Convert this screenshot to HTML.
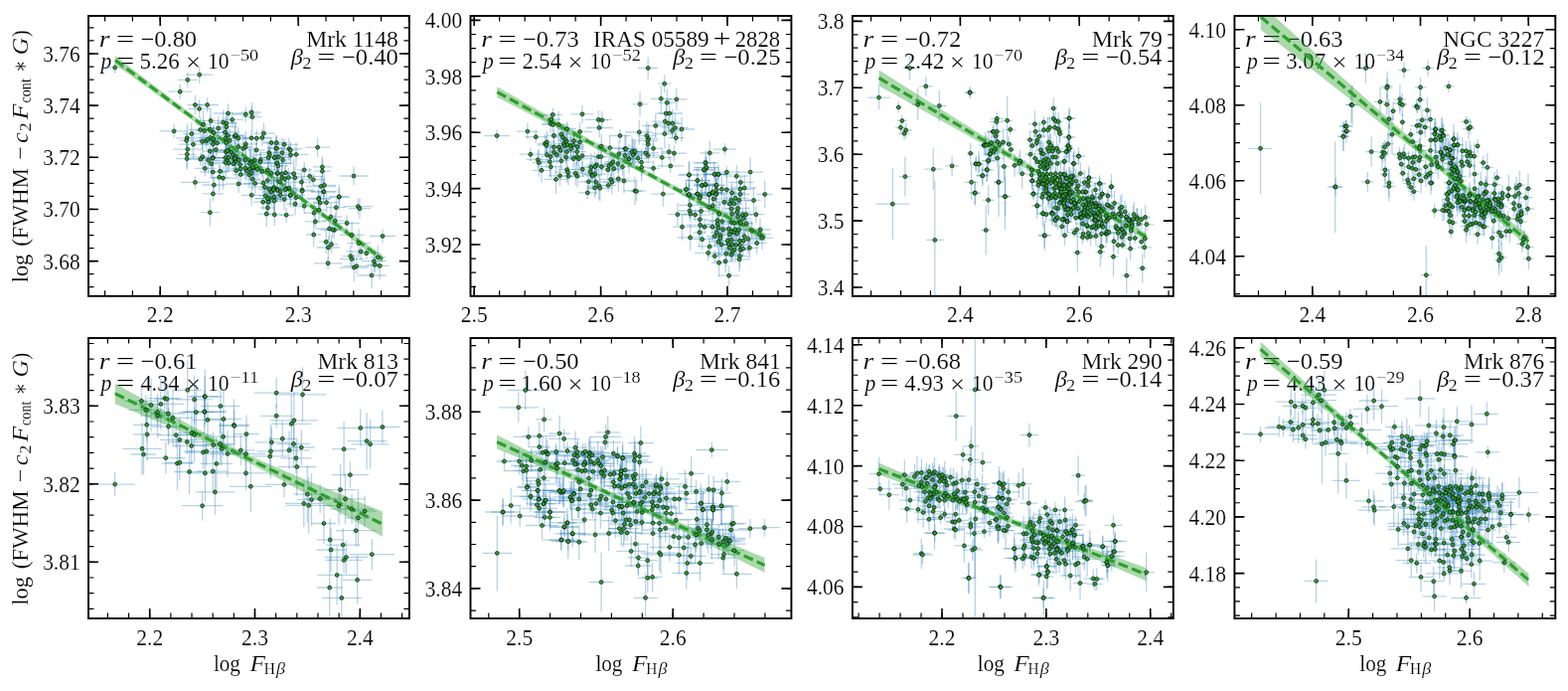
<!DOCTYPE html>
<html><head><meta charset="utf-8"><style>
html,body{margin:0;padding:0;background:#fff;width:1578px;height:695px;overflow:hidden}
svg{display:block}
svg{font-family:"Liberation Serif", "DejaVu Serif", serif;font-size:23px}
text{fill:#000;stroke:#fff;stroke-width:0.15px}
</style></head><body>
<svg width="1578" height="695" viewBox="0 0 1578 695">
<rect width="1578" height="695" fill="#fff"/>
<g><text x="161.2" y="323.7" text-anchor="middle" textLength="26.8" lengthAdjust="spacingAndGlyphs">2.2</text>
<text x="300.2" y="323.7" text-anchor="middle" textLength="26.8" lengthAdjust="spacingAndGlyphs">2.3</text>
<text x="80.6" y="61.9" text-anchor="end" textLength="37.4" lengthAdjust="spacingAndGlyphs">3.76</text>
<text x="80.6" y="114.05" text-anchor="end" textLength="37.4" lengthAdjust="spacingAndGlyphs">3.74</text>
<text x="80.6" y="166.2" text-anchor="end" textLength="37.4" lengthAdjust="spacingAndGlyphs">3.72</text>
<text x="80.6" y="218.35" text-anchor="end" textLength="37.4" lengthAdjust="spacingAndGlyphs">3.70</text>
<text x="80.6" y="270.5" text-anchor="end" textLength="37.4" lengthAdjust="spacingAndGlyphs">3.68</text>
<text x="99.68" y="46.9" font-size="23.5" font-style="italic" textLength="10.74" lengthAdjust="spacingAndGlyphs">r</text>
<text x="116.85" y="46.9" font-size="23.5" textLength="18.66" lengthAdjust="spacingAndGlyphs">=</text>
<text x="141.48" y="46.9" font-size="23.5" textLength="56.65" lengthAdjust="spacingAndGlyphs">−0.80</text>
<text x="101.56" y="69" font-size="23.5" font-style="italic" textLength="10.79" lengthAdjust="spacingAndGlyphs">p</text>
<text x="116.85" y="69" font-size="23.5" textLength="18.66" lengthAdjust="spacingAndGlyphs">=</text>
<text x="140.56" y="69" font-size="23.5" textLength="40.22" lengthAdjust="spacingAndGlyphs">5.26</text>
<text x="187.1" y="71.4" font-size="26" textLength="14.97" lengthAdjust="spacingAndGlyphs">×</text>
<text x="209.01" y="69" font-size="23.5" textLength="21.51" lengthAdjust="spacingAndGlyphs">10</text>
<text x="231.7" y="60.6" font-size="16.5" textLength="28.4" lengthAdjust="spacingAndGlyphs">−50</text>
<text x="308.23" y="46.9" font-size="23.5" textLength="92.66" lengthAdjust="spacingAndGlyphs">Mrk 1148</text>
<text x="292.89" y="65.4" font-size="23.5" font-style="italic" textLength="12.14" lengthAdjust="spacingAndGlyphs">β</text>
<text x="304.19" y="68.8" font-size="16.5" textLength="9.23" lengthAdjust="spacingAndGlyphs">2</text>
<text x="319.38" y="65.4" font-size="23.5" textLength="18.3" lengthAdjust="spacingAndGlyphs">=</text>
<text x="343.97" y="65.4" font-size="23.5" textLength="56.96" lengthAdjust="spacingAndGlyphs">−0.40</text>
<text x="477.2" y="323.7" text-anchor="middle" textLength="26.8" lengthAdjust="spacingAndGlyphs">2.5</text>
<text x="604.6" y="323.7" text-anchor="middle" textLength="26.8" lengthAdjust="spacingAndGlyphs">2.6</text>
<text x="732" y="323.7" text-anchor="middle" textLength="26.8" lengthAdjust="spacingAndGlyphs">2.7</text>
<text x="465.1" y="28.3" text-anchor="end" textLength="37.4" lengthAdjust="spacingAndGlyphs">4.00</text>
<text x="465.1" y="84.7" text-anchor="end" textLength="37.4" lengthAdjust="spacingAndGlyphs">3.98</text>
<text x="465.1" y="141.1" text-anchor="end" textLength="37.4" lengthAdjust="spacingAndGlyphs">3.96</text>
<text x="465.1" y="197.5" text-anchor="end" textLength="37.4" lengthAdjust="spacingAndGlyphs">3.94</text>
<text x="465.1" y="253.9" text-anchor="end" textLength="37.4" lengthAdjust="spacingAndGlyphs">3.92</text>
<text x="484.18" y="46.9" font-size="23.5" font-style="italic" textLength="10.74" lengthAdjust="spacingAndGlyphs">r</text>
<text x="501.35" y="46.9" font-size="23.5" textLength="18.66" lengthAdjust="spacingAndGlyphs">=</text>
<text x="525.98" y="46.9" font-size="23.5" textLength="56.68" lengthAdjust="spacingAndGlyphs">−0.73</text>
<text x="486.06" y="69" font-size="23.5" font-style="italic" textLength="10.79" lengthAdjust="spacingAndGlyphs">p</text>
<text x="501.35" y="69" font-size="23.5" textLength="18.66" lengthAdjust="spacingAndGlyphs">=</text>
<text x="525.41" y="69" font-size="23.5" textLength="39.55" lengthAdjust="spacingAndGlyphs">2.54</text>
<text x="571.6" y="71.4" font-size="26" textLength="14.97" lengthAdjust="spacingAndGlyphs">×</text>
<text x="593.51" y="69" font-size="23.5" textLength="21.51" lengthAdjust="spacingAndGlyphs">10</text>
<text x="616.19" y="60.6" font-size="16.5" textLength="28.73" lengthAdjust="spacingAndGlyphs">−52</text>
<text x="597.06" y="46.9" font-size="23.5" textLength="116.59" lengthAdjust="spacingAndGlyphs">IRAS 05589</text>
<text x="717.41" y="47.3" font-size="25.5" textLength="18.06" lengthAdjust="spacingAndGlyphs">+</text>
<text x="739.81" y="46.9" font-size="23.5" textLength="45.26" lengthAdjust="spacingAndGlyphs">2828</text>
<text x="677.39" y="65.4" font-size="23.5" font-style="italic" textLength="12.14" lengthAdjust="spacingAndGlyphs">β</text>
<text x="688.69" y="68.8" font-size="16.5" textLength="9.23" lengthAdjust="spacingAndGlyphs">2</text>
<text x="703.88" y="65.4" font-size="23.5" textLength="18.3" lengthAdjust="spacingAndGlyphs">=</text>
<text x="728.47" y="65.4" font-size="23.5" textLength="56.99" lengthAdjust="spacingAndGlyphs">−0.25</text>
<text x="966.4" y="323.7" text-anchor="middle" textLength="26.8" lengthAdjust="spacingAndGlyphs">2.4</text>
<text x="1086.2" y="323.7" text-anchor="middle" textLength="26.8" lengthAdjust="spacingAndGlyphs">2.6</text>
<text x="849.5" y="29.3" text-anchor="end" textLength="26.8" lengthAdjust="spacingAndGlyphs">3.8</text>
<text x="849.5" y="96.2" text-anchor="end" textLength="26.8" lengthAdjust="spacingAndGlyphs">3.7</text>
<text x="849.5" y="163.1" text-anchor="end" textLength="26.8" lengthAdjust="spacingAndGlyphs">3.6</text>
<text x="849.5" y="230" text-anchor="end" textLength="26.8" lengthAdjust="spacingAndGlyphs">3.5</text>
<text x="849.5" y="296.9" text-anchor="end" textLength="26.8" lengthAdjust="spacingAndGlyphs">3.4</text>
<text x="868.58" y="46.9" font-size="23.5" font-style="italic" textLength="10.74" lengthAdjust="spacingAndGlyphs">r</text>
<text x="885.75" y="46.9" font-size="23.5" textLength="18.66" lengthAdjust="spacingAndGlyphs">=</text>
<text x="910.37" y="46.9" font-size="23.5" textLength="57.09" lengthAdjust="spacingAndGlyphs">−0.72</text>
<text x="870.46" y="69" font-size="23.5" font-style="italic" textLength="10.79" lengthAdjust="spacingAndGlyphs">p</text>
<text x="885.75" y="69" font-size="23.5" textLength="18.66" lengthAdjust="spacingAndGlyphs">=</text>
<text x="909.78" y="69" font-size="23.5" textLength="40.49" lengthAdjust="spacingAndGlyphs">2.42</text>
<text x="956" y="71.4" font-size="26" textLength="14.97" lengthAdjust="spacingAndGlyphs">×</text>
<text x="977.91" y="69" font-size="23.5" textLength="21.51" lengthAdjust="spacingAndGlyphs">10</text>
<text x="1000.6" y="60.6" font-size="16.5" textLength="28.4" lengthAdjust="spacingAndGlyphs">−70</text>
<text x="1098.81" y="46.9" font-size="23.5" textLength="71.07" lengthAdjust="spacingAndGlyphs">Mrk 79</text>
<text x="1061.79" y="65.4" font-size="23.5" font-style="italic" textLength="12.14" lengthAdjust="spacingAndGlyphs">β</text>
<text x="1073.09" y="68.8" font-size="16.5" textLength="9.23" lengthAdjust="spacingAndGlyphs">2</text>
<text x="1088.28" y="65.4" font-size="23.5" textLength="18.3" lengthAdjust="spacingAndGlyphs">=</text>
<text x="1112.89" y="65.4" font-size="23.5" textLength="56.39" lengthAdjust="spacingAndGlyphs">−0.54</text>
<text x="1320.8" y="323.7" text-anchor="middle" textLength="26.8" lengthAdjust="spacingAndGlyphs">2.4</text>
<text x="1429.5" y="323.7" text-anchor="middle" textLength="26.8" lengthAdjust="spacingAndGlyphs">2.6</text>
<text x="1538.2" y="323.7" text-anchor="middle" textLength="26.8" lengthAdjust="spacingAndGlyphs">2.8</text>
<text x="1234" y="37.6" text-anchor="end" textLength="37.4" lengthAdjust="spacingAndGlyphs">4.10</text>
<text x="1234" y="113.6" text-anchor="end" textLength="37.4" lengthAdjust="spacingAndGlyphs">4.08</text>
<text x="1234" y="189.6" text-anchor="end" textLength="37.4" lengthAdjust="spacingAndGlyphs">4.06</text>
<text x="1234" y="265.6" text-anchor="end" textLength="37.4" lengthAdjust="spacingAndGlyphs">4.04</text>
<text x="1253.08" y="46.9" font-size="23.5" font-style="italic" textLength="10.74" lengthAdjust="spacingAndGlyphs">r</text>
<text x="1270.25" y="46.9" font-size="23.5" textLength="18.66" lengthAdjust="spacingAndGlyphs">=</text>
<text x="1294.88" y="46.9" font-size="23.5" textLength="56.68" lengthAdjust="spacingAndGlyphs">−0.63</text>
<text x="1254.96" y="69" font-size="23.5" font-style="italic" textLength="10.79" lengthAdjust="spacingAndGlyphs">p</text>
<text x="1270.25" y="69" font-size="23.5" textLength="18.66" lengthAdjust="spacingAndGlyphs">=</text>
<text x="1294.21" y="69" font-size="23.5" textLength="39.95" lengthAdjust="spacingAndGlyphs">3.07</text>
<text x="1340.5" y="71.4" font-size="26" textLength="14.97" lengthAdjust="spacingAndGlyphs">×</text>
<text x="1362.41" y="69" font-size="23.5" textLength="21.51" lengthAdjust="spacingAndGlyphs">10</text>
<text x="1385.11" y="60.6" font-size="16.5" textLength="27.97" lengthAdjust="spacingAndGlyphs">−34</text>
<text x="1452.23" y="46.9" font-size="23.5" textLength="101.85" lengthAdjust="spacingAndGlyphs">NGC 3227</text>
<text x="1446.29" y="65.4" font-size="23.5" font-style="italic" textLength="12.14" lengthAdjust="spacingAndGlyphs">β</text>
<text x="1457.59" y="68.8" font-size="16.5" textLength="9.23" lengthAdjust="spacingAndGlyphs">2</text>
<text x="1472.78" y="65.4" font-size="23.5" textLength="18.3" lengthAdjust="spacingAndGlyphs">=</text>
<text x="1497.36" y="65.4" font-size="23.5" textLength="57.4" lengthAdjust="spacingAndGlyphs">−0.12</text>
<text x="150.7" y="648.7" text-anchor="middle" textLength="26.8" lengthAdjust="spacingAndGlyphs">2.2</text>
<text x="256.5" y="648.7" text-anchor="middle" textLength="26.8" lengthAdjust="spacingAndGlyphs">2.3</text>
<text x="362.3" y="648.7" text-anchor="middle" textLength="26.8" lengthAdjust="spacingAndGlyphs">2.4</text>
<text x="80.6" y="416.2" text-anchor="end" textLength="37.4" lengthAdjust="spacingAndGlyphs">3.83</text>
<text x="80.6" y="494.7" text-anchor="end" textLength="37.4" lengthAdjust="spacingAndGlyphs">3.82</text>
<text x="80.6" y="573.2" text-anchor="end" textLength="37.4" lengthAdjust="spacingAndGlyphs">3.81</text>
<text x="99.68" y="370.9" font-size="23.5" font-style="italic" textLength="10.74" lengthAdjust="spacingAndGlyphs">r</text>
<text x="116.85" y="370.9" font-size="23.5" textLength="18.66" lengthAdjust="spacingAndGlyphs">=</text>
<text x="141.47" y="370.9" font-size="23.5" textLength="57.22" lengthAdjust="spacingAndGlyphs">−0.61</text>
<text x="101.56" y="393" font-size="23.5" font-style="italic" textLength="10.79" lengthAdjust="spacingAndGlyphs">p</text>
<text x="116.85" y="393" font-size="23.5" textLength="18.66" lengthAdjust="spacingAndGlyphs">=</text>
<text x="141.46" y="393" font-size="23.5" textLength="38.98" lengthAdjust="spacingAndGlyphs">4.34</text>
<text x="187.1" y="395.4" font-size="26" textLength="14.97" lengthAdjust="spacingAndGlyphs">×</text>
<text x="209.01" y="393" font-size="23.5" textLength="21.51" lengthAdjust="spacingAndGlyphs">10</text>
<text x="231.68" y="384.6" font-size="16.5" textLength="28.82" lengthAdjust="spacingAndGlyphs">−11</text>
<text x="319.52" y="370.9" font-size="23.5" textLength="81.39" lengthAdjust="spacingAndGlyphs">Mrk 813</text>
<text x="292.89" y="389.4" font-size="23.5" font-style="italic" textLength="12.14" lengthAdjust="spacingAndGlyphs">β</text>
<text x="304.19" y="392.8" font-size="16.5" textLength="9.23" lengthAdjust="spacingAndGlyphs">2</text>
<text x="319.38" y="389.4" font-size="23.5" textLength="18.3" lengthAdjust="spacingAndGlyphs">=</text>
<text x="343.98" y="389.4" font-size="23.5" textLength="56.73" lengthAdjust="spacingAndGlyphs">−0.07</text>
<text x="214.95" y="674.8" textLength="27" lengthAdjust="spacingAndGlyphs">log</text>
<text x="251.45" y="674.8" font-style="italic" textLength="15.5" lengthAdjust="spacingAndGlyphs">F</text>
<text x="265.65" y="678" font-size="16.5" textLength="11.1" lengthAdjust="spacingAndGlyphs">H</text>
<text x="277.95" y="678" font-size="16.5" font-style="italic" textLength="9" lengthAdjust="spacingAndGlyphs">β</text>
<text x="522.7" y="648.7" text-anchor="middle" textLength="26.8" lengthAdjust="spacingAndGlyphs">2.5</text>
<text x="677.2" y="648.7" text-anchor="middle" textLength="26.8" lengthAdjust="spacingAndGlyphs">2.6</text>
<text x="465.1" y="422.2" text-anchor="end" textLength="37.4" lengthAdjust="spacingAndGlyphs">3.88</text>
<text x="465.1" y="511" text-anchor="end" textLength="37.4" lengthAdjust="spacingAndGlyphs">3.86</text>
<text x="465.1" y="599.8" text-anchor="end" textLength="37.4" lengthAdjust="spacingAndGlyphs">3.84</text>
<text x="484.18" y="370.9" font-size="23.5" font-style="italic" textLength="10.74" lengthAdjust="spacingAndGlyphs">r</text>
<text x="501.35" y="370.9" font-size="23.5" textLength="18.66" lengthAdjust="spacingAndGlyphs">=</text>
<text x="525.98" y="370.9" font-size="23.5" textLength="56.65" lengthAdjust="spacingAndGlyphs">−0.50</text>
<text x="486.06" y="393" font-size="23.5" font-style="italic" textLength="10.79" lengthAdjust="spacingAndGlyphs">p</text>
<text x="501.35" y="393" font-size="23.5" textLength="18.66" lengthAdjust="spacingAndGlyphs">=</text>
<text x="524.33" y="393" font-size="23.5" textLength="41.16" lengthAdjust="spacingAndGlyphs">1.60</text>
<text x="571.6" y="395.4" font-size="26" textLength="14.97" lengthAdjust="spacingAndGlyphs">×</text>
<text x="593.51" y="393" font-size="23.5" textLength="21.51" lengthAdjust="spacingAndGlyphs">10</text>
<text x="616.2" y="384.6" font-size="16.5" textLength="28.4" lengthAdjust="spacingAndGlyphs">−18</text>
<text x="704.02" y="370.9" font-size="23.5" textLength="81.9" lengthAdjust="spacingAndGlyphs">Mrk 841</text>
<text x="677.39" y="389.4" font-size="23.5" font-style="italic" textLength="12.14" lengthAdjust="spacingAndGlyphs">β</text>
<text x="688.69" y="392.8" font-size="16.5" textLength="9.23" lengthAdjust="spacingAndGlyphs">2</text>
<text x="703.88" y="389.4" font-size="23.5" textLength="18.3" lengthAdjust="spacingAndGlyphs">=</text>
<text x="728.48" y="389.4" font-size="23.5" textLength="56.75" lengthAdjust="spacingAndGlyphs">−0.16</text>
<text x="599.45" y="674.8" textLength="27" lengthAdjust="spacingAndGlyphs">log</text>
<text x="635.95" y="674.8" font-style="italic" textLength="15.5" lengthAdjust="spacingAndGlyphs">F</text>
<text x="650.15" y="678" font-size="16.5" textLength="11.1" lengthAdjust="spacingAndGlyphs">H</text>
<text x="662.45" y="678" font-size="16.5" font-style="italic" textLength="9" lengthAdjust="spacingAndGlyphs">β</text>
<text x="948" y="648.7" text-anchor="middle" textLength="26.8" lengthAdjust="spacingAndGlyphs">2.2</text>
<text x="1052.85" y="648.7" text-anchor="middle" textLength="26.8" lengthAdjust="spacingAndGlyphs">2.3</text>
<text x="1157.7" y="648.7" text-anchor="middle" textLength="26.8" lengthAdjust="spacingAndGlyphs">2.4</text>
<text x="849.5" y="354.7" text-anchor="end" textLength="37.4" lengthAdjust="spacingAndGlyphs">4.14</text>
<text x="849.5" y="415.6" text-anchor="end" textLength="37.4" lengthAdjust="spacingAndGlyphs">4.12</text>
<text x="849.5" y="476.5" text-anchor="end" textLength="37.4" lengthAdjust="spacingAndGlyphs">4.10</text>
<text x="849.5" y="537.4" text-anchor="end" textLength="37.4" lengthAdjust="spacingAndGlyphs">4.08</text>
<text x="849.5" y="598.3" text-anchor="end" textLength="37.4" lengthAdjust="spacingAndGlyphs">4.06</text>
<text x="868.58" y="370.9" font-size="23.5" font-style="italic" textLength="10.74" lengthAdjust="spacingAndGlyphs">r</text>
<text x="885.75" y="370.9" font-size="23.5" textLength="18.66" lengthAdjust="spacingAndGlyphs">=</text>
<text x="910.38" y="370.9" font-size="23.5" textLength="56.65" lengthAdjust="spacingAndGlyphs">−0.68</text>
<text x="870.46" y="393" font-size="23.5" font-style="italic" textLength="10.79" lengthAdjust="spacingAndGlyphs">p</text>
<text x="885.75" y="393" font-size="23.5" textLength="18.66" lengthAdjust="spacingAndGlyphs">=</text>
<text x="910.36" y="393" font-size="23.5" textLength="39.52" lengthAdjust="spacingAndGlyphs">4.93</text>
<text x="956" y="395.4" font-size="26" textLength="14.97" lengthAdjust="spacingAndGlyphs">×</text>
<text x="977.91" y="393" font-size="23.5" textLength="21.51" lengthAdjust="spacingAndGlyphs">10</text>
<text x="1000.6" y="384.6" font-size="16.5" textLength="28.41" lengthAdjust="spacingAndGlyphs">−35</text>
<text x="1088.42" y="370.9" font-size="23.5" textLength="81.37" lengthAdjust="spacingAndGlyphs">Mrk 290</text>
<text x="1061.79" y="389.4" font-size="23.5" font-style="italic" textLength="12.14" lengthAdjust="spacingAndGlyphs">β</text>
<text x="1073.09" y="392.8" font-size="16.5" textLength="9.23" lengthAdjust="spacingAndGlyphs">2</text>
<text x="1088.28" y="389.4" font-size="23.5" textLength="18.3" lengthAdjust="spacingAndGlyphs">=</text>
<text x="1112.89" y="389.4" font-size="23.5" textLength="56.39" lengthAdjust="spacingAndGlyphs">−0.14</text>
<text x="983.85" y="674.8" textLength="27" lengthAdjust="spacingAndGlyphs">log</text>
<text x="1020.35" y="674.8" font-style="italic" textLength="15.5" lengthAdjust="spacingAndGlyphs">F</text>
<text x="1034.55" y="678" font-size="16.5" textLength="11.1" lengthAdjust="spacingAndGlyphs">H</text>
<text x="1046.85" y="678" font-size="16.5" font-style="italic" textLength="9" lengthAdjust="spacingAndGlyphs">β</text>
<text x="1357.2" y="648.7" text-anchor="middle" textLength="26.8" lengthAdjust="spacingAndGlyphs">2.5</text>
<text x="1479.1" y="648.7" text-anchor="middle" textLength="26.8" lengthAdjust="spacingAndGlyphs">2.6</text>
<text x="1234" y="357.7" text-anchor="end" textLength="37.4" lengthAdjust="spacingAndGlyphs">4.26</text>
<text x="1234" y="414.4" text-anchor="end" textLength="37.4" lengthAdjust="spacingAndGlyphs">4.24</text>
<text x="1234" y="471.1" text-anchor="end" textLength="37.4" lengthAdjust="spacingAndGlyphs">4.22</text>
<text x="1234" y="527.8" text-anchor="end" textLength="37.4" lengthAdjust="spacingAndGlyphs">4.20</text>
<text x="1234" y="584.5" text-anchor="end" textLength="37.4" lengthAdjust="spacingAndGlyphs">4.18</text>
<text x="1253.08" y="370.9" font-size="23.5" font-style="italic" textLength="10.74" lengthAdjust="spacingAndGlyphs">r</text>
<text x="1270.25" y="370.9" font-size="23.5" textLength="18.66" lengthAdjust="spacingAndGlyphs">=</text>
<text x="1294.88" y="370.9" font-size="23.5" textLength="56.73" lengthAdjust="spacingAndGlyphs">−0.59</text>
<text x="1254.96" y="393" font-size="23.5" font-style="italic" textLength="10.79" lengthAdjust="spacingAndGlyphs">p</text>
<text x="1270.25" y="393" font-size="23.5" textLength="18.66" lengthAdjust="spacingAndGlyphs">=</text>
<text x="1294.86" y="393" font-size="23.5" textLength="39.52" lengthAdjust="spacingAndGlyphs">4.43</text>
<text x="1340.5" y="395.4" font-size="26" textLength="14.97" lengthAdjust="spacingAndGlyphs">×</text>
<text x="1362.41" y="393" font-size="23.5" textLength="21.51" lengthAdjust="spacingAndGlyphs">10</text>
<text x="1385.09" y="384.6" font-size="16.5" textLength="28.45" lengthAdjust="spacingAndGlyphs">−29</text>
<text x="1472.93" y="370.9" font-size="23.5" textLength="81.17" lengthAdjust="spacingAndGlyphs">Mrk 876</text>
<text x="1446.29" y="389.4" font-size="23.5" font-style="italic" textLength="12.14" lengthAdjust="spacingAndGlyphs">β</text>
<text x="1457.59" y="392.8" font-size="16.5" textLength="9.23" lengthAdjust="spacingAndGlyphs">2</text>
<text x="1472.78" y="389.4" font-size="23.5" textLength="18.3" lengthAdjust="spacingAndGlyphs">=</text>
<text x="1497.38" y="389.4" font-size="23.5" textLength="56.73" lengthAdjust="spacingAndGlyphs">−0.37</text>
<text x="1368.35" y="674.8" textLength="27" lengthAdjust="spacingAndGlyphs">log</text>
<text x="1404.85" y="674.8" font-style="italic" textLength="15.5" lengthAdjust="spacingAndGlyphs">F</text>
<text x="1419.05" y="678" font-size="16.5" textLength="11.1" lengthAdjust="spacingAndGlyphs">H</text>
<text x="1431.35" y="678" font-size="16.5" font-style="italic" textLength="9" lengthAdjust="spacingAndGlyphs">β</text>
<g transform="translate(27.6 283.8) rotate(-90)"><text x="-0.45" y="0" textLength="28.47" lengthAdjust="spacingAndGlyphs">log</text><text x="36.07" y="0" textLength="7.78" lengthAdjust="spacingAndGlyphs">(</text><text x="43.34" y="0" textLength="71.43" lengthAdjust="spacingAndGlyphs">FWHM</text><text x="123.01" y="0" textLength="13.45" lengthAdjust="spacingAndGlyphs">−</text><text x="140.17" y="0" font-style="italic" textLength="10.48" lengthAdjust="spacingAndGlyphs">c</text><text x="151.62" y="3.4" font-size="16.5" textLength="8.86" lengthAdjust="spacingAndGlyphs">2</text><text x="163.64" y="0" font-style="italic" textLength="15.85" lengthAdjust="spacingAndGlyphs">F</text><text x="180.26" y="3.4" font-size="16.5" textLength="24.42" lengthAdjust="spacingAndGlyphs">cont</text><text x="210.75" y="0" textLength="12.5" lengthAdjust="spacingAndGlyphs" font-family="DejaVu Serif">∗</text><text x="228.67" y="0" font-style="italic" textLength="17.45" lengthAdjust="spacingAndGlyphs">G</text><text x="246.52" y="0" textLength="7" lengthAdjust="spacingAndGlyphs">)</text></g>
<g transform="translate(27.6 608.2) rotate(-90)"><text x="-0.45" y="0" textLength="28.47" lengthAdjust="spacingAndGlyphs">log</text><text x="36.07" y="0" textLength="7.78" lengthAdjust="spacingAndGlyphs">(</text><text x="43.34" y="0" textLength="71.43" lengthAdjust="spacingAndGlyphs">FWHM</text><text x="123.01" y="0" textLength="13.45" lengthAdjust="spacingAndGlyphs">−</text><text x="140.17" y="0" font-style="italic" textLength="10.48" lengthAdjust="spacingAndGlyphs">c</text><text x="151.62" y="3.4" font-size="16.5" textLength="8.86" lengthAdjust="spacingAndGlyphs">2</text><text x="163.64" y="0" font-style="italic" textLength="15.85" lengthAdjust="spacingAndGlyphs">F</text><text x="180.26" y="3.4" font-size="16.5" textLength="24.42" lengthAdjust="spacingAndGlyphs">cont</text><text x="210.75" y="0" textLength="12.5" lengthAdjust="spacingAndGlyphs" font-family="DejaVu Serif">∗</text><text x="228.67" y="0" font-style="italic" textLength="17.45" lengthAdjust="spacingAndGlyphs">G</text><text x="246.52" y="0" textLength="7" lengthAdjust="spacingAndGlyphs">)</text></g></g>
<clipPath id="c0"><rect x="89" y="16" width="322.9" height="281.8"/></clipPath>
<g clip-path="url(#c0)">
<g stroke="#1f77b4" stroke-opacity="0.32" stroke-width="1.3" fill="none"><path d="M105.37 67.9h20.67M115.7 61.81v12.18"/><path d="M187.1 75.1h27.2M200.7 66.41v17.38"/><path d="M178.85 80.4h19.89M188.8 72.66v15.49"/><path d="M169.67 92.2h23.06M181.2 84.74v14.91"/><path d="M188.41 105.5h15.99M196.4 95.6v19.79"/><path d="M197.1 105.5h22.99M208.6 97.93v15.14"/><path d="M189.17 109.4h22.85M200.6 100.21v18.39"/><path d="M160.44 131.9h29.33M175.1 125.08v13.64"/><path d="M214.77 114h29.66M229.6 104.29v19.42"/><path d="M222.67 120.4h22.06M233.7 113.07v14.67"/><path d="M234.55 115.1h25.5M247.3 107.39v15.42"/><path d="M243.37 113h19.46M253.1 106.79v12.42"/><path d="M244.08 117.6h19.43M253.8 102.89v29.41"/><path d="M197.27 121.4h29.66M212.1 108.7v25.4"/><path d="M197.57 125h14.06M204.6 110.54v28.92"/><path d="M210.73 123.3h27.93M224.7 110.36v25.88"/><path d="M219.17 124h16.86M227.6 117.1v13.79"/><path d="M217.58 127.6h20.63M227.9 113.63v27.94"/><path d="M190.08 130.5h23.25M201.7 117.87v25.26"/><path d="M196.94 131.5h17.72M205.8 120.79v21.42"/><path d="M198.72 130.2h25.35M211.4 116.78v26.85"/><path d="M201.64 133.4h26.91M215.1 125.31v16.18"/><path d="M212.51 133h27.97M226.5 125.05v15.89"/><path d="M215.68 136.3h26.83M229.1 125.3v21.99"/><path d="M184.31 134.5h16.97M192.8 123.2v22.59"/><path d="M177.15 138.8h22.29M188.3 124.17v29.26"/><path d="M180.27 141.3h14.66M187.6 133.82v14.95"/><path d="M179.63 145.2h29.73M194.5 131.71v26.98"/><path d="M195.5 142.4h16.4M203.7 134.34v16.12"/><path d="M196.19 141.7h22.63M207.5 134.29v14.83"/><path d="M199.31 140.3h19.18M208.9 133.86v12.89"/><path d="M199.11 138.4h25.39M211.8 131.69v13.41"/><path d="M199.74 141.3h29.91M214.7 127.01v28.57"/><path d="M201.09 144.9h26.62M214.4 131.95v25.9"/><path d="M208.66 143.7h19.88M218.6 131.59v24.22"/><path d="M213.81 139.1h26.18M226.9 128.77v20.65"/><path d="M223.71 141.3h14.98M231.2 129.67v23.27"/><path d="M217.99 143.5h19.21M227.6 132.01v22.98"/><path d="M225.93 137h20.73M236.3 122.43v29.15"/><path d="M228.69 136h17.23M237.3 123.08v25.84"/><path d="M227.31 139.1h25.18M239.9 128.09v22.02"/><path d="M245.46 138.8h15.28M253.1 131.32v14.97"/><path d="M243.56 139.1h29.48M258.3 131.02v16.15"/><path d="M255.39 138.4h16.62M263.7 129.81v17.19"/><path d="M254.2 134.1h22.59M265.5 123.42v21.35"/><path d="M265.97 143.5h14.05M273 137.47v12.06"/><path d="M267.33 143.5h21.94M278.3 135.84v15.33"/><path d="M235.44 144.9h23.72M247.3 131.71v26.37"/><path d="M239.23 147.8h15.53M247 137.25v21.09"/><path d="M234.35 149.5h20.5M244.6 136.39v26.23"/><path d="M174.16 150.2h29.28M188.8 140.45v19.5"/><path d="M179.35 155.3h17.89M188.3 141.39v27.81"/><path d="M204.18 152.1h14.44M211.4 143.13v17.95"/><path d="M207.14 150.6h20.32M217.3 143v15.2"/><path d="M214.86 152.8h24.88M227.3 142.14v21.33"/><path d="M221.11 150.9h17.98M230.1 141.18v19.44"/><path d="M220.16 153.2h25.07M232.7 144.28v17.85"/><path d="M226.96 155.7h15.08M234.5 145.56v20.29"/><path d="M249.54 150.9h17.12M258.1 139.31v23.18"/><path d="M262.18 153.5h17.23M270.8 146.28v14.43"/><path d="M257.35 155.7h28.3M271.5 146.73v17.95"/><path d="M268.66 149.2h18.68M278 138.36v21.69"/><path d="M191.35 157.8h25.09M203.9 145.76v24.08"/><path d="M201.01 158.6h26.77M214.4 150.26v16.68"/><path d="M216.48 158.6h20.83M226.9 149.32v18.55"/><path d="M176.97 159.6h22.27M188.1 148.43v22.33"/><path d="M189.67 160.1h24.07M201.7 153.49v13.22"/><path d="M199.63 161.2h19.94M209.6 148.82v24.75"/><path d="M205.22 164.7h14.57M212.5 151.98v25.43"/><path d="M201.71 159.1h24.97M214.2 149.48v19.23"/><path d="M195.71 169.4h21.19M206.3 161.02v16.76"/><path d="M201.3 173h25.8M214.2 162.68v20.65"/><path d="M212.48 172.3h18.24M221.6 166.04v12.53"/><path d="M210.94 178.3h19.52M220.7 164.01v28.58"/><path d="M212.09 179.2h24.82M224.5 167.57v23.26"/><path d="M181.93 183.4h28.94M196.4 177.12v12.55"/><path d="M203.58 186h23.64M215.4 178.31v15.38"/><path d="M204.22 194.9h20.35M214.4 187.26v15.27"/><path d="M201.61 213.7h19.59M211.4 199.59v28.22"/><path d="M215.5 161.5h25.61M228.3 147.88v27.23"/><path d="M222.6 164.1h15.21M230.2 155.39v17.42"/><path d="M224.03 162.2h26.55M237.3 155.84v12.73"/><path d="M231.78 160.8h17.04M240.3 154.06v13.47"/><path d="M228.06 165.5h27.08M241.6 157.41v16.18"/><path d="M231.61 169.7h20.79M242 163.58v12.25"/><path d="M234.39 175.5h15.82M242.3 164.87v21.25"/><path d="M226.77 185h26.66M240.1 175.93v18.14"/><path d="M237.35 160.8h19.11M246.9 154.43v12.73"/><path d="M240.4 171.9h15.59M248.2 164.56v14.67"/><path d="M242.75 169.9h17.3M251.4 158.77v22.26"/><path d="M245.13 169h19.74M255 154.2v29.6"/><path d="M241.63 175.9h18.55M250.9 162.19v27.41"/><path d="M246.47 180.2h15.47M254.2 169.45v21.5"/><path d="M245.3 184.5h22.79M256.7 172.58v23.83"/><path d="M242.92 196.3h20.56M253.2 185.58v21.43"/><path d="M248.98 160.8h26.44M262.2 153.44v14.73"/><path d="M250.65 163h22.51M261.9 151.71v22.59"/><path d="M256.15 170.9h26.51M269.4 163.43v14.95"/><path d="M253.28 172.3h20.63M263.6 166.08v12.44"/><path d="M257.1 181.4h24.6M269.4 167.59v27.62"/><path d="M255.17 184.1h19.66M265 170.75v26.69"/><path d="M254.24 188.1h24.53M266.5 181.95v12.31"/><path d="M260.04 190.3h21.52M270.8 183.89v12.82"/><path d="M263.49 193.2h19.01M273 179.99v26.41"/><path d="M267.8 188.8h16.01M275.8 177.71v22.18"/><path d="M259.75 196.8h14.91M267.2 189.81v13.98"/><path d="M256.88 199.6h29.23M271.5 192.73v13.74"/><path d="M267.41 198.2h16.79M275.8 183.74v28.92"/><path d="M255.23 203.2h18.94M264.7 195.25v15.9"/><path d="M262.33 203.2h15.54M270.1 192.71v20.99"/><path d="M261.93 209h14.94M269.4 201.02v15.96"/><path d="M259.42 215.2h17.55M268.2 202.49v25.41"/><path d="M268 215.9h16.59M276.3 204.61v22.59"/><path d="M261.17 158.6h17.87M270.1 143.66v29.89"/><path d="M261.37 158.6h29.85M276.3 144.29v28.63"/><path d="M264.9 174.5h28.4M279.1 163.52v21.97"/><path d="M264.25 164.4h28.89M278.7 152.64v23.52"/><path d="M270.42 190.3h16.55M278.7 177.71v25.18"/><path d="M272.31 145.3h27.59M286.1 139.17v12.26"/><path d="M269.64 149.2h17.12M278.2 136.14v26.12"/><path d="M277.66 149.6h26.29M290.8 138.55v22.09"/><path d="M284.32 151.1h15.96M292.3 142.71v16.77"/><path d="M275.01 153.5h17.77M283.9 138.67v29.65"/><path d="M283.8 155.8h17.61M292.6 146.47v18.66"/><path d="M285.49 155.4h25.02M298 143.43v23.94"/><path d="M264.9 158.3h23M276.4 146.44v23.71"/><path d="M266.58 157.8h27.84M280.5 143.57v28.45"/><path d="M276.73 160.9h15.74M284.6 154.63v12.54"/><path d="M264.69 164h28.62M279 149.81v28.38"/><path d="M270.06 166.9h19.89M280 157.3v19.19"/><path d="M307.12 148.2h24.96M319.6 138.41v19.59"/><path d="M298.31 170.9h15.78M306.2 162.66v16.49"/><path d="M314.97 167.9h18.86M324.4 156.8v22.19"/><path d="M316.03 172.2h16.74M324.4 159.64v25.12"/><path d="M341.24 177h29.52M356 167.54v18.93"/><path d="M267.74 174.1h23.13M279.3 162.37v23.45"/><path d="M270.22 174.8h26.77M283.6 163.14v23.32"/><path d="M276.37 173.7h22.26M287.5 161.22v24.97"/><path d="M288.41 174.8h14.38M295.6 160.34v28.92"/><path d="M269.71 178.7h28.38M283.9 166.46v24.49"/><path d="M277.89 179.9h17.23M286.5 168.27v23.26"/><path d="M283.18 178.4h14.45M290.4 168.82v19.16"/><path d="M288.18 178.8h17.45M296.9 167.75v22.1"/><path d="M272.5 182.7h18.01M281.5 175.87v13.66"/><path d="M298.35 177.3h26.7M311.7 169.04v16.52"/><path d="M303.82 180.6h22.96M315.3 174.45v12.3"/><path d="M291.99 183.2h23.02M303.5 170.1v26.21"/><path d="M262.42 188.5h26.56M275.7 179.54v17.91"/><path d="M271.27 191.4h16.05M279.3 179.91v22.97"/><path d="M272.75 192.8h18.9M282.2 184.23v17.14"/><path d="M282.12 189.2h17.36M290.8 179.66v19.08"/><path d="M275.54 189.9h24.92M288 180.29v19.23"/><path d="M291.93 191.1h24.34M304.1 178.55v25.1"/><path d="M312.12 192.8h26.97M325.6 181.66v22.27"/><path d="M308.28 187.5h29.85M323.2 176.98v21.04"/><path d="M315.1 186.3h22.59M326.4 174.38v23.85"/><path d="M277.53 196.4h29.54M292.3 184.08v24.64"/><path d="M267.87 196.4h28.67M282.2 188.97v14.86"/><path d="M330.82 198.1h20.75M341.2 185.77v24.66"/><path d="M307.94 199.3h25.72M320.8 185.83v26.94"/><path d="M278.07 190.7h18.26M287.2 181.87v17.66"/><path d="M281.9 196.5h20.6M292.2 186.97v19.06"/><path d="M290.26 198.6h15.48M298 189.09v19.02"/><path d="M292.06 192.2h24.28M304.2 179.54v25.31"/><path d="M288.16 205.1h17.68M297 193.51v23.17"/><path d="M293.19 207.3h26.02M306.2 199.9v14.8"/><path d="M281.09 216.3h14.23M288.2 208.86v14.88"/><path d="M313.37 192.9h24.86M325.8 178.68v28.44"/><path d="M331.2 197.9h20.2M341.3 189.09v17.62"/><path d="M308.68 200.4h24.04M320.7 191.55v17.69"/><path d="M314.89 204h14.63M322.2 195.79v16.42"/><path d="M316.8 203.7h23.61M328.6 193.58v20.24"/><path d="M328.52 208.7h19.55M338.3 199.17v19.06"/><path d="M312.9 211.2h16.19M321 198.29v25.81"/><path d="M306.01 214.2h19.98M316 201.99v24.42"/><path d="M321.46 218.1h23.08M333 204v28.2"/><path d="M323.93 221.9h26.74M337.3 214.71v14.38"/><path d="M306.79 222.8h21.22M317.4 216.7v12.2"/><path d="M336.06 224.5h26.08M349.1 216.42v16.15"/><path d="M345.49 207.6h29.63M360.3 199.57v16.06"/><path d="M350.93 209.7h22.13M362 199.28v20.85"/><path d="M317.88 230h27.24M331.5 218.64v22.71"/><path d="M322.45 231.4h28.1M336.5 222.52v17.75"/><path d="M326.92 231h15.56M334.7 223.33v15.34"/><path d="M308.33 236h14.74M315.7 223.63v24.73"/><path d="M341.61 236.3h24.98M354.1 223.51v25.58"/><path d="M371.75 237.5h26.49M385 230.37v14.25"/><path d="M320.69 243.2h15.03M328.2 231.27v23.86"/><path d="M326.49 245.8h14.02M333.5 236.77v18.07"/><path d="M318.7 249h23.4M330.4 237.13v23.74"/><path d="M349.08 244.7h23.85M361 230.16v29.09"/><path d="M348.4 252.9h29.59M363.2 244.11v17.59"/><path d="M359.28 254.7h19.04M368.8 248.51v12.39"/><path d="M344.73 257.6h15.94M352.7 247.66v19.89"/><path d="M341.97 260.5h24.27M354.1 252.38v16.24"/><path d="M372.5 258.8h15.59M380.3 246.64v24.33"/><path d="M364.02 262.7h24.76M376.4 252.2v21.01"/><path d="M369.27 266.3h16.26M377.4 258.53v15.54"/><path d="M373.06 267.4h18.29M382.2 253.72v27.35"/><path d="M315.69 264.8h28.82M330.1 258.38v12.85"/><path d="M341.81 269.1h28.99M356.3 254.89v28.43"/><path d="M345.46 267.7h26.69M358.8 259.6v16.2"/><path d="M359.26 277h29.47M374 263.72v26.56"/><path d="M236.79 168.93h20.05M246.81 157.72v22.43"/><path d="M273.7 200.34h24.76M286.09 189.69v21.3"/><path d="M223.58 159.02h25.96M236.56 146.35v25.35"/><path d="M265.34 190.62h19.67M275.18 176.23v28.8"/><path d="M226.33 164.68h17.13M234.89 155.7v17.97"/><path d="M242.18 174.11h21.56M252.96 163.14v21.94"/><path d="M230.14 156.95h14.39M237.34 149.63v14.64"/><path d="M242.15 168.17h24.94M254.62 157.17v22"/><path d="M210.65 128.94h18.09M219.69 116.62v24.65"/><path d="M218.6 151.64h20.42M228.81 143.82v15.64"/><path d="M256.99 199.58h24.25M269.11 192.05v15.06"/><path d="M240 162.9h24.6M252.3 151.62v22.56"/><path d="M241.52 161h29.28M256.16 148.53v24.94"/><path d="M226.47 159.95h18.13M235.53 152.75v14.38"/><path d="M201.82 139.51h25.87M214.75 127.78v23.47"/><path d="M216.65 158.37h26.86M230.08 146.33v24.08"/><path d="M226.55 147.55h26.65M239.88 136.25v22.6"/><path d="M228.34 171.67h18.96M237.82 163.04v17.25"/><path d="M261.05 174.09h23.82M272.96 164.03v20.12"/><path d="M225.66 159.18h21.59M236.46 147.89v22.58"/><path d="M211.9 163.51h29.99M226.89 149.29v28.43"/><path d="M262.69 202.1h26.71M276.04 188.79v26.62"/><path d="M244.85 162.85h16.11M252.91 151.08v23.55"/><path d="M244.18 164.58h14.23M251.29 150.06v29.05"/><path d="M245.46 170.29h27.26M259.09 161.6v17.37"/></g>
<path d="M116 56.2 L122.72 61.36 L129.45 66.51 L136.18 71.66 L142.9 76.81 L149.62 81.95 L156.35 87.09 L163.07 92.22 L169.8 97.35 L176.53 102.48 L183.25 107.6 L189.97 112.71 L196.7 117.81 L203.43 122.91 L210.15 127.99 L216.88 133.07 L223.6 138.13 L230.32 143.18 L237.05 148.22 L243.78 153.24 L250.5 158.25 L257.23 163.25 L263.95 168.24 L270.68 173.22 L277.4 178.19 L284.12 183.16 L290.85 188.12 L297.57 193.07 L304.3 198.01 L311.02 202.95 L317.75 207.89 L324.48 212.82 L331.2 217.74 L337.93 222.66 L344.65 227.57 L351.38 232.49 L358.1 237.4 L364.82 242.3 L371.55 247.2 L378.27 252.1 L385 257 L385 264.2 L378.27 259.09 L371.55 253.99 L364.82 248.88 L358.1 243.78 L351.38 238.69 L344.65 233.6 L337.93 228.51 L331.2 223.42 L324.48 218.34 L317.75 213.26 L311.02 208.19 L304.3 203.13 L297.57 198.07 L290.85 193.01 L284.12 187.97 L277.4 182.93 L270.68 177.9 L263.95 172.87 L257.23 167.86 L250.5 162.85 L243.78 157.85 L237.05 152.87 L230.32 147.9 L223.6 142.95 L216.88 138.01 L210.15 133.08 L203.43 128.16 L196.7 123.25 L189.97 118.35 L183.25 113.45 L176.53 108.57 L169.8 103.69 L163.07 98.81 L156.35 93.94 L149.62 89.08 L142.9 84.21 L136.18 79.36 L129.45 74.5 L122.72 69.65 L116 64.8 Z" fill="#2ca02c" fill-opacity="0.4" stroke="none"/>
<path d="M116 60.5L385 260.6" stroke="#2ca02c" stroke-width="3.2" stroke-dasharray="10 4.4" fill="none"/>
<g fill="#2ca02c" stroke="#000" stroke-width="0.6"><circle cx="115.7" cy="67.9" r="1.95"/><circle cx="200.7" cy="75.1" r="1.95"/><circle cx="188.8" cy="80.4" r="1.95"/><circle cx="181.2" cy="92.2" r="1.95"/><circle cx="196.4" cy="105.5" r="1.95"/><circle cx="208.6" cy="105.5" r="1.95"/><circle cx="200.6" cy="109.4" r="1.95"/><circle cx="175.1" cy="131.9" r="1.95"/><circle cx="229.6" cy="114" r="1.95"/><circle cx="233.7" cy="120.4" r="1.95"/><circle cx="247.3" cy="115.1" r="1.95"/><circle cx="253.1" cy="113" r="1.95"/><circle cx="253.8" cy="117.6" r="1.95"/><circle cx="212.1" cy="121.4" r="1.95"/><circle cx="204.6" cy="125" r="1.95"/><circle cx="224.7" cy="123.3" r="1.95"/><circle cx="227.6" cy="124" r="1.95"/><circle cx="227.9" cy="127.6" r="1.95"/><circle cx="201.7" cy="130.5" r="1.95"/><circle cx="205.8" cy="131.5" r="1.95"/><circle cx="211.4" cy="130.2" r="1.95"/><circle cx="215.1" cy="133.4" r="1.95"/><circle cx="226.5" cy="133" r="1.95"/><circle cx="229.1" cy="136.3" r="1.95"/><circle cx="192.8" cy="134.5" r="1.95"/><circle cx="188.3" cy="138.8" r="1.95"/><circle cx="187.6" cy="141.3" r="1.95"/><circle cx="194.5" cy="145.2" r="1.95"/><circle cx="203.7" cy="142.4" r="1.95"/><circle cx="207.5" cy="141.7" r="1.95"/><circle cx="208.9" cy="140.3" r="1.95"/><circle cx="211.8" cy="138.4" r="1.95"/><circle cx="214.7" cy="141.3" r="1.95"/><circle cx="214.4" cy="144.9" r="1.95"/><circle cx="218.6" cy="143.7" r="1.95"/><circle cx="226.9" cy="139.1" r="1.95"/><circle cx="231.2" cy="141.3" r="1.95"/><circle cx="227.6" cy="143.5" r="1.95"/><circle cx="236.3" cy="137" r="1.95"/><circle cx="237.3" cy="136" r="1.95"/><circle cx="239.9" cy="139.1" r="1.95"/><circle cx="253.1" cy="138.8" r="1.95"/><circle cx="258.3" cy="139.1" r="1.95"/><circle cx="263.7" cy="138.4" r="1.95"/><circle cx="265.5" cy="134.1" r="1.95"/><circle cx="273" cy="143.5" r="1.95"/><circle cx="278.3" cy="143.5" r="1.95"/><circle cx="247.3" cy="144.9" r="1.95"/><circle cx="247" cy="147.8" r="1.95"/><circle cx="244.6" cy="149.5" r="1.95"/><circle cx="188.8" cy="150.2" r="1.95"/><circle cx="188.3" cy="155.3" r="1.95"/><circle cx="211.4" cy="152.1" r="1.95"/><circle cx="217.3" cy="150.6" r="1.95"/><circle cx="227.3" cy="152.8" r="1.95"/><circle cx="230.1" cy="150.9" r="1.95"/><circle cx="232.7" cy="153.2" r="1.95"/><circle cx="234.5" cy="155.7" r="1.95"/><circle cx="258.1" cy="150.9" r="1.95"/><circle cx="270.8" cy="153.5" r="1.95"/><circle cx="271.5" cy="155.7" r="1.95"/><circle cx="278" cy="149.2" r="1.95"/><circle cx="203.9" cy="157.8" r="1.95"/><circle cx="214.4" cy="158.6" r="1.95"/><circle cx="226.9" cy="158.6" r="1.95"/><circle cx="188.1" cy="159.6" r="1.95"/><circle cx="201.7" cy="160.1" r="1.95"/><circle cx="209.6" cy="161.2" r="1.95"/><circle cx="212.5" cy="164.7" r="1.95"/><circle cx="214.2" cy="159.1" r="1.95"/><circle cx="206.3" cy="169.4" r="1.95"/><circle cx="214.2" cy="173" r="1.95"/><circle cx="221.6" cy="172.3" r="1.95"/><circle cx="220.7" cy="178.3" r="1.95"/><circle cx="224.5" cy="179.2" r="1.95"/><circle cx="196.4" cy="183.4" r="1.95"/><circle cx="215.4" cy="186" r="1.95"/><circle cx="214.4" cy="194.9" r="1.95"/><circle cx="211.4" cy="213.7" r="1.95"/><circle cx="228.3" cy="161.5" r="1.95"/><circle cx="230.2" cy="164.1" r="1.95"/><circle cx="237.3" cy="162.2" r="1.95"/><circle cx="240.3" cy="160.8" r="1.95"/><circle cx="241.6" cy="165.5" r="1.95"/><circle cx="242" cy="169.7" r="1.95"/><circle cx="242.3" cy="175.5" r="1.95"/><circle cx="240.1" cy="185" r="1.95"/><circle cx="246.9" cy="160.8" r="1.95"/><circle cx="248.2" cy="171.9" r="1.95"/><circle cx="251.4" cy="169.9" r="1.95"/><circle cx="255" cy="169" r="1.95"/><circle cx="250.9" cy="175.9" r="1.95"/><circle cx="254.2" cy="180.2" r="1.95"/><circle cx="256.7" cy="184.5" r="1.95"/><circle cx="253.2" cy="196.3" r="1.95"/><circle cx="262.2" cy="160.8" r="1.95"/><circle cx="261.9" cy="163" r="1.95"/><circle cx="269.4" cy="170.9" r="1.95"/><circle cx="263.6" cy="172.3" r="1.95"/><circle cx="269.4" cy="181.4" r="1.95"/><circle cx="265" cy="184.1" r="1.95"/><circle cx="266.5" cy="188.1" r="1.95"/><circle cx="270.8" cy="190.3" r="1.95"/><circle cx="273" cy="193.2" r="1.95"/><circle cx="275.8" cy="188.8" r="1.95"/><circle cx="267.2" cy="196.8" r="1.95"/><circle cx="271.5" cy="199.6" r="1.95"/><circle cx="275.8" cy="198.2" r="1.95"/><circle cx="264.7" cy="203.2" r="1.95"/><circle cx="270.1" cy="203.2" r="1.95"/><circle cx="269.4" cy="209" r="1.95"/><circle cx="268.2" cy="215.2" r="1.95"/><circle cx="276.3" cy="215.9" r="1.95"/><circle cx="270.1" cy="158.6" r="1.95"/><circle cx="276.3" cy="158.6" r="1.95"/><circle cx="279.1" cy="174.5" r="1.95"/><circle cx="278.7" cy="164.4" r="1.95"/><circle cx="278.7" cy="190.3" r="1.95"/><circle cx="286.1" cy="145.3" r="1.95"/><circle cx="278.2" cy="149.2" r="1.95"/><circle cx="290.8" cy="149.6" r="1.95"/><circle cx="292.3" cy="151.1" r="1.95"/><circle cx="283.9" cy="153.5" r="1.95"/><circle cx="292.6" cy="155.8" r="1.95"/><circle cx="298" cy="155.4" r="1.95"/><circle cx="276.4" cy="158.3" r="1.95"/><circle cx="280.5" cy="157.8" r="1.95"/><circle cx="284.6" cy="160.9" r="1.95"/><circle cx="279" cy="164" r="1.95"/><circle cx="280" cy="166.9" r="1.95"/><circle cx="319.6" cy="148.2" r="1.95"/><circle cx="306.2" cy="170.9" r="1.95"/><circle cx="324.4" cy="167.9" r="1.95"/><circle cx="324.4" cy="172.2" r="1.95"/><circle cx="356" cy="177" r="1.95"/><circle cx="279.3" cy="174.1" r="1.95"/><circle cx="283.6" cy="174.8" r="1.95"/><circle cx="287.5" cy="173.7" r="1.95"/><circle cx="295.6" cy="174.8" r="1.95"/><circle cx="283.9" cy="178.7" r="1.95"/><circle cx="286.5" cy="179.9" r="1.95"/><circle cx="290.4" cy="178.4" r="1.95"/><circle cx="296.9" cy="178.8" r="1.95"/><circle cx="281.5" cy="182.7" r="1.95"/><circle cx="311.7" cy="177.3" r="1.95"/><circle cx="315.3" cy="180.6" r="1.95"/><circle cx="303.5" cy="183.2" r="1.95"/><circle cx="275.7" cy="188.5" r="1.95"/><circle cx="279.3" cy="191.4" r="1.95"/><circle cx="282.2" cy="192.8" r="1.95"/><circle cx="290.8" cy="189.2" r="1.95"/><circle cx="288" cy="189.9" r="1.95"/><circle cx="304.1" cy="191.1" r="1.95"/><circle cx="325.6" cy="192.8" r="1.95"/><circle cx="323.2" cy="187.5" r="1.95"/><circle cx="326.4" cy="186.3" r="1.95"/><circle cx="292.3" cy="196.4" r="1.95"/><circle cx="282.2" cy="196.4" r="1.95"/><circle cx="341.2" cy="198.1" r="1.95"/><circle cx="320.8" cy="199.3" r="1.95"/><circle cx="287.2" cy="190.7" r="1.95"/><circle cx="292.2" cy="196.5" r="1.95"/><circle cx="298" cy="198.6" r="1.95"/><circle cx="304.2" cy="192.2" r="1.95"/><circle cx="297" cy="205.1" r="1.95"/><circle cx="306.2" cy="207.3" r="1.95"/><circle cx="288.2" cy="216.3" r="1.95"/><circle cx="325.8" cy="192.9" r="1.95"/><circle cx="341.3" cy="197.9" r="1.95"/><circle cx="320.7" cy="200.4" r="1.95"/><circle cx="322.2" cy="204" r="1.95"/><circle cx="328.6" cy="203.7" r="1.95"/><circle cx="338.3" cy="208.7" r="1.95"/><circle cx="321" cy="211.2" r="1.95"/><circle cx="316" cy="214.2" r="1.95"/><circle cx="333" cy="218.1" r="1.95"/><circle cx="337.3" cy="221.9" r="1.95"/><circle cx="317.4" cy="222.8" r="1.95"/><circle cx="349.1" cy="224.5" r="1.95"/><circle cx="360.3" cy="207.6" r="1.95"/><circle cx="362" cy="209.7" r="1.95"/><circle cx="331.5" cy="230" r="1.95"/><circle cx="336.5" cy="231.4" r="1.95"/><circle cx="334.7" cy="231" r="1.95"/><circle cx="315.7" cy="236" r="1.95"/><circle cx="354.1" cy="236.3" r="1.95"/><circle cx="385" cy="237.5" r="1.95"/><circle cx="328.2" cy="243.2" r="1.95"/><circle cx="333.5" cy="245.8" r="1.95"/><circle cx="330.4" cy="249" r="1.95"/><circle cx="361" cy="244.7" r="1.95"/><circle cx="363.2" cy="252.9" r="1.95"/><circle cx="368.8" cy="254.7" r="1.95"/><circle cx="352.7" cy="257.6" r="1.95"/><circle cx="354.1" cy="260.5" r="1.95"/><circle cx="380.3" cy="258.8" r="1.95"/><circle cx="376.4" cy="262.7" r="1.95"/><circle cx="377.4" cy="266.3" r="1.95"/><circle cx="382.2" cy="267.4" r="1.95"/><circle cx="330.1" cy="264.8" r="1.95"/><circle cx="356.3" cy="269.1" r="1.95"/><circle cx="358.8" cy="267.7" r="1.95"/><circle cx="374" cy="277" r="1.95"/><circle cx="246.81" cy="168.93" r="1.95"/><circle cx="286.09" cy="200.34" r="1.95"/><circle cx="236.56" cy="159.02" r="1.95"/><circle cx="275.18" cy="190.62" r="1.95"/><circle cx="234.89" cy="164.68" r="1.95"/><circle cx="252.96" cy="174.11" r="1.95"/><circle cx="237.34" cy="156.95" r="1.95"/><circle cx="254.62" cy="168.17" r="1.95"/><circle cx="219.69" cy="128.94" r="1.95"/><circle cx="228.81" cy="151.64" r="1.95"/><circle cx="269.11" cy="199.58" r="1.95"/><circle cx="252.3" cy="162.9" r="1.95"/><circle cx="256.16" cy="161" r="1.95"/><circle cx="235.53" cy="159.95" r="1.95"/><circle cx="214.75" cy="139.51" r="1.95"/><circle cx="230.08" cy="158.37" r="1.95"/><circle cx="239.88" cy="147.55" r="1.95"/><circle cx="237.82" cy="171.67" r="1.95"/><circle cx="272.96" cy="174.09" r="1.95"/><circle cx="236.46" cy="159.18" r="1.95"/><circle cx="226.89" cy="163.51" r="1.95"/><circle cx="276.04" cy="202.1" r="1.95"/><circle cx="252.91" cy="162.85" r="1.95"/><circle cx="251.29" cy="164.58" r="1.95"/><circle cx="259.09" cy="170.29" r="1.95"/></g>
</g>
<clipPath id="c1"><rect x="473.5" y="16" width="322.9" height="281.8"/></clipPath>
<g clip-path="url(#c1)">
<g stroke="#1f77b4" stroke-opacity="0.32" stroke-width="1.3" fill="none"><path d="M487.37 136.5h25.46M500.1 130.38v12.23"/><path d="M520.03 132.1h21.73M530.9 124.08v16.05"/><path d="M528.21 137.7h22.17M539.3 131.47v12.45"/><path d="M522.72 155.2h22.36M533.9 148.3v13.8"/><path d="M546.85 115.4h19.1M556.4 108.77v13.26"/><path d="M545.73 120h18.14M554.8 112.6v14.81"/><path d="M545.38 124.4h17.25M554 114.17v20.45"/><path d="M545.13 125.4h22.55M556.4 113.7v23.41"/><path d="M551.91 125.4h20.38M562.1 111.73v27.35"/><path d="M561.21 129.5h18.57M570.5 122.2v14.59"/><path d="M574.52 114.8h22.96M586 105.59v18.43"/><path d="M588.82 120.4h26.96M602.3 110.89v19.02"/><path d="M599.69 120.8h12.22M605.8 111.71v18.19"/><path d="M589.42 128.5h27.35M603.1 118.2v20.6"/><path d="M571.02 132.5h25.17M583.6 123.19v18.62"/><path d="M613.03 136.5h21.73M623.9 129.82v13.37"/><path d="M549.78 136.5h15.24M557.4 129.56v13.87"/><path d="M555.68 134.9h18.44M564.9 125.99v17.82"/><path d="M556.04 138.1h20.92M566.5 126.26v23.68"/><path d="M560.98 140.5h15.84M568.9 132.09v16.83"/><path d="M563.9 142.5h12.39M570.1 135.41v14.19"/><path d="M558.45 144.6h18.1M567.5 130.51v28.19"/><path d="M540.89 144.6h15.01M548.4 134.93v19.34"/><path d="M544.3 142.9h12.21M550.4 131.6v22.6"/><path d="M540.63 146.2h18.73M550 137.22v17.96"/><path d="M548.28 148h18.24M557.4 139.55v16.91"/><path d="M553.24 148h18.53M562.5 140.34v15.33"/><path d="M552.4 151.2h23.4M564.1 136.8v28.8"/><path d="M554.85 146.6h26.51M568.1 137.3v18.6"/><path d="M565.01 145.6h12.19M571.1 132.68v25.84"/><path d="M564.51 146.6h19.38M574.2 135.69v21.81"/><path d="M565.75 145.6h22.49M577 132.3v26.61"/><path d="M567.46 141.5h20.29M577.6 131.59v19.82"/><path d="M573.95 147.6h14.1M581 141.22v12.75"/><path d="M576.28 143h14.65M583.6 135.61v14.78"/><path d="M561.07 149.6h27.05M574.6 138.5v22.2"/><path d="M564.28 152.6h12.44M570.5 143.74v17.73"/><path d="M571.3 152.6h18.59M580.6 139.09v27.02"/><path d="M548.09 153h18.61M557.4 142.08v21.84"/><path d="M552.39 155.6h16.22M560.5 146.69v17.82"/><path d="M543.76 155.6h13.28M550.4 142.55v26.09"/><path d="M544.09 157.6h19.82M554 145.02v25.17"/><path d="M558.92 158.2h21.15M569.5 151.4v13.6"/><path d="M569.05 159.7h16.3M577.2 150.82v17.76"/><path d="M568.33 157.6h24.53M580.6 148.48v18.24"/><path d="M568.87 159.7h27.45M582.6 146.53v26.34"/><path d="M574.47 156.6h23.05M586 145.82v21.57"/><path d="M529.76 160.7h23.08M541.3 151.65v18.1"/><path d="M535.48 163.7h13.64M542.3 149.98v27.45"/><path d="M543.72 162.7h19.35M553.4 148.08v29.25"/><path d="M542.54 167.7h23.71M554.4 156.53v22.34"/><path d="M535.58 171.3h18.83M545 159.12v24.35"/><path d="M556.96 161.7h15.88M564.9 152.52v18.36"/><path d="M561.94 170.7h17.11M570.5 157.33v26.73"/><path d="M557.9 173.1h27.2M571.5 166.23v13.75"/><path d="M565.9 177.2h12.39M572.1 168.03v18.35"/><path d="M552.04 176.8h22.92M563.5 166.86v19.88"/><path d="M547.42 180.4h24.16M559.5 165.69v29.43"/><path d="M567.87 174.4h22.66M579.2 162.41v23.99"/><path d="M573.85 177.2h14.29M581 165.93v22.53"/><path d="M575.18 170.3h22.04M586.2 162.54v15.51"/><path d="M598.99 147h12.41M605.2 134.9v24.21"/><path d="M599.85 148.6h27.89M613.8 136.78v23.64"/><path d="M594.69 157.6h15.21M602.3 143.77v27.67"/><path d="M596.26 157.6h17.08M604.8 148.53v18.14"/><path d="M610.39 154.6h25.02M622.9 141.45v26.29"/><path d="M615.45 149.6h26.9M628.9 135.64v27.93"/><path d="M622.88 156.6h12.04M628.9 148.54v16.12"/><path d="M622.24 159.7h21.33M632.9 151.61v16.17"/><path d="M623.79 152.6h25.62M636.6 139.97v25.25"/><path d="M625.95 154.6h24.1M638 140.1v28.99"/><path d="M583.04 168.3h23.32M594.7 153.63v29.34"/><path d="M590.57 165.7h19.46M600.3 158.48v14.45"/><path d="M588.57 167.7h20.27M598.7 153.16v29.08"/><path d="M594.49 167.7h21.83M605.4 158.8v17.8"/><path d="M606.01 166.7h13.58M612.8 159.49v14.41"/><path d="M608.22 164.7h13.96M615.2 152.3v24.79"/><path d="M608.17 162.7h17.25M616.8 152.79v19.82"/><path d="M608.1 164.7h27.61M621.9 155.71v17.98"/><path d="M615.27 167.7h22.46M626.5 158.56v18.28"/><path d="M585.02 172.7h18.17M594.1 162.86v19.68"/><path d="M586.14 175.8h19.11M595.7 168.75v14.1"/><path d="M587.57 175.2h22.27M598.7 164.19v22.01"/><path d="M589.41 176.8h13.79M596.3 162.03v29.54"/><path d="M597.9 170.7h27.79M611.8 162.23v16.95"/><path d="M609.07 169.7h17.45M617.8 156.67v26.05"/><path d="M582.25 182.8h20.1M592.3 171.7v22.2"/><path d="M587.58 183.2h24.23M599.7 170.44v25.53"/><path d="M590.58 188.9h16.25M598.7 178.52v20.77"/><path d="M590.22 186.8h24.97M602.7 172.85v27.89"/><path d="M590.87 189.3h25.86M603.8 176.1v26.39"/><path d="M603.53 180.4h22.53M614.8 174.17v12.47"/><path d="M606.87 183.2h17.85M615.8 170.82v24.76"/><path d="M604.26 186.4h15.89M612.2 179.83v13.13"/><path d="M611.55 179.8h21.5M622.3 166.88v25.83"/><path d="M613.93 182h27.94M627.9 169.45v25.11"/><path d="M581.71 193.9h19.18M591.3 187.61v12.58"/><path d="M627.56 191.9h22.88M639 177.87v28.06"/><path d="M642.06 68.5h20.29M652.2 57.44v22.13"/><path d="M661.96 84.2h13.48M668.7 75.31v17.77"/><path d="M654.56 99.3h21.47M665.3 86.07v26.45"/><path d="M662.7 103.3h17.19M671.3 89.81v26.97"/><path d="M670.09 99.9h21.41M680.8 88.91v21.99"/><path d="M636.49 104.8h15.22M644.1 92.54v24.51"/><path d="M663.2 114h14.19M670.3 104.22v19.57"/><path d="M660.71 114h26.18M673.8 100.19v27.62"/><path d="M655.74 122.1h27.11M669.3 114.36v15.49"/><path d="M659.46 124.1h26.47M672.7 113.88v20.44"/><path d="M669.48 124.1h14.63M676.8 110.03v28.13"/><path d="M665.8 128.5h27.2M679.4 113.74v29.52"/><path d="M667.53 131.6h17.74M676.4 123.58v16.05"/><path d="M646.4 126.5h26.79M659.8 114.08v24.83"/><path d="M672.6 130h26.81M686 117.44v25.13"/><path d="M629.42 133h27.75M643.3 120.43v25.14"/><path d="M656.34 134.6h25.12M668.9 120.29v28.61"/><path d="M641.36 136.6h18.88M650.8 122.32v28.56"/><path d="M643.29 139.6h18.62M652.6 124.95v29.3"/><path d="M641.46 141.7h20.67M651.8 129.93v23.54"/><path d="M646.12 145.1h12.16M652.2 136.05v18.11"/><path d="M672.2 138.6h16.4M680.4 132.49v12.22"/><path d="M649.1 149.3h17.01M657.6 140.99v16.63"/><path d="M666.43 152.7h13.74M673.3 144.4v16.6"/><path d="M665.52 154.2h25.77M678.4 146.26v15.88"/><path d="M624.4 152.7h23.2M636 137.77v29.85"/><path d="M633.03 152.3h12.15M639.1 139.9v24.8"/><path d="M630.02 155.8h14.15M637.1 148.14v15.33"/><path d="M621.54 149.7h16.93M630 135.44v28.52"/><path d="M636.79 153.8h26.02M649.8 146.97v13.65"/><path d="M639.88 156.4h24.64M652.2 149.64v13.52"/><path d="M624.13 159.8h17.74M633 144.8v30"/><path d="M629.06 159.2h26.07M642.1 152.21v13.98"/><path d="M655.76 158.4h21.07M666.3 148.61v19.57"/><path d="M634.1 163.2h22.8M645.5 149.47v27.46"/><path d="M635.24 168.3h20.92M645.7 153.91v28.78"/><path d="M661.63 166.9h26.34M674.8 159.43v14.94"/><path d="M651.14 169.3h12.91M657.6 161.52v15.56"/><path d="M704.24 153.8h20.13M714.3 141.55v24.51"/><path d="M697.37 163.8h25.67M710.2 151.22v25.16"/><path d="M699.77 168.9h22.47M711 157.49v22.82"/><path d="M697.37 170.9h22.47M708.6 161.3v19.2"/><path d="M682.2 175.9h22.6M693.5 162.37v27.05"/><path d="M689.15 181.6h25.7M702 169.13v24.93"/><path d="M708.3 175.5h22.81M719.7 168.85v13.3"/><path d="M714.48 175.5h17.25M723.1 165.4v20.2"/><path d="M698.14 186.6h16.91M706.6 178.82v15.57"/><path d="M701.2 186h17.99M710.2 172.5v27"/><path d="M712.56 186.6h16.28M720.7 172.18v28.84"/><path d="M634.45 192.5h12.1M640.5 182.7v19.6"/><path d="M655.53 195.1h23.54M667.3 182.31v25.59"/><path d="M684.4 190.6h12.19M690.5 183.56v14.07"/><path d="M686.93 196.1h13.13M693.5 185.01v22.17"/><path d="M694.84 195.1h13.52M701.6 185.53v19.13"/><path d="M696.74 197.1h16.52M705 190.18v13.84"/><path d="M704.7 196.1h18M713.7 186.18v19.84"/><path d="M706.07 193.5h21.25M716.7 184.39v18.21"/><path d="M714.15 194.7h13.1M720.7 185.74v17.92"/><path d="M717.85 150.1h23.11M729.4 144.07v12.06"/><path d="M699.73 163.7h20.35M709.9 157.52v12.35"/><path d="M697.89 168.4h25.83M710.8 160.63v15.54"/><path d="M698.13 170.8h20.54M708.4 163.98v13.64"/><path d="M683.12 175.9h20.76M693.5 162.76v26.27"/><path d="M705.58 175.3h26.63M718.9 162.19v26.21"/><path d="M709.85 175.3h26.3M723 169.23v12.14"/><path d="M718.95 173.1h24.89M731.4 166.66v12.88"/><path d="M742.14 173.1h25.93M755.1 158.13v29.93"/><path d="M729.56 177.2h23.48M741.3 165.74v22.91"/><path d="M690.03 181.5h23.73M701.9 174.72v13.56"/><path d="M732.49 183.4h25.81M745.4 176.61v13.57"/><path d="M698.29 186.5h15.82M706.2 178.07v16.86"/><path d="M698.4 185.2h23M709.9 175.66v19.08"/><path d="M712.01 186.2h18.17M721.1 175.68v21.04"/><path d="M737.17 189h24.05M749.2 175.44v27.12"/><path d="M732.24 190.3h25.52M745 181.75v17.1"/><path d="M684.28 190.3h12.84M690.7 183.45v13.7"/><path d="M719.48 190.3h13.84M726.4 177.59v25.42"/><path d="M724.73 190.8h13.35M731.4 177.99v25.62"/><path d="M715.09 190.8h12.03M721.1 178.62v24.36"/><path d="M685.52 195.5h15.96M693.5 183.7v23.61"/><path d="M690.02 195.1h24.16M702.1 183.21v23.78"/><path d="M697.71 199.3h13.18M704.3 193.11v12.37"/><path d="M704.54 195.5h18.12M713.6 181.34v28.33"/><path d="M707.68 193.6h19.43M717.4 185.23v16.73"/><path d="M710.93 195.5h19.53M720.7 182.12v26.77"/><path d="M710.64 200.2h15.31M718.3 193.09v14.22"/><path d="M723.25 194h26.7M736.6 184.18v19.63"/><path d="M735.45 195.5h19.1M745 186.7v17.6"/><path d="M761.74 195.5h15.91M769.7 181.74v27.52"/><path d="M727.78 199.3h24.84M740.2 191.01v16.57"/><path d="M732.1 201.5h23.6M743.9 187.23v28.54"/><path d="M726.76 201.5h18.68M736.1 186.67v29.66"/><path d="M732.17 204.9h13.45M738.9 191.36v27.08"/><path d="M721.39 205.2h25.61M734.2 196.93v16.54"/><path d="M720.79 203.4h16.43M729 194.95v16.9"/><path d="M751.41 201.5h14.19M758.5 188.2v26.6"/><path d="M682.81 206.4h23.17M694.4 193.31v26.18"/><path d="M682.86 212h22.27M694 203.65v16.71"/><path d="M688.3 215.1h13.39M695 206.77v16.65"/><path d="M687.29 216.1h24.61M699.6 209.92v12.35"/><path d="M703.33 208.6h20.54M713.6 199.71v17.79"/><path d="M709.09 206.7h16.62M717.4 197.69v18.03"/><path d="M694.87 212.3h21.47M705.6 204.78v15.04"/><path d="M728.83 210.1h14.54M736.1 196.45v27.29"/><path d="M730.56 209.5h24.07M742.6 200.26v18.48"/><path d="M728.61 215.1h15.98M736.6 203.84v22.52"/><path d="M728.24 213.3h26.92M741.7 200.21v26.19"/><path d="M672.36 215.7h19.09M681.9 203.99v23.42"/><path d="M715.03 215.1h17.75M723.9 202.72v24.77"/><path d="M737.16 216.1h20.29M747.3 209.86v12.49"/><path d="M739.31 215.7h22.78M750.7 201.86v27.69"/><path d="M732.72 217.9h19.76M742.6 210.46v14.88"/><path d="M739.77 219.8h16.85M748.2 212.07v15.46"/><path d="M731.78 222.6h25.44M744.5 209.98v25.24"/><path d="M752.52 215.7h16.76M760.9 206.98v17.45"/><path d="M697.29 220.7h14.02M704.3 210.74v19.92"/><path d="M690.89 226.4h27.62M704.7 213.59v25.62"/><path d="M695.52 228.2h26.97M709 221.53v13.34"/><path d="M703.6 228.2h26.81M717 213.98v28.43"/><path d="M709.61 221.7h24.97M722.1 214.55v14.31"/><path d="M713.75 222.6h25.9M726.7 207.8v29.61"/><path d="M710.18 225.4h23.85M722.1 214.77v21.26"/><path d="M714.26 229.2h17.49M723 215.29v27.81"/><path d="M725.31 223.6h21.58M736.1 214.69v17.81"/><path d="M732.24 224.5h13.32M738.9 218.34v12.31"/><path d="M733.78 224.5h23.23M745.4 215.84v17.32"/><path d="M743.94 225h14.12M751 216.24v17.53"/><path d="M676.8 228.2h19.39M686.5 214.58v27.25"/><path d="M717.91 231h19.59M727.7 223.84v14.32"/><path d="M720.67 230.1h25.26M733.3 218.03v24.14"/><path d="M729.43 230.7h20.74M739.8 216.61v28.17"/><path d="M734.36 231h18.48M743.6 221.52v18.97"/><path d="M729.66 232.9h12.88M736.1 220.64v24.52"/><path d="M727.93 233.8h21.95M738.9 219.27v29.05"/><path d="M728.14 235.7h12.13M734.2 225.98v19.43"/><path d="M732.2 234.8h19M741.7 225.06v19.48"/><path d="M714.75 233.8h12.69M721.1 220.47v26.66"/><path d="M718.56 236.6h12.69M724.9 224.84v23.52"/><path d="M710.8 237.6h17M719.3 227.78v19.64"/><path d="M712.2 239.4h25.41M724.9 231.56v15.68"/><path d="M746.51 232h20.18M756.6 223.6v16.8"/><path d="M754.12 231h21.76M765 220.1v21.8"/><path d="M753.16 235.7h22.68M764.5 228.84v13.72"/><path d="M755.84 239.4h22.12M766.9 227.44v23.92"/><path d="M697.36 233.8h13.08M703.9 219.08v29.45"/><path d="M681.79 238.9h25.61M694.6 225.76v26.28"/><path d="M694.41 240.7h24.58M706.7 230.2v21"/><path d="M735.88 237.6h26.65M749.2 230.2v14.79"/><path d="M740.95 240.4h23.9M752.9 225.61v29.58"/><path d="M738 242.2h13M744.5 230.36v23.68"/><path d="M734.41 242.2h27.57M748.2 234.92v14.55"/><path d="M712.53 243.2h20.95M723 229.12v28.16"/><path d="M718.29 246h16.22M726.4 238.11v15.78"/><path d="M720.56 242.2h23.48M732.3 229.05v26.3"/><path d="M722.57 241.3h27.07M736.1 229.43v23.75"/><path d="M726.87 245.6h12.86M733.3 232.21v26.78"/><path d="M728.71 246h16.58M737 234.93v22.14"/><path d="M728.93 246.4h23.53M740.7 231.6v29.61"/><path d="M734.09 246.4h20.82M744.5 239.1v14.61"/><path d="M751.61 244.5h20.19M761.7 233.51v21.99"/><path d="M702.18 247.9h24.03M714.2 240.18v15.44"/><path d="M723.79 249.3h20.83M734.2 242.85v12.89"/><path d="M725.02 251.2h27.76M738.9 245v12.41"/><path d="M726.67 253.5h20.66M737 245.93v15.14"/><path d="M737.2 251.2h16.4M745.4 241.58v19.24"/><path d="M739.68 250.1h16.05M747.7 241.75v16.7"/><path d="M745.93 249.3h16.94M754.4 238.81v20.99"/><path d="M699.05 254.4h27.3M712.7 246.52v15.77"/><path d="M711.92 257.6h14.76M719.3 251.21v12.77"/><path d="M717.47 255.3h26.65M730.8 242.25v26.09"/><path d="M723.46 256.3h25.29M736.1 248.95v14.69"/><path d="M734.97 257.6h19.06M744.5 245.56v24.09"/><path d="M733.85 260.9h20.5M744.1 248.31v25.18"/><path d="M716.05 264.3h15.11M723.6 250.18v28.25"/><path d="M719.36 262.8h21.47M730.1 251.29v23.01"/><path d="M722.91 277.2h21.38M733.6 267.21v19.97"/></g>
<path d="M500.3 87.3 L507.05 91.14 L513.79 94.97 L520.53 98.8 L527.28 102.63 L534.02 106.45 L540.77 110.27 L547.51 114.09 L554.26 117.9 L561 121.71 L567.75 125.52 L574.5 129.31 L581.24 133.1 L587.99 136.89 L594.73 140.66 L601.48 144.42 L608.22 148.18 L614.97 151.92 L621.71 155.65 L628.46 159.36 L635.2 163.06 L641.95 166.74 L648.69 170.41 L655.44 174.06 L662.18 177.7 L668.92 181.33 L675.67 184.95 L682.41 188.56 L689.16 192.16 L695.9 195.75 L702.65 199.33 L709.39 202.9 L716.14 206.47 L722.88 210.03 L729.63 213.58 L736.38 217.13 L743.12 220.67 L749.87 224.21 L756.61 227.74 L763.36 231.27 L770.1 234.8 L770.1 242.8 L763.36 239.02 L756.61 235.24 L749.87 231.46 L743.12 227.69 L736.38 223.92 L729.63 220.16 L722.88 216.4 L716.14 212.65 L709.39 208.91 L702.65 205.17 L695.9 201.44 L689.16 197.72 L682.41 194.01 L675.67 190.31 L668.92 186.62 L662.18 182.94 L655.44 179.27 L648.69 175.61 L641.95 171.97 L635.2 168.34 L628.46 164.73 L621.71 161.13 L614.97 157.55 L608.22 153.98 L601.48 150.43 L594.73 146.88 L587.99 143.34 L581.24 139.82 L574.5 136.3 L567.75 132.78 L561 129.28 L554.26 125.78 L547.51 122.28 L540.77 118.79 L534.02 115.3 L527.28 111.81 L520.53 108.33 L513.79 104.85 L507.05 101.37 L500.3 97.9 Z" fill="#2ca02c" fill-opacity="0.4" stroke="none"/>
<path d="M500.3 92.6L770.1 238.8" stroke="#2ca02c" stroke-width="3.2" stroke-dasharray="10 4.4" fill="none"/>
<g fill="#2ca02c" stroke="#000" stroke-width="0.6"><circle cx="500.1" cy="136.5" r="1.95"/><circle cx="530.9" cy="132.1" r="1.95"/><circle cx="539.3" cy="137.7" r="1.95"/><circle cx="533.9" cy="155.2" r="1.95"/><circle cx="556.4" cy="115.4" r="1.95"/><circle cx="554.8" cy="120" r="1.95"/><circle cx="554" cy="124.4" r="1.95"/><circle cx="556.4" cy="125.4" r="1.95"/><circle cx="562.1" cy="125.4" r="1.95"/><circle cx="570.5" cy="129.5" r="1.95"/><circle cx="586" cy="114.8" r="1.95"/><circle cx="602.3" cy="120.4" r="1.95"/><circle cx="605.8" cy="120.8" r="1.95"/><circle cx="603.1" cy="128.5" r="1.95"/><circle cx="583.6" cy="132.5" r="1.95"/><circle cx="623.9" cy="136.5" r="1.95"/><circle cx="557.4" cy="136.5" r="1.95"/><circle cx="564.9" cy="134.9" r="1.95"/><circle cx="566.5" cy="138.1" r="1.95"/><circle cx="568.9" cy="140.5" r="1.95"/><circle cx="570.1" cy="142.5" r="1.95"/><circle cx="567.5" cy="144.6" r="1.95"/><circle cx="548.4" cy="144.6" r="1.95"/><circle cx="550.4" cy="142.9" r="1.95"/><circle cx="550" cy="146.2" r="1.95"/><circle cx="557.4" cy="148" r="1.95"/><circle cx="562.5" cy="148" r="1.95"/><circle cx="564.1" cy="151.2" r="1.95"/><circle cx="568.1" cy="146.6" r="1.95"/><circle cx="571.1" cy="145.6" r="1.95"/><circle cx="574.2" cy="146.6" r="1.95"/><circle cx="577" cy="145.6" r="1.95"/><circle cx="577.6" cy="141.5" r="1.95"/><circle cx="581" cy="147.6" r="1.95"/><circle cx="583.6" cy="143" r="1.95"/><circle cx="574.6" cy="149.6" r="1.95"/><circle cx="570.5" cy="152.6" r="1.95"/><circle cx="580.6" cy="152.6" r="1.95"/><circle cx="557.4" cy="153" r="1.95"/><circle cx="560.5" cy="155.6" r="1.95"/><circle cx="550.4" cy="155.6" r="1.95"/><circle cx="554" cy="157.6" r="1.95"/><circle cx="569.5" cy="158.2" r="1.95"/><circle cx="577.2" cy="159.7" r="1.95"/><circle cx="580.6" cy="157.6" r="1.95"/><circle cx="582.6" cy="159.7" r="1.95"/><circle cx="586" cy="156.6" r="1.95"/><circle cx="541.3" cy="160.7" r="1.95"/><circle cx="542.3" cy="163.7" r="1.95"/><circle cx="553.4" cy="162.7" r="1.95"/><circle cx="554.4" cy="167.7" r="1.95"/><circle cx="545" cy="171.3" r="1.95"/><circle cx="564.9" cy="161.7" r="1.95"/><circle cx="570.5" cy="170.7" r="1.95"/><circle cx="571.5" cy="173.1" r="1.95"/><circle cx="572.1" cy="177.2" r="1.95"/><circle cx="563.5" cy="176.8" r="1.95"/><circle cx="559.5" cy="180.4" r="1.95"/><circle cx="579.2" cy="174.4" r="1.95"/><circle cx="581" cy="177.2" r="1.95"/><circle cx="586.2" cy="170.3" r="1.95"/><circle cx="605.2" cy="147" r="1.95"/><circle cx="613.8" cy="148.6" r="1.95"/><circle cx="602.3" cy="157.6" r="1.95"/><circle cx="604.8" cy="157.6" r="1.95"/><circle cx="622.9" cy="154.6" r="1.95"/><circle cx="628.9" cy="149.6" r="1.95"/><circle cx="628.9" cy="156.6" r="1.95"/><circle cx="632.9" cy="159.7" r="1.95"/><circle cx="636.6" cy="152.6" r="1.95"/><circle cx="638" cy="154.6" r="1.95"/><circle cx="594.7" cy="168.3" r="1.95"/><circle cx="600.3" cy="165.7" r="1.95"/><circle cx="598.7" cy="167.7" r="1.95"/><circle cx="605.4" cy="167.7" r="1.95"/><circle cx="612.8" cy="166.7" r="1.95"/><circle cx="615.2" cy="164.7" r="1.95"/><circle cx="616.8" cy="162.7" r="1.95"/><circle cx="621.9" cy="164.7" r="1.95"/><circle cx="626.5" cy="167.7" r="1.95"/><circle cx="594.1" cy="172.7" r="1.95"/><circle cx="595.7" cy="175.8" r="1.95"/><circle cx="598.7" cy="175.2" r="1.95"/><circle cx="596.3" cy="176.8" r="1.95"/><circle cx="611.8" cy="170.7" r="1.95"/><circle cx="617.8" cy="169.7" r="1.95"/><circle cx="592.3" cy="182.8" r="1.95"/><circle cx="599.7" cy="183.2" r="1.95"/><circle cx="598.7" cy="188.9" r="1.95"/><circle cx="602.7" cy="186.8" r="1.95"/><circle cx="603.8" cy="189.3" r="1.95"/><circle cx="614.8" cy="180.4" r="1.95"/><circle cx="615.8" cy="183.2" r="1.95"/><circle cx="612.2" cy="186.4" r="1.95"/><circle cx="622.3" cy="179.8" r="1.95"/><circle cx="627.9" cy="182" r="1.95"/><circle cx="591.3" cy="193.9" r="1.95"/><circle cx="639" cy="191.9" r="1.95"/><circle cx="652.2" cy="68.5" r="1.95"/><circle cx="668.7" cy="84.2" r="1.95"/><circle cx="665.3" cy="99.3" r="1.95"/><circle cx="671.3" cy="103.3" r="1.95"/><circle cx="680.8" cy="99.9" r="1.95"/><circle cx="644.1" cy="104.8" r="1.95"/><circle cx="670.3" cy="114" r="1.95"/><circle cx="673.8" cy="114" r="1.95"/><circle cx="669.3" cy="122.1" r="1.95"/><circle cx="672.7" cy="124.1" r="1.95"/><circle cx="676.8" cy="124.1" r="1.95"/><circle cx="679.4" cy="128.5" r="1.95"/><circle cx="676.4" cy="131.6" r="1.95"/><circle cx="659.8" cy="126.5" r="1.95"/><circle cx="686" cy="130" r="1.95"/><circle cx="643.3" cy="133" r="1.95"/><circle cx="668.9" cy="134.6" r="1.95"/><circle cx="650.8" cy="136.6" r="1.95"/><circle cx="652.6" cy="139.6" r="1.95"/><circle cx="651.8" cy="141.7" r="1.95"/><circle cx="652.2" cy="145.1" r="1.95"/><circle cx="680.4" cy="138.6" r="1.95"/><circle cx="657.6" cy="149.3" r="1.95"/><circle cx="673.3" cy="152.7" r="1.95"/><circle cx="678.4" cy="154.2" r="1.95"/><circle cx="636" cy="152.7" r="1.95"/><circle cx="639.1" cy="152.3" r="1.95"/><circle cx="637.1" cy="155.8" r="1.95"/><circle cx="630" cy="149.7" r="1.95"/><circle cx="649.8" cy="153.8" r="1.95"/><circle cx="652.2" cy="156.4" r="1.95"/><circle cx="633" cy="159.8" r="1.95"/><circle cx="642.1" cy="159.2" r="1.95"/><circle cx="666.3" cy="158.4" r="1.95"/><circle cx="645.5" cy="163.2" r="1.95"/><circle cx="645.7" cy="168.3" r="1.95"/><circle cx="674.8" cy="166.9" r="1.95"/><circle cx="657.6" cy="169.3" r="1.95"/><circle cx="714.3" cy="153.8" r="1.95"/><circle cx="710.2" cy="163.8" r="1.95"/><circle cx="711" cy="168.9" r="1.95"/><circle cx="708.6" cy="170.9" r="1.95"/><circle cx="693.5" cy="175.9" r="1.95"/><circle cx="702" cy="181.6" r="1.95"/><circle cx="719.7" cy="175.5" r="1.95"/><circle cx="723.1" cy="175.5" r="1.95"/><circle cx="706.6" cy="186.6" r="1.95"/><circle cx="710.2" cy="186" r="1.95"/><circle cx="720.7" cy="186.6" r="1.95"/><circle cx="640.5" cy="192.5" r="1.95"/><circle cx="667.3" cy="195.1" r="1.95"/><circle cx="690.5" cy="190.6" r="1.95"/><circle cx="693.5" cy="196.1" r="1.95"/><circle cx="701.6" cy="195.1" r="1.95"/><circle cx="705" cy="197.1" r="1.95"/><circle cx="713.7" cy="196.1" r="1.95"/><circle cx="716.7" cy="193.5" r="1.95"/><circle cx="720.7" cy="194.7" r="1.95"/><circle cx="729.4" cy="150.1" r="1.95"/><circle cx="709.9" cy="163.7" r="1.95"/><circle cx="710.8" cy="168.4" r="1.95"/><circle cx="708.4" cy="170.8" r="1.95"/><circle cx="693.5" cy="175.9" r="1.95"/><circle cx="718.9" cy="175.3" r="1.95"/><circle cx="723" cy="175.3" r="1.95"/><circle cx="731.4" cy="173.1" r="1.95"/><circle cx="755.1" cy="173.1" r="1.95"/><circle cx="741.3" cy="177.2" r="1.95"/><circle cx="701.9" cy="181.5" r="1.95"/><circle cx="745.4" cy="183.4" r="1.95"/><circle cx="706.2" cy="186.5" r="1.95"/><circle cx="709.9" cy="185.2" r="1.95"/><circle cx="721.1" cy="186.2" r="1.95"/><circle cx="749.2" cy="189" r="1.95"/><circle cx="745" cy="190.3" r="1.95"/><circle cx="690.7" cy="190.3" r="1.95"/><circle cx="726.4" cy="190.3" r="1.95"/><circle cx="731.4" cy="190.8" r="1.95"/><circle cx="721.1" cy="190.8" r="1.95"/><circle cx="693.5" cy="195.5" r="1.95"/><circle cx="702.1" cy="195.1" r="1.95"/><circle cx="704.3" cy="199.3" r="1.95"/><circle cx="713.6" cy="195.5" r="1.95"/><circle cx="717.4" cy="193.6" r="1.95"/><circle cx="720.7" cy="195.5" r="1.95"/><circle cx="718.3" cy="200.2" r="1.95"/><circle cx="736.6" cy="194" r="1.95"/><circle cx="745" cy="195.5" r="1.95"/><circle cx="769.7" cy="195.5" r="1.95"/><circle cx="740.2" cy="199.3" r="1.95"/><circle cx="743.9" cy="201.5" r="1.95"/><circle cx="736.1" cy="201.5" r="1.95"/><circle cx="738.9" cy="204.9" r="1.95"/><circle cx="734.2" cy="205.2" r="1.95"/><circle cx="729" cy="203.4" r="1.95"/><circle cx="758.5" cy="201.5" r="1.95"/><circle cx="694.4" cy="206.4" r="1.95"/><circle cx="694" cy="212" r="1.95"/><circle cx="695" cy="215.1" r="1.95"/><circle cx="699.6" cy="216.1" r="1.95"/><circle cx="713.6" cy="208.6" r="1.95"/><circle cx="717.4" cy="206.7" r="1.95"/><circle cx="705.6" cy="212.3" r="1.95"/><circle cx="736.1" cy="210.1" r="1.95"/><circle cx="742.6" cy="209.5" r="1.95"/><circle cx="736.6" cy="215.1" r="1.95"/><circle cx="741.7" cy="213.3" r="1.95"/><circle cx="681.9" cy="215.7" r="1.95"/><circle cx="723.9" cy="215.1" r="1.95"/><circle cx="747.3" cy="216.1" r="1.95"/><circle cx="750.7" cy="215.7" r="1.95"/><circle cx="742.6" cy="217.9" r="1.95"/><circle cx="748.2" cy="219.8" r="1.95"/><circle cx="744.5" cy="222.6" r="1.95"/><circle cx="760.9" cy="215.7" r="1.95"/><circle cx="704.3" cy="220.7" r="1.95"/><circle cx="704.7" cy="226.4" r="1.95"/><circle cx="709" cy="228.2" r="1.95"/><circle cx="717" cy="228.2" r="1.95"/><circle cx="722.1" cy="221.7" r="1.95"/><circle cx="726.7" cy="222.6" r="1.95"/><circle cx="722.1" cy="225.4" r="1.95"/><circle cx="723" cy="229.2" r="1.95"/><circle cx="736.1" cy="223.6" r="1.95"/><circle cx="738.9" cy="224.5" r="1.95"/><circle cx="745.4" cy="224.5" r="1.95"/><circle cx="751" cy="225" r="1.95"/><circle cx="686.5" cy="228.2" r="1.95"/><circle cx="727.7" cy="231" r="1.95"/><circle cx="733.3" cy="230.1" r="1.95"/><circle cx="739.8" cy="230.7" r="1.95"/><circle cx="743.6" cy="231" r="1.95"/><circle cx="736.1" cy="232.9" r="1.95"/><circle cx="738.9" cy="233.8" r="1.95"/><circle cx="734.2" cy="235.7" r="1.95"/><circle cx="741.7" cy="234.8" r="1.95"/><circle cx="721.1" cy="233.8" r="1.95"/><circle cx="724.9" cy="236.6" r="1.95"/><circle cx="719.3" cy="237.6" r="1.95"/><circle cx="724.9" cy="239.4" r="1.95"/><circle cx="756.6" cy="232" r="1.95"/><circle cx="765" cy="231" r="1.95"/><circle cx="764.5" cy="235.7" r="1.95"/><circle cx="766.9" cy="239.4" r="1.95"/><circle cx="703.9" cy="233.8" r="1.95"/><circle cx="694.6" cy="238.9" r="1.95"/><circle cx="706.7" cy="240.7" r="1.95"/><circle cx="749.2" cy="237.6" r="1.95"/><circle cx="752.9" cy="240.4" r="1.95"/><circle cx="744.5" cy="242.2" r="1.95"/><circle cx="748.2" cy="242.2" r="1.95"/><circle cx="723" cy="243.2" r="1.95"/><circle cx="726.4" cy="246" r="1.95"/><circle cx="732.3" cy="242.2" r="1.95"/><circle cx="736.1" cy="241.3" r="1.95"/><circle cx="733.3" cy="245.6" r="1.95"/><circle cx="737" cy="246" r="1.95"/><circle cx="740.7" cy="246.4" r="1.95"/><circle cx="744.5" cy="246.4" r="1.95"/><circle cx="761.7" cy="244.5" r="1.95"/><circle cx="714.2" cy="247.9" r="1.95"/><circle cx="734.2" cy="249.3" r="1.95"/><circle cx="738.9" cy="251.2" r="1.95"/><circle cx="737" cy="253.5" r="1.95"/><circle cx="745.4" cy="251.2" r="1.95"/><circle cx="747.7" cy="250.1" r="1.95"/><circle cx="754.4" cy="249.3" r="1.95"/><circle cx="712.7" cy="254.4" r="1.95"/><circle cx="719.3" cy="257.6" r="1.95"/><circle cx="730.8" cy="255.3" r="1.95"/><circle cx="736.1" cy="256.3" r="1.95"/><circle cx="744.5" cy="257.6" r="1.95"/><circle cx="744.1" cy="260.9" r="1.95"/><circle cx="723.6" cy="264.3" r="1.95"/><circle cx="730.1" cy="262.8" r="1.95"/><circle cx="733.6" cy="277.2" r="1.95"/></g>
</g>
<clipPath id="c2"><rect x="857.9" y="16" width="322.9" height="281.8"/></clipPath>
<g clip-path="url(#c2)">
<g stroke="#1f77b4" stroke-opacity="0.32" stroke-width="1.3" fill="none"><path d="M873.5 98.1h22M884.5 86.1v24"/><path d="M901.25 107.9h6.1M904.3 102.26v11.27"/><path d="M902.98 121.4h9.85M907.9 116.58v9.64"/><path d="M901.02 128.3h10.76M906.4 122.4v11.8"/><path d="M906.06 131h11.48M911.8 122.95v16.1"/><path d="M904.37 134.3h11.26M910 127.68v13.24"/><path d="M904.9 177.6h12M910.9 157.6v40"/><path d="M881.3 205.2h34M898.3 169.2v72"/><path d="M930.3 170.2h18M939.3 149.2v42"/><path d="M931.8 241.4h18M940.8 181.4v120"/><path d="M917.7 105h12M923.7 89v32"/><path d="M938.3 106.5h14M945.3 90.5v32"/><path d="M972.1 93h8M976.1 87v12"/><path d="M951.1 166.9h14M958.1 156.9v20"/><path d="M973.2 154.3h7M976.7 143.66v21.29"/><path d="M975.7 164.8h12.6M982 158.69v12.22"/><path d="M981.85 164.8h6.29M985 152.11v25.37"/><path d="M970.6 183.3h14M977.6 165.3v36"/><path d="M975.09 194.1h12.03M981.1 182.43v23.34"/><path d="M982.44 176.7h12.33M988.6 168.53v16.35"/><path d="M986.3 170.8h13.61M993.1 158.72v24.15"/><path d="M988.58 161.8h12.05M994.6 148.39v26.81"/><path d="M989.47 155.2h13.26M996.1 145.55v19.3"/><path d="M994.37 151.3h6.45M997.6 141.4v19.8"/><path d="M985.12 146.2h9.97M990.1 142.03v8.34"/><path d="M987.34 145.3h8.51M991.6 133.1v24.4"/><path d="M989.7 145.3h11M995.2 132v26.61"/><path d="M988.6 201.3h12M994.6 186.3v30"/><path d="M987.2 231.5h10M992.2 206.5v50"/><path d="M993.08 132.5h12.05M999.1 126.64v11.71"/><path d="M908.6 68.6h14M915.6 56.6v24"/><path d="M924.8 86.8h14M931.8 76.8v20"/><path d="M970.15 93.1h11.71M976 88.63v8.94"/><path d="M996.82 119.3h12.95M1003.3 112.36v13.89"/><path d="M996.02 122.4h13.77M1002.9 117.92v8.95"/><path d="M1008.7 121.3h10M1013.7 96.3v50"/><path d="M1010.73 130.3h11.94M1016.7 125.29v10.03"/><path d="M993.65 132.4h12.9M1000.1 120.23v24.35"/><path d="M998.25 132.4h10.1M1003.3 122.77v19.26"/><path d="M998.32 136.7h7.76M1002.2 129.06v15.29"/><path d="M987.21 146.2h7.19M990.8 138.27v15.87"/><path d="M989.15 146.2h7.1M992.7 135.86v20.68"/><path d="M992.73 143.5h9.94M997.7 135.95v15.11"/><path d="M999.31 142.5h8.77M1003.7 128.98v27.04"/><path d="M1002.81 143h13.58M1009.6 129.21v27.58"/><path d="M1001.65 145.7h8.9M1006.1 140.88v9.64"/><path d="M997.75 150.1h7.3M1001.4 137.5v25.21"/><path d="M995.9 152.5h8.81M1000.3 147.03v10.94"/><path d="M989.78 154.9h13.65M996.6 148.67v12.46"/><path d="M1010.06 145.1h10.48M1015.3 136.96v16.27"/><path d="M1013.95 150.4h7.1M1017.5 142.68v15.44"/><path d="M997.55 159.1h12.31M1003.7 149.67v18.86"/><path d="M988.27 161.5h12.86M994.7 157.34v8.32"/><path d="M978.97 164.7h6.86M982.4 156.38v16.64"/><path d="M979.53 165.2h11.14M985.1 157.09v16.23"/><path d="M989.3 170.7h8.21M993.4 158.56v24.29"/><path d="M982.59 176.7h12.82M989 166.21v20.98"/><path d="M1005.4 167.5h10M1010.4 152.5v30"/><path d="M1017.57 166.4h7.06M1021.1 154.99v22.82"/><path d="M1021.27 162h10.86M1026.7 150.65v22.7"/><path d="M1019.66 164.4h11.88M1025.6 154.77v19.27"/><path d="M1023.7 174.7h10M1028.7 159.7v30"/><path d="M999.8 183.4h10M1004.8 168.4v30"/><path d="M976.76 194.1h9.08M981.3 181.73v24.75"/><path d="M1006.6 197.6h10M1011.6 177.6v40"/><path d="M1034.7 124.8h13.4M1041.4 111.29v27.03"/><path d="M1046.19 122.9h8.43M1050.4 116.79v12.23"/><path d="M1056.43 109h7.54M1060.2 98.19v21.62"/><path d="M1053.34 119.3h13.71M1060.2 112.91v12.78"/><path d="M1057.5 121.6h9.59M1062.3 112.15v18.9"/><path d="M1060.43 122.4h9.33M1065.1 112.91v18.97"/><path d="M1071.52 119h8.97M1076 109.13v19.74"/><path d="M1049.49 128.3h13.82M1056.4 116.66v23.28"/><path d="M1054.65 128.3h13.7M1061.5 120.09v16.42"/><path d="M1061.1 129.6h7.2M1064.7 123.58v12.04"/><path d="M1062.27 131.9h7.85M1066.2 120.2v23.4"/><path d="M1062.81 134.6h7.79M1066.7 124.99v19.23"/><path d="M1043.69 130.8h13.42M1050.4 122.59v16.43"/><path d="M1050.45 130.8h7.9M1054.4 117.93v25.75"/><path d="M1035.28 132.4h13.83M1042.2 127.72v9.36"/><path d="M1039.81 137h12.58M1046.1 123.26v27.49"/><path d="M1032.41 140.6h8.37M1036.6 133.02v15.16"/><path d="M1040.03 141h7.53M1043.8 134.83v12.34"/><path d="M1037.22 143.8h12.16M1043.3 135.38v16.83"/><path d="M1034.66 146.6h8.47M1038.9 138.95v15.29"/><path d="M1069.07 137.9h13.26M1075.7 123.93v27.94"/><path d="M1051.32 143h8.56M1055.6 136.33v13.35"/><path d="M1053.42 146.2h8.15M1057.5 134.36v23.68"/><path d="M1047.76 149.3h13.27M1054.4 143.37v11.86"/><path d="M1056.48 149.3h6.84M1059.9 141.97v14.65"/><path d="M1057.18 149.3h12.64M1063.5 136.83v24.95"/><path d="M1048.8 152h13.6M1055.6 143.8v16.4"/><path d="M1055.93 152h6.35M1059.1 147.54v8.92"/><path d="M1059.17 152.5h12.45M1065.4 144.75v15.5"/><path d="M1071.22 146.6h7.36M1074.9 139.78v13.64"/><path d="M1072.8 149.3h6.8M1076.2 136.14v26.33"/><path d="M1068.68 152.5h9.44M1073.4 143.45v18.1"/><path d="M1043.4 150.9h7.6M1047.2 141.67v18.45"/><path d="M1044.39 154.1h8.03M1048.4 140.71v26.78"/><path d="M1043.44 154.9h12.92M1049.9 143.71v22.37"/><path d="M1031.74 155.2h10.51M1037 143.89v22.61"/><path d="M1038.36 159.3h6.68M1041.7 151.68v15.24"/><path d="M1053.08 158h13.05M1059.6 146.09v23.82"/><path d="M1058.04 158h8.53M1062.3 150.16v15.69"/><path d="M1040.54 162.8h7.11M1044.1 158.79v8.02"/><path d="M1040.4 163.6h13.6M1047.2 157.76v11.69"/><path d="M1044.2 161.2h12.41M1050.4 155.42v11.57"/><path d="M1047.98 159.6h9.64M1052.8 150.16v18.88"/><path d="M1051.46 161.2h7.48M1055.2 154.39v13.62"/><path d="M1047.64 164.4h7.11M1051.2 160.36v8.08"/><path d="M1049.13 165.9h8.95M1053.6 153.51v24.79"/><path d="M1053.62 164.4h7.76M1057.5 156.07v16.66"/><path d="M1059.63 164.4h9.15M1064.2 155.25v18.3"/><path d="M1067.14 162.5h7.71M1071 158.03v8.95"/><path d="M1042.88 167.5h8.64M1047.2 153.71v27.59"/><path d="M1045.08 169.1h10.64M1050.4 160.58v17.04"/><path d="M1048.62 169.9h8.36M1052.8 158.73v22.34"/><path d="M1050.81 168.3h7.19M1054.4 158.16v20.27"/><path d="M1033.2 171h10M1038.2 166.31v9.37"/><path d="M1033.2 175.8h10.01M1038.2 168.41v14.77"/><path d="M1035.86 181.8h6.08M1038.9 173.3v16.99"/><path d="M1041.08 172.3h7.63M1044.9 167.23v10.14"/><path d="M1040.75 175.4h11.49M1046.5 165.87v19.07"/><path d="M1045.04 175.4h9.13M1049.6 164.36v22.09"/><path d="M1047.09 175.4h13.01M1053.6 167.74v15.31"/><path d="M1052.39 175.1h10.21M1057.5 162.19v25.82"/><path d="M1058.23 174.7h8.13M1062.3 166.18v17.03"/><path d="M1065.25 175.4h9.89M1070.2 167.79v15.21"/><path d="M1041.26 179.4h10.48M1046.5 167.52v23.75"/><path d="M1042.31 183.4h12.97M1048.8 175.27v16.25"/><path d="M1040.77 183h8.27M1044.9 171.32v23.36"/><path d="M1048.59 181h11.63M1054.4 174.26v13.48"/><path d="M1054.33 179.4h9.55M1059.1 172.93v12.94"/><path d="M1057.21 178.6h10.19M1062.3 172.51v12.17"/><path d="M1062.92 178.6h6.57M1066.2 171.95v13.29"/><path d="M1070.05 179.4h6.7M1073.4 172.4v13.99"/><path d="M1072.99 178.6h8.63M1077.3 171.49v14.21"/><path d="M1038.18 186.5h13.44M1044.9 174.86v23.28"/><path d="M1045.55 184.9h8.09M1049.6 171.85v26.1"/><path d="M1048.67 183.4h9.86M1053.6 179.25v8.3"/><path d="M1052.62 184.1h9.76M1057.5 179.26v9.68"/><path d="M1058.2 183.4h8.2M1062.3 169.79v27.22"/><path d="M1061.07 185.7h10.25M1066.2 171.85v27.7"/><path d="M1065.43 184.9h9.54M1070.2 177.57v14.67"/><path d="M1070.98 185.7h7.84M1074.9 179.23v12.95"/><path d="M1072.01 184.9h12.17M1078.1 174.99v19.82"/><path d="M1046.36 189.7h12.89M1052.8 180.9v17.59"/><path d="M1054.22 189.4h12.96M1060.7 176.39v26.01"/><path d="M1062.9 189.7h6.59M1066.2 179.02v21.37"/><path d="M1067.7 189.7h6.6M1071 182.17v15.06"/><path d="M1071.39 188.9h7.02M1074.9 178.57v20.65"/><path d="M1036.6 194.7h6.99M1040.1 189.82v9.76"/><path d="M1043.66 195.2h11.89M1049.6 184.42v21.57"/><path d="M1048.02 194.4h12.77M1054.4 181.31v26.18"/><path d="M1055.65 194.4h11.7M1061.5 182.11v24.57"/><path d="M1062.85 194.4h8.31M1067 185.82v17.15"/><path d="M1067.42 195.2h10.36M1072.6 187.22v15.95"/><path d="M1071.65 193.6h9.7M1076.5 184.78v17.63"/><path d="M1043.73 198.4h10.14M1048.8 194.01v8.77"/><path d="M1052.31 198.9h7.19M1055.9 187.18v23.44"/><path d="M1055.84 198.9h12.92M1062.3 192.83v12.14"/><path d="M1065.15 198.4h6.9M1068.6 192.06v12.68"/><path d="M1068.38 198.9h13.03M1074.9 190.47v16.87"/><path d="M1078.48 157h13.83M1085.4 148.04v17.93"/><path d="M1077.04 164.5h6.93M1080.5 152.85v23.3"/><path d="M1083.82 174.5h6.96M1087.3 163.54v21.93"/><path d="M1088.82 178.8h13.97M1095.8 167.35v22.89"/><path d="M1100.24 184.5h12.51M1106.5 176.24v16.51"/><path d="M1115.15 187.9h6.5M1118.4 181.64v12.51"/><path d="M1102.86 195.2h12.87M1109.3 183.31v23.78"/><path d="M1109.7 196.9h10.59M1115 190.88v12.04"/><path d="M1116.69 204.3h9.82M1121.6 192.11v24.38"/><path d="M1123.96 209.7h6.87M1127.4 196.67v26.06"/><path d="M1128.79 212.9h6.63M1132.1 201.69v22.43"/><path d="M1138.13 215.6h6.15M1141.2 203.05v25.1"/><path d="M1140.14 218.6h8.52M1144.4 209.09v19.03"/><path d="M1145.52 220.7h6.35M1148.7 210.03v21.34"/><path d="M1147.01 225.6h13.98M1154 218.58v14.04"/><path d="M1132.75 225h12.7M1139.1 219.49v11.03"/><path d="M1142.95 225h6.29M1146.1 214.33v21.34"/><path d="M1124.32 230.5h8.17M1128.4 219.35v22.3"/><path d="M1125.84 238.4h6.52M1129.1 233.07v10.67"/><path d="M1132.74 239.9h8.53M1137 230.71v18.38"/><path d="M1138.34 239.5h7.92M1142.3 234.24v10.53"/><path d="M1145.25 243.1h6.89M1148.7 235.43v15.33"/><path d="M1149.05 239.9h6.5M1152.3 230.48v18.83"/><path d="M1122.08 246.5h6.23M1125.2 237.3v18.41"/><path d="M1125.23 246.5h8.54M1129.5 242.1v8.79"/><path d="M1132.6 250.1h10M1137.6 238.1v24"/><path d="M1117.91 242.7h6.18M1121 232.88v19.64"/><path d="M1103.6 248h10M1108.6 236v24"/><path d="M1102.3 253.3h10M1107.3 238.3v30"/><path d="M1115.5 258.2h10M1120.5 238.2v40"/><path d="M1079.3 254h10M1084.3 234v40"/><path d="M1128.8 277.2h10M1133.8 259.2v36"/><path d="M1144.7 269.8h10M1149.7 254.8v30"/><path d="M1045.1 236.9h12M1051.1 224.9v24"/><path d="M1037.95 207.1h11.69M1043.8 201.3v11.6"/><path d="M1044.32 214.6h10.57M1049.6 209.75v9.7"/><path d="M1053.94 213.9h9.73M1058.8 201.73v24.33"/><path d="M1059.64 219.3h7.51M1063.4 210.65v17.29"/><path d="M1055.29 221.4h13.22M1061.9 214.72v13.36"/><path d="M1064.37 220.3h12.26M1070.5 215.52v9.55"/><path d="M1070 222.9h8.19M1074.1 211.13v23.53"/><path d="M1077.23 231h12.94M1083.7 224.09v13.82"/><path d="M1084.76 238.4h9.29M1089.4 231.08v14.63"/><path d="M1086.33 235.2h7.54M1090.1 227.9v14.59"/><path d="M1091.14 237.8h12.71M1097.5 228.06v19.48"/><path d="M1096.53 237.4h12.75M1102.9 227.69v19.41"/><path d="M1107.39 235.2h11.42M1113.1 225.65v19.1"/><path d="M1000.1 183.1h10M1005.1 148.1v70"/><path d="M1005.4 197.7h12M1011.4 164.7v66"/><path d="M1034.85 182h7.7M1038.7 173.09v17.81"/><path d="M1035.52 195.3h8.76M1039.9 189.01v12.58"/><path d="M1039.54 206.7h8.53M1043.8 193.5v26.4"/><path d="M1042.75 214.8h13.7M1049.6 201.12v27.36"/><path d="M1053.42 214.5h10.36M1058.6 207.75v13.51"/><path d="M1044.3 236.9h14M1051.3 221.9v30"/><path d="M1057.54 221.3h8.92M1062 214.33v13.93"/><path d="M1057.35 218.7h13.7M1064.2 206.06v25.27"/><path d="M1064.35 220.7h12.3M1070.5 211.5v18.4"/><path d="M1069.26 223h9.88M1074.2 211.64v22.72"/><path d="M1069.04 209.7h13.12M1075.6 198.53v22.33"/><path d="M1057.71 209.7h13.58M1064.5 199.67v20.06"/><path d="M1069.84 119h12.71M1076.2 108.93v20.13"/><path d="M1070.6 138.2h10.4M1075.8 125.99v24.43"/><path d="M1070.21 146.8h9.57M1075 134.36v24.88"/><path d="M1072.17 149.2h8.06M1076.2 135.45v27.5"/><path d="M1066.97 152.6h11.85M1072.9 146.65v11.91"/><path d="M1065.46 162.3h11.47M1071.2 155.41v13.78"/><path d="M1082.21 157.3h6.78M1085.6 151.98v10.64"/><path d="M1076.07 164.5h9.47M1080.8 151.02v26.97"/><path d="M1091.95 178.9h7.9M1095.9 169.47v18.86"/><path d="M1090.44 182.8h9.52M1095.2 177.1v11.41"/><path d="M1100.92 185h11.56M1106.7 177.96v14.08"/><path d="M1115.32 187.8h6.36M1118.5 175.3v24.99"/><path d="M1103.15 195h12.1M1109.2 190.53v8.93"/><path d="M1066.59 175.6h9.62M1071.4 168.41v14.38"/><path d="M1067.27 179.2h11.25M1072.9 172.06v14.27"/><path d="M1072.8 178.5h11.59M1078.6 174.04v8.92"/><path d="M1073.17 177h13.26M1079.8 166.53v20.94"/><path d="M1078.11 182.1h9.19M1082.7 169.92v24.36"/><path d="M1072.64 182.8h11.92M1078.6 175.67v14.27"/><path d="M1066.61 198.64h9.4M1071.31 185.97v25.35"/><path d="M1060.82 203.28h12.75M1067.2 197.23v12.1"/><path d="M1051.72 195.18h8.28M1055.86 186.32v17.73"/><path d="M1049.25 178.6h6.99M1052.75 171.76v13.68"/><path d="M1072.31 178.69h6.81M1075.72 167.76v21.86"/><path d="M1069.31 185.63h13.69M1076.15 175.74v19.78"/><path d="M1045.6 181.28h10.67M1050.94 170.67v21.22"/><path d="M1063.67 189.3h8.6M1067.98 176.37v25.87"/><path d="M1056.53 178.51h10.5M1061.78 173.89v9.25"/><path d="M1056.38 188.57h12.77M1062.77 183.21v10.72"/><path d="M1047.17 186.6h11.57M1052.96 181.87v9.46"/><path d="M1062.91 190h10.55M1068.18 182.46v15.08"/><path d="M1063.91 193.07h8.12M1067.97 181.8v22.54"/><path d="M1055.99 184.37h12.68M1062.33 179.31v10.13"/><path d="M1047.6 185.05h6.24M1050.72 179.97v10.16"/><path d="M1061.27 175.04h12.31M1067.42 161.35v27.38"/><path d="M1065.27 186.22h11.26M1070.9 175.62v21.19"/><path d="M1051 198.97h13.28M1057.64 189.06v19.82"/><path d="M1060.52 181.5h12.76M1066.9 174.2v14.62"/><path d="M1047.16 191.72h10.89M1052.6 183.06v17.32"/><path d="M1071.37 181.02h10.2M1076.47 168.18v25.67"/><path d="M1044.39 185.04h13.84M1051.31 177.89v14.28"/><path d="M1063.84 204.1h11.51M1069.6 196.89v14.42"/><path d="M1068.41 179.55h9.62M1073.22 170.25v18.6"/><path d="M1072.39 190.62h6.83M1075.81 182.23v16.78"/><path d="M1063.88 227.83h9.5M1068.63 219.83v16"/><path d="M1103.79 198.5h6.64M1107.11 187.7v21.6"/><path d="M1112.54 219.06h8.22M1116.65 205.74v26.65"/><path d="M1105.11 227.14h7.58M1108.9 217.6v19.09"/><path d="M1058.98 208.9h6.58M1062.27 200.25v17.3"/><path d="M1084.22 216.36h12.76M1090.6 205.86v20.99"/><path d="M1073.27 215.59h9.58M1078.06 210.99v9.2"/><path d="M1088.36 214.02h6.79M1091.75 201.52v24.99"/><path d="M1099.1 206.74h6.14M1102.17 193.92v25.63"/><path d="M1097.4 222.19h12.79M1103.8 212.45v19.48"/><path d="M1059.66 204.33h13.35M1066.33 194.55v19.55"/><path d="M1096.08 214.37h10.16M1101.15 203.51v21.73"/><path d="M1104.73 210.1h11.03M1110.25 203.21v13.78"/><path d="M1092.81 199.15h13.92M1099.77 189.86v18.56"/><path d="M1090.56 234.47h9.61M1095.37 229.16v10.62"/><path d="M1110.46 220.87h7.34M1114.13 214.85v12.03"/><path d="M1074.95 234.06h12.5M1081.2 229.71v8.7"/><path d="M1090.82 202.46h9.5M1095.57 191.03v22.86"/><path d="M1080.34 218.53h13.45M1087.06 206.65v23.76"/><path d="M1108.7 206.8h13.68M1115.54 195.26v23.09"/><path d="M1093.51 204.96h11.64M1099.33 191.59v26.74"/><path d="M1072.93 193.31h7.4M1076.63 184.66v17.3"/><path d="M1066.99 195.55h10.15M1072.06 189.19v12.73"/><path d="M1109.81 222.57h6.95M1113.29 210.16v24.82"/><path d="M1056.29 215.32h6.24M1059.41 203.7v23.24"/><path d="M1089.41 193.21h6.29M1092.56 184.17v18.09"/><path d="M1078.73 205.03h6.71M1082.08 194.89v20.27"/><path d="M1048.9 215.69h7.87M1052.84 207.79v15.81"/><path d="M1089.41 206.05h7.2M1093.01 201.17v9.77"/><path d="M1115.26 208.76h6.95M1118.73 201.95v13.62"/><path d="M1090.63 208.56h6.49M1093.87 202.67v11.78"/><path d="M1095.15 207.11h11.98M1101.14 201.48v11.27"/><path d="M1080.31 193.26h11.11M1085.87 187.51v11.49"/><path d="M1078.25 207.7h8.59M1082.55 200.37v14.64"/><path d="M1100.72 214.7h9.16M1105.31 202.88v23.64"/><path d="M1107.25 234.87h13.24M1113.87 224.67v20.4"/><path d="M1106.89 217.32h12.23M1113 203.36v27.92"/><path d="M1071.01 203.21h13.62M1077.82 192.25v21.92"/><path d="M1073.76 203.5h11.74M1079.63 189.78v27.45"/><path d="M1072.84 202.49h10.06M1077.87 198.08v8.82"/><path d="M1108.66 206.03h11.02M1114.17 195.06v21.95"/><path d="M1101.24 207.13h10.58M1106.53 200.72v12.82"/><path d="M1071.59 195.7h10.5M1076.84 189.74v11.91"/><path d="M1087.97 215.19h9.36M1092.65 205.41v19.56"/><path d="M1069.86 215.89h9.07M1074.4 207.19v17.4"/><path d="M1090.22 227.51h7.73M1094.08 221.31v12.42"/><path d="M1066.62 207h10.12M1071.68 200.72v12.56"/><path d="M1073.14 193.75h7.7M1076.99 188.54v10.42"/><path d="M1103.1 212.28h10.49M1108.35 203.4v17.77"/><path d="M1078.35 204.43h7.21M1081.96 193.44v21.97"/><path d="M1086.25 183.67h9.98M1091.24 171.16v25.01"/><path d="M1045.75 185.14h7.34M1049.41 178.14v14"/><path d="M1097.61 204.38h10.51M1102.86 191.51v25.73"/><path d="M1091.2 217.16h6.14M1094.27 206.98v20.37"/><path d="M1102.16 217.07h10.04M1107.18 208.79v16.56"/><path d="M1059.25 196.61h13.09M1065.79 186.77v19.69"/><path d="M1054.9 196.74h9.55M1059.67 189.71v14.07"/><path d="M1067.38 201.48h7.88M1071.32 190.03v22.9"/><path d="M1083.98 213.1h11.58M1089.77 200.25v25.7"/><path d="M1137.31 220.49h6.38M1140.5 206.75v27.47"/><path d="M1125.29 217.08h6.06M1128.32 206.37v21.42"/><path d="M1090.23 238.64h8.2M1094.33 234.07v9.14"/><path d="M1074.1 193.37h10.26M1079.23 185.26v16.23"/><path d="M1110.8 232.7h6.07M1113.84 222.91v19.58"/><path d="M1100.05 227.29h10.66M1105.38 220.83v12.93"/><path d="M1093.19 205.93h12.93M1099.66 198v15.86"/><path d="M1089.86 199.56h8.56M1094.14 194.63v9.86"/><path d="M1087.46 208.73h9.75M1092.34 200.66v16.13"/><path d="M1082.84 218.11h9.9M1087.79 205.3v25.62"/><path d="M1097.88 207.37h10.76M1103.26 197.06v20.61"/><path d="M1095.75 197.72h6.51M1099 192.29v10.87"/><path d="M1096.88 207.56h10.55M1102.16 203.03v9.07"/><path d="M1082.97 202.58h6.34M1086.13 198.43v8.3"/><path d="M1083.57 225.15h12.02M1089.58 220.85v8.61"/><path d="M1075.84 204.3h10.86M1081.27 193.29v22.03"/><path d="M1096.46 222.59h12.95M1102.93 211.95v21.27"/><path d="M1094.08 228.89h8.91M1098.53 223.34v11.09"/><path d="M1069.71 210.04h11.26M1075.34 197.21v25.66"/><path d="M1067.04 236.78h8.94M1071.52 226.31v20.95"/><path d="M1072.13 211.36h11.5M1077.88 199.94v22.84"/><path d="M1093.12 215.63h8.78M1097.51 208.46v14.35"/><path d="M1051.14 199.69h8.41M1055.35 193.42v12.55"/><path d="M1075.6 209.06h9.29M1080.24 199.8v18.51"/><path d="M1102.99 235.09h11.07M1108.52 223.55v23.07"/><path d="M1078.8 209.82h11.94M1084.77 197.1v25.45"/><path d="M1116.42 214.96h7M1119.92 208.03v13.86"/><path d="M1090.74 209.52h8.26M1094.88 201.65v15.74"/><path d="M1093.21 211.5h8.19M1097.31 201.13v20.74"/><path d="M1102.2 221.14h11.89M1108.15 212.49v17.3"/><path d="M1092.81 205.58h11.71M1098.66 200.02v11.14"/><path d="M1080.17 189.71h6.5M1083.42 182.9v13.62"/><path d="M1065.87 220.81h6.55M1069.15 212.7v16.23"/><path d="M1095.05 216.92h13.64M1101.87 212.19v9.46"/><path d="M1074.64 200.54h11.47M1080.38 193.68v13.71"/><path d="M1058.77 198.19h7.3M1062.42 185.23v25.9"/><path d="M1097.06 221h7.79M1100.96 211.62v18.76"/><path d="M1079.43 219.07h6.48M1082.66 212.06v14.03"/><path d="M1097.16 217.84h11.27M1102.79 208.27v19.15"/><path d="M1085.25 211.48h12.07M1091.29 206.5v9.96"/><path d="M1088.98 200.87h12.98M1095.47 195.89v9.95"/><path d="M1084.24 213.62h13.5M1090.99 203.47v20.31"/><path d="M1080.75 214.87h13.13M1087.32 207.32v15.11"/><path d="M1098.29 227.84h8.91M1102.74 215.65v24.37"/><path d="M1109.41 233.55h13.11M1115.97 228.94v9.21"/><path d="M1086.5 192.92h12.06M1092.53 180.23v25.37"/><path d="M1066.14 202.78h10.7M1071.49 194.37v16.82"/><path d="M1097.57 229.49h10.21M1102.67 222.03v14.91"/><path d="M1097.43 190.93h10.07M1102.46 183.15v15.57"/><path d="M1066.07 197.08h8.41M1070.28 184.82v24.5"/><path d="M1084.22 192.91h10.76M1089.6 188.23v9.35"/><path d="M1079.55 186.72h11.35M1085.23 174.3v24.84"/><path d="M1094.64 227.44h11.74M1100.51 213.97v26.94"/><path d="M1098.22 221.59h7.91M1102.17 215.05v13.08"/><path d="M1083.43 199.56h13.39M1090.12 188.8v21.5"/><path d="M1088.8 186.91h12.89M1095.25 182.63v8.57"/><path d="M1065.46 207.5h11.79M1071.36 194.46v26.08"/><path d="M1087.16 226.63h13.2M1093.76 220.77v11.72"/><path d="M1105.41 224.96h7.4M1109.11 220.62v8.68"/><path d="M1067.21 211.01h11.16M1072.78 198.45v25.13"/><path d="M1081.49 218.99h13.23M1088.11 214.44v9.11"/><path d="M1083.77 205.99h12.07M1089.8 200.83v10.33"/><path d="M1098.9 210.22h13.45M1105.63 199.91v20.63"/><path d="M1094.39 207.47h11.37M1100.08 196.9v21.13"/><path d="M1069.72 210.58h10.29M1074.86 198.16v24.83"/><path d="M1118.78 229.81h9.99M1123.77 224.8v10.02"/><path d="M1074.3 177.6h7.72M1078.16 172.25v10.7"/><path d="M1090.15 218.27h10.1M1095.2 212.26v12.03"/><path d="M1120.85 214.51h12.97M1127.34 205.18v18.65"/><path d="M1065.99 204.53h9.25M1070.61 194.89v19.28"/><path d="M1105.09 228.3h10.48M1110.34 222.13v12.34"/><path d="M1125.34 235h13.2M1131.94 221.07v27.86"/><path d="M1129.26 218.9h8.63M1133.57 205.64v26.52"/><path d="M1119.41 234.51h11.78M1125.3 227.69v13.63"/><path d="M1132.25 227.16h13.94M1139.22 216.1v22.12"/><path d="M1115.25 217.84h13.14M1121.82 205.26v25.15"/><path d="M1135.26 231.92h6.07M1138.29 223.7v16.44"/><path d="M1128.3 218.04h10.5M1133.56 212.4v11.27"/><path d="M1126.58 233.2h8.04M1130.6 222.08v22.25"/><path d="M1130.49 221.02h12.7M1136.84 213.52v15.02"/><path d="M1139.14 220.64h10M1144.14 208.95v23.37"/><path d="M1129.67 222.16h13.19M1136.27 214.74v14.84"/><path d="M1144.8 248.78h13.94M1151.76 238.15v21.27"/><path d="M1126.99 227.06h12.25M1133.12 216.14v21.83"/><path d="M1147.05 218.46h11.02M1152.56 206.33v24.25"/><path d="M1117.57 227.77h10.94M1123.04 220.69v14.16"/><path d="M1124.15 208.28h9.58M1128.94 195.37v25.8"/><path d="M1132.47 221.01h6.54M1135.74 213.85v14.32"/><path d="M1122.06 215.3h7.3M1125.71 204.45v21.71"/><path d="M1121.37 230.05h6.9M1124.82 218.95v22.2"/><path d="M1122.69 230.64h13.16M1129.27 223.31v14.67"/></g>
<path d="M884.6 70.5 L891.34 74.75 L898.09 79.01 L904.83 83.26 L911.57 87.51 L918.31 91.76 L925.06 96.01 L931.8 100.26 L938.54 104.51 L945.28 108.75 L952.02 112.99 L958.77 117.23 L965.51 121.47 L972.25 125.7 L979 129.93 L985.74 134.15 L992.48 138.37 L999.22 142.59 L1005.97 146.8 L1012.71 151 L1019.45 155.19 L1026.19 159.37 L1032.93 163.54 L1039.68 167.69 L1046.42 171.83 L1053.16 175.95 L1059.9 180.04 L1066.65 184.12 L1073.39 188.17 L1080.13 192.19 L1086.88 196.19 L1093.62 200.16 L1100.36 204.1 L1107.1 208.02 L1113.85 211.92 L1120.59 215.8 L1127.33 219.67 L1134.07 223.52 L1140.82 227.35 L1147.56 231.18 L1154.3 235 L1154.3 242.6 L1147.56 238.4 L1140.82 234.21 L1134.07 230.02 L1127.33 225.85 L1120.59 221.7 L1113.85 217.56 L1107.1 213.44 L1100.36 209.34 L1093.62 205.26 L1086.88 201.21 L1080.13 197.19 L1073.39 193.19 L1066.65 189.22 L1059.9 185.28 L1053.16 181.35 L1046.42 177.45 L1039.68 173.57 L1032.93 169.7 L1026.19 165.85 L1019.45 162.01 L1012.71 158.18 L1005.97 154.36 L999.22 150.55 L992.48 146.75 L985.74 142.95 L979 139.15 L972.25 135.36 L965.51 131.57 L958.77 127.79 L952.02 124.01 L945.28 120.23 L938.54 116.45 L931.8 112.68 L925.06 108.91 L918.31 105.14 L911.57 101.37 L904.83 97.6 L898.09 93.83 L891.34 90.07 L884.6 86.3 Z" fill="#2ca02c" fill-opacity="0.4" stroke="none"/>
<path d="M884.6 78.4L1154.3 238.8" stroke="#2ca02c" stroke-width="3.2" stroke-dasharray="10 4.4" fill="none"/>
<g fill="#2ca02c" stroke="#000" stroke-width="0.6"><circle cx="884.5" cy="98.1" r="1.95"/><circle cx="904.3" cy="107.9" r="1.95"/><circle cx="907.9" cy="121.4" r="1.95"/><circle cx="906.4" cy="128.3" r="1.95"/><circle cx="911.8" cy="131" r="1.95"/><circle cx="910" cy="134.3" r="1.95"/><circle cx="910.9" cy="177.6" r="1.95"/><circle cx="898.3" cy="205.2" r="1.95"/><circle cx="939.3" cy="170.2" r="1.95"/><circle cx="940.8" cy="241.4" r="1.95"/><circle cx="923.7" cy="105" r="1.95"/><circle cx="945.3" cy="106.5" r="1.95"/><circle cx="976.1" cy="93" r="1.95"/><circle cx="958.1" cy="166.9" r="1.95"/><circle cx="976.7" cy="154.3" r="1.95"/><circle cx="982" cy="164.8" r="1.95"/><circle cx="985" cy="164.8" r="1.95"/><circle cx="977.6" cy="183.3" r="1.95"/><circle cx="981.1" cy="194.1" r="1.95"/><circle cx="988.6" cy="176.7" r="1.95"/><circle cx="993.1" cy="170.8" r="1.95"/><circle cx="994.6" cy="161.8" r="1.95"/><circle cx="996.1" cy="155.2" r="1.95"/><circle cx="997.6" cy="151.3" r="1.95"/><circle cx="990.1" cy="146.2" r="1.95"/><circle cx="991.6" cy="145.3" r="1.95"/><circle cx="995.2" cy="145.3" r="1.95"/><circle cx="994.6" cy="201.3" r="1.95"/><circle cx="992.2" cy="231.5" r="1.95"/><circle cx="999.1" cy="132.5" r="1.95"/><circle cx="915.6" cy="68.6" r="1.95"/><circle cx="931.8" cy="86.8" r="1.95"/><circle cx="976" cy="93.1" r="1.95"/><circle cx="1003.3" cy="119.3" r="1.95"/><circle cx="1002.9" cy="122.4" r="1.95"/><circle cx="1013.7" cy="121.3" r="1.95"/><circle cx="1016.7" cy="130.3" r="1.95"/><circle cx="1000.1" cy="132.4" r="1.95"/><circle cx="1003.3" cy="132.4" r="1.95"/><circle cx="1002.2" cy="136.7" r="1.95"/><circle cx="990.8" cy="146.2" r="1.95"/><circle cx="992.7" cy="146.2" r="1.95"/><circle cx="997.7" cy="143.5" r="1.95"/><circle cx="1003.7" cy="142.5" r="1.95"/><circle cx="1009.6" cy="143" r="1.95"/><circle cx="1006.1" cy="145.7" r="1.95"/><circle cx="1001.4" cy="150.1" r="1.95"/><circle cx="1000.3" cy="152.5" r="1.95"/><circle cx="996.6" cy="154.9" r="1.95"/><circle cx="1015.3" cy="145.1" r="1.95"/><circle cx="1017.5" cy="150.4" r="1.95"/><circle cx="1003.7" cy="159.1" r="1.95"/><circle cx="994.7" cy="161.5" r="1.95"/><circle cx="982.4" cy="164.7" r="1.95"/><circle cx="985.1" cy="165.2" r="1.95"/><circle cx="993.4" cy="170.7" r="1.95"/><circle cx="989" cy="176.7" r="1.95"/><circle cx="1010.4" cy="167.5" r="1.95"/><circle cx="1021.1" cy="166.4" r="1.95"/><circle cx="1026.7" cy="162" r="1.95"/><circle cx="1025.6" cy="164.4" r="1.95"/><circle cx="1028.7" cy="174.7" r="1.95"/><circle cx="1004.8" cy="183.4" r="1.95"/><circle cx="981.3" cy="194.1" r="1.95"/><circle cx="1011.6" cy="197.6" r="1.95"/><circle cx="1041.4" cy="124.8" r="1.95"/><circle cx="1050.4" cy="122.9" r="1.95"/><circle cx="1060.2" cy="109" r="1.95"/><circle cx="1060.2" cy="119.3" r="1.95"/><circle cx="1062.3" cy="121.6" r="1.95"/><circle cx="1065.1" cy="122.4" r="1.95"/><circle cx="1076" cy="119" r="1.95"/><circle cx="1056.4" cy="128.3" r="1.95"/><circle cx="1061.5" cy="128.3" r="1.95"/><circle cx="1064.7" cy="129.6" r="1.95"/><circle cx="1066.2" cy="131.9" r="1.95"/><circle cx="1066.7" cy="134.6" r="1.95"/><circle cx="1050.4" cy="130.8" r="1.95"/><circle cx="1054.4" cy="130.8" r="1.95"/><circle cx="1042.2" cy="132.4" r="1.95"/><circle cx="1046.1" cy="137" r="1.95"/><circle cx="1036.6" cy="140.6" r="1.95"/><circle cx="1043.8" cy="141" r="1.95"/><circle cx="1043.3" cy="143.8" r="1.95"/><circle cx="1038.9" cy="146.6" r="1.95"/><circle cx="1075.7" cy="137.9" r="1.95"/><circle cx="1055.6" cy="143" r="1.95"/><circle cx="1057.5" cy="146.2" r="1.95"/><circle cx="1054.4" cy="149.3" r="1.95"/><circle cx="1059.9" cy="149.3" r="1.95"/><circle cx="1063.5" cy="149.3" r="1.95"/><circle cx="1055.6" cy="152" r="1.95"/><circle cx="1059.1" cy="152" r="1.95"/><circle cx="1065.4" cy="152.5" r="1.95"/><circle cx="1074.9" cy="146.6" r="1.95"/><circle cx="1076.2" cy="149.3" r="1.95"/><circle cx="1073.4" cy="152.5" r="1.95"/><circle cx="1047.2" cy="150.9" r="1.95"/><circle cx="1048.4" cy="154.1" r="1.95"/><circle cx="1049.9" cy="154.9" r="1.95"/><circle cx="1037" cy="155.2" r="1.95"/><circle cx="1041.7" cy="159.3" r="1.95"/><circle cx="1059.6" cy="158" r="1.95"/><circle cx="1062.3" cy="158" r="1.95"/><circle cx="1044.1" cy="162.8" r="1.95"/><circle cx="1047.2" cy="163.6" r="1.95"/><circle cx="1050.4" cy="161.2" r="1.95"/><circle cx="1052.8" cy="159.6" r="1.95"/><circle cx="1055.2" cy="161.2" r="1.95"/><circle cx="1051.2" cy="164.4" r="1.95"/><circle cx="1053.6" cy="165.9" r="1.95"/><circle cx="1057.5" cy="164.4" r="1.95"/><circle cx="1064.2" cy="164.4" r="1.95"/><circle cx="1071" cy="162.5" r="1.95"/><circle cx="1047.2" cy="167.5" r="1.95"/><circle cx="1050.4" cy="169.1" r="1.95"/><circle cx="1052.8" cy="169.9" r="1.95"/><circle cx="1054.4" cy="168.3" r="1.95"/><circle cx="1038.2" cy="171" r="1.95"/><circle cx="1038.2" cy="175.8" r="1.95"/><circle cx="1038.9" cy="181.8" r="1.95"/><circle cx="1044.9" cy="172.3" r="1.95"/><circle cx="1046.5" cy="175.4" r="1.95"/><circle cx="1049.6" cy="175.4" r="1.95"/><circle cx="1053.6" cy="175.4" r="1.95"/><circle cx="1057.5" cy="175.1" r="1.95"/><circle cx="1062.3" cy="174.7" r="1.95"/><circle cx="1070.2" cy="175.4" r="1.95"/><circle cx="1046.5" cy="179.4" r="1.95"/><circle cx="1048.8" cy="183.4" r="1.95"/><circle cx="1044.9" cy="183" r="1.95"/><circle cx="1054.4" cy="181" r="1.95"/><circle cx="1059.1" cy="179.4" r="1.95"/><circle cx="1062.3" cy="178.6" r="1.95"/><circle cx="1066.2" cy="178.6" r="1.95"/><circle cx="1073.4" cy="179.4" r="1.95"/><circle cx="1077.3" cy="178.6" r="1.95"/><circle cx="1044.9" cy="186.5" r="1.95"/><circle cx="1049.6" cy="184.9" r="1.95"/><circle cx="1053.6" cy="183.4" r="1.95"/><circle cx="1057.5" cy="184.1" r="1.95"/><circle cx="1062.3" cy="183.4" r="1.95"/><circle cx="1066.2" cy="185.7" r="1.95"/><circle cx="1070.2" cy="184.9" r="1.95"/><circle cx="1074.9" cy="185.7" r="1.95"/><circle cx="1078.1" cy="184.9" r="1.95"/><circle cx="1052.8" cy="189.7" r="1.95"/><circle cx="1060.7" cy="189.4" r="1.95"/><circle cx="1066.2" cy="189.7" r="1.95"/><circle cx="1071" cy="189.7" r="1.95"/><circle cx="1074.9" cy="188.9" r="1.95"/><circle cx="1040.1" cy="194.7" r="1.95"/><circle cx="1049.6" cy="195.2" r="1.95"/><circle cx="1054.4" cy="194.4" r="1.95"/><circle cx="1061.5" cy="194.4" r="1.95"/><circle cx="1067" cy="194.4" r="1.95"/><circle cx="1072.6" cy="195.2" r="1.95"/><circle cx="1076.5" cy="193.6" r="1.95"/><circle cx="1048.8" cy="198.4" r="1.95"/><circle cx="1055.9" cy="198.9" r="1.95"/><circle cx="1062.3" cy="198.9" r="1.95"/><circle cx="1068.6" cy="198.4" r="1.95"/><circle cx="1074.9" cy="198.9" r="1.95"/><circle cx="1085.4" cy="157" r="1.95"/><circle cx="1080.5" cy="164.5" r="1.95"/><circle cx="1087.3" cy="174.5" r="1.95"/><circle cx="1095.8" cy="178.8" r="1.95"/><circle cx="1106.5" cy="184.5" r="1.95"/><circle cx="1118.4" cy="187.9" r="1.95"/><circle cx="1109.3" cy="195.2" r="1.95"/><circle cx="1115" cy="196.9" r="1.95"/><circle cx="1121.6" cy="204.3" r="1.95"/><circle cx="1127.4" cy="209.7" r="1.95"/><circle cx="1132.1" cy="212.9" r="1.95"/><circle cx="1141.2" cy="215.6" r="1.95"/><circle cx="1144.4" cy="218.6" r="1.95"/><circle cx="1148.7" cy="220.7" r="1.95"/><circle cx="1154" cy="225.6" r="1.95"/><circle cx="1139.1" cy="225" r="1.95"/><circle cx="1146.1" cy="225" r="1.95"/><circle cx="1128.4" cy="230.5" r="1.95"/><circle cx="1129.1" cy="238.4" r="1.95"/><circle cx="1137" cy="239.9" r="1.95"/><circle cx="1142.3" cy="239.5" r="1.95"/><circle cx="1148.7" cy="243.1" r="1.95"/><circle cx="1152.3" cy="239.9" r="1.95"/><circle cx="1125.2" cy="246.5" r="1.95"/><circle cx="1129.5" cy="246.5" r="1.95"/><circle cx="1137.6" cy="250.1" r="1.95"/><circle cx="1121" cy="242.7" r="1.95"/><circle cx="1108.6" cy="248" r="1.95"/><circle cx="1107.3" cy="253.3" r="1.95"/><circle cx="1120.5" cy="258.2" r="1.95"/><circle cx="1084.3" cy="254" r="1.95"/><circle cx="1133.8" cy="277.2" r="1.95"/><circle cx="1149.7" cy="269.8" r="1.95"/><circle cx="1051.1" cy="236.9" r="1.95"/><circle cx="1043.8" cy="207.1" r="1.95"/><circle cx="1049.6" cy="214.6" r="1.95"/><circle cx="1058.8" cy="213.9" r="1.95"/><circle cx="1063.4" cy="219.3" r="1.95"/><circle cx="1061.9" cy="221.4" r="1.95"/><circle cx="1070.5" cy="220.3" r="1.95"/><circle cx="1074.1" cy="222.9" r="1.95"/><circle cx="1083.7" cy="231" r="1.95"/><circle cx="1089.4" cy="238.4" r="1.95"/><circle cx="1090.1" cy="235.2" r="1.95"/><circle cx="1097.5" cy="237.8" r="1.95"/><circle cx="1102.9" cy="237.4" r="1.95"/><circle cx="1113.1" cy="235.2" r="1.95"/><circle cx="1005.1" cy="183.1" r="1.95"/><circle cx="1011.4" cy="197.7" r="1.95"/><circle cx="1038.7" cy="182" r="1.95"/><circle cx="1039.9" cy="195.3" r="1.95"/><circle cx="1043.8" cy="206.7" r="1.95"/><circle cx="1049.6" cy="214.8" r="1.95"/><circle cx="1058.6" cy="214.5" r="1.95"/><circle cx="1051.3" cy="236.9" r="1.95"/><circle cx="1062" cy="221.3" r="1.95"/><circle cx="1064.2" cy="218.7" r="1.95"/><circle cx="1070.5" cy="220.7" r="1.95"/><circle cx="1074.2" cy="223" r="1.95"/><circle cx="1075.6" cy="209.7" r="1.95"/><circle cx="1064.5" cy="209.7" r="1.95"/><circle cx="1076.2" cy="119" r="1.95"/><circle cx="1075.8" cy="138.2" r="1.95"/><circle cx="1075" cy="146.8" r="1.95"/><circle cx="1076.2" cy="149.2" r="1.95"/><circle cx="1072.9" cy="152.6" r="1.95"/><circle cx="1071.2" cy="162.3" r="1.95"/><circle cx="1085.6" cy="157.3" r="1.95"/><circle cx="1080.8" cy="164.5" r="1.95"/><circle cx="1095.9" cy="178.9" r="1.95"/><circle cx="1095.2" cy="182.8" r="1.95"/><circle cx="1106.7" cy="185" r="1.95"/><circle cx="1118.5" cy="187.8" r="1.95"/><circle cx="1109.2" cy="195" r="1.95"/><circle cx="1071.4" cy="175.6" r="1.95"/><circle cx="1072.9" cy="179.2" r="1.95"/><circle cx="1078.6" cy="178.5" r="1.95"/><circle cx="1079.8" cy="177" r="1.95"/><circle cx="1082.7" cy="182.1" r="1.95"/><circle cx="1078.6" cy="182.8" r="1.95"/><circle cx="1071.31" cy="198.64" r="1.95"/><circle cx="1067.2" cy="203.28" r="1.95"/><circle cx="1055.86" cy="195.18" r="1.95"/><circle cx="1052.75" cy="178.6" r="1.95"/><circle cx="1075.72" cy="178.69" r="1.95"/><circle cx="1076.15" cy="185.63" r="1.95"/><circle cx="1050.94" cy="181.28" r="1.95"/><circle cx="1067.98" cy="189.3" r="1.95"/><circle cx="1061.78" cy="178.51" r="1.95"/><circle cx="1062.77" cy="188.57" r="1.95"/><circle cx="1052.96" cy="186.6" r="1.95"/><circle cx="1068.18" cy="190" r="1.95"/><circle cx="1067.97" cy="193.07" r="1.95"/><circle cx="1062.33" cy="184.37" r="1.95"/><circle cx="1050.72" cy="185.05" r="1.95"/><circle cx="1067.42" cy="175.04" r="1.95"/><circle cx="1070.9" cy="186.22" r="1.95"/><circle cx="1057.64" cy="198.97" r="1.95"/><circle cx="1066.9" cy="181.5" r="1.95"/><circle cx="1052.6" cy="191.72" r="1.95"/><circle cx="1076.47" cy="181.02" r="1.95"/><circle cx="1051.31" cy="185.04" r="1.95"/><circle cx="1069.6" cy="204.1" r="1.95"/><circle cx="1073.22" cy="179.55" r="1.95"/><circle cx="1075.81" cy="190.62" r="1.95"/><circle cx="1068.63" cy="227.83" r="1.95"/><circle cx="1107.11" cy="198.5" r="1.95"/><circle cx="1116.65" cy="219.06" r="1.95"/><circle cx="1108.9" cy="227.14" r="1.95"/><circle cx="1062.27" cy="208.9" r="1.95"/><circle cx="1090.6" cy="216.36" r="1.95"/><circle cx="1078.06" cy="215.59" r="1.95"/><circle cx="1091.75" cy="214.02" r="1.95"/><circle cx="1102.17" cy="206.74" r="1.95"/><circle cx="1103.8" cy="222.19" r="1.95"/><circle cx="1066.33" cy="204.33" r="1.95"/><circle cx="1101.15" cy="214.37" r="1.95"/><circle cx="1110.25" cy="210.1" r="1.95"/><circle cx="1099.77" cy="199.15" r="1.95"/><circle cx="1095.37" cy="234.47" r="1.95"/><circle cx="1114.13" cy="220.87" r="1.95"/><circle cx="1081.2" cy="234.06" r="1.95"/><circle cx="1095.57" cy="202.46" r="1.95"/><circle cx="1087.06" cy="218.53" r="1.95"/><circle cx="1115.54" cy="206.8" r="1.95"/><circle cx="1099.33" cy="204.96" r="1.95"/><circle cx="1076.63" cy="193.31" r="1.95"/><circle cx="1072.06" cy="195.55" r="1.95"/><circle cx="1113.29" cy="222.57" r="1.95"/><circle cx="1059.41" cy="215.32" r="1.95"/><circle cx="1092.56" cy="193.21" r="1.95"/><circle cx="1082.08" cy="205.03" r="1.95"/><circle cx="1052.84" cy="215.69" r="1.95"/><circle cx="1093.01" cy="206.05" r="1.95"/><circle cx="1118.73" cy="208.76" r="1.95"/><circle cx="1093.87" cy="208.56" r="1.95"/><circle cx="1101.14" cy="207.11" r="1.95"/><circle cx="1085.87" cy="193.26" r="1.95"/><circle cx="1082.55" cy="207.7" r="1.95"/><circle cx="1105.31" cy="214.7" r="1.95"/><circle cx="1113.87" cy="234.87" r="1.95"/><circle cx="1113" cy="217.32" r="1.95"/><circle cx="1077.82" cy="203.21" r="1.95"/><circle cx="1079.63" cy="203.5" r="1.95"/><circle cx="1077.87" cy="202.49" r="1.95"/><circle cx="1114.17" cy="206.03" r="1.95"/><circle cx="1106.53" cy="207.13" r="1.95"/><circle cx="1076.84" cy="195.7" r="1.95"/><circle cx="1092.65" cy="215.19" r="1.95"/><circle cx="1074.4" cy="215.89" r="1.95"/><circle cx="1094.08" cy="227.51" r="1.95"/><circle cx="1071.68" cy="207" r="1.95"/><circle cx="1076.99" cy="193.75" r="1.95"/><circle cx="1108.35" cy="212.28" r="1.95"/><circle cx="1081.96" cy="204.43" r="1.95"/><circle cx="1091.24" cy="183.67" r="1.95"/><circle cx="1049.41" cy="185.14" r="1.95"/><circle cx="1102.86" cy="204.38" r="1.95"/><circle cx="1094.27" cy="217.16" r="1.95"/><circle cx="1107.18" cy="217.07" r="1.95"/><circle cx="1065.79" cy="196.61" r="1.95"/><circle cx="1059.67" cy="196.74" r="1.95"/><circle cx="1071.32" cy="201.48" r="1.95"/><circle cx="1089.77" cy="213.1" r="1.95"/><circle cx="1140.5" cy="220.49" r="1.95"/><circle cx="1128.32" cy="217.08" r="1.95"/><circle cx="1094.33" cy="238.64" r="1.95"/><circle cx="1079.23" cy="193.37" r="1.95"/><circle cx="1113.84" cy="232.7" r="1.95"/><circle cx="1105.38" cy="227.29" r="1.95"/><circle cx="1099.66" cy="205.93" r="1.95"/><circle cx="1094.14" cy="199.56" r="1.95"/><circle cx="1092.34" cy="208.73" r="1.95"/><circle cx="1087.79" cy="218.11" r="1.95"/><circle cx="1103.26" cy="207.37" r="1.95"/><circle cx="1099" cy="197.72" r="1.95"/><circle cx="1102.16" cy="207.56" r="1.95"/><circle cx="1086.13" cy="202.58" r="1.95"/><circle cx="1089.58" cy="225.15" r="1.95"/><circle cx="1081.27" cy="204.3" r="1.95"/><circle cx="1102.93" cy="222.59" r="1.95"/><circle cx="1098.53" cy="228.89" r="1.95"/><circle cx="1075.34" cy="210.04" r="1.95"/><circle cx="1071.52" cy="236.78" r="1.95"/><circle cx="1077.88" cy="211.36" r="1.95"/><circle cx="1097.51" cy="215.63" r="1.95"/><circle cx="1055.35" cy="199.69" r="1.95"/><circle cx="1080.24" cy="209.06" r="1.95"/><circle cx="1108.52" cy="235.09" r="1.95"/><circle cx="1084.77" cy="209.82" r="1.95"/><circle cx="1119.92" cy="214.96" r="1.95"/><circle cx="1094.88" cy="209.52" r="1.95"/><circle cx="1097.31" cy="211.5" r="1.95"/><circle cx="1108.15" cy="221.14" r="1.95"/><circle cx="1098.66" cy="205.58" r="1.95"/><circle cx="1083.42" cy="189.71" r="1.95"/><circle cx="1069.15" cy="220.81" r="1.95"/><circle cx="1101.87" cy="216.92" r="1.95"/><circle cx="1080.38" cy="200.54" r="1.95"/><circle cx="1062.42" cy="198.19" r="1.95"/><circle cx="1100.96" cy="221" r="1.95"/><circle cx="1082.66" cy="219.07" r="1.95"/><circle cx="1102.79" cy="217.84" r="1.95"/><circle cx="1091.29" cy="211.48" r="1.95"/><circle cx="1095.47" cy="200.87" r="1.95"/><circle cx="1090.99" cy="213.62" r="1.95"/><circle cx="1087.32" cy="214.87" r="1.95"/><circle cx="1102.74" cy="227.84" r="1.95"/><circle cx="1115.97" cy="233.55" r="1.95"/><circle cx="1092.53" cy="192.92" r="1.95"/><circle cx="1071.49" cy="202.78" r="1.95"/><circle cx="1102.67" cy="229.49" r="1.95"/><circle cx="1102.46" cy="190.93" r="1.95"/><circle cx="1070.28" cy="197.08" r="1.95"/><circle cx="1089.6" cy="192.91" r="1.95"/><circle cx="1085.23" cy="186.72" r="1.95"/><circle cx="1100.51" cy="227.44" r="1.95"/><circle cx="1102.17" cy="221.59" r="1.95"/><circle cx="1090.12" cy="199.56" r="1.95"/><circle cx="1095.25" cy="186.91" r="1.95"/><circle cx="1071.36" cy="207.5" r="1.95"/><circle cx="1093.76" cy="226.63" r="1.95"/><circle cx="1109.11" cy="224.96" r="1.95"/><circle cx="1072.78" cy="211.01" r="1.95"/><circle cx="1088.11" cy="218.99" r="1.95"/><circle cx="1089.8" cy="205.99" r="1.95"/><circle cx="1105.63" cy="210.22" r="1.95"/><circle cx="1100.08" cy="207.47" r="1.95"/><circle cx="1074.86" cy="210.58" r="1.95"/><circle cx="1123.77" cy="229.81" r="1.95"/><circle cx="1078.16" cy="177.6" r="1.95"/><circle cx="1095.2" cy="218.27" r="1.95"/><circle cx="1127.34" cy="214.51" r="1.95"/><circle cx="1070.61" cy="204.53" r="1.95"/><circle cx="1110.34" cy="228.3" r="1.95"/><circle cx="1131.94" cy="235" r="1.95"/><circle cx="1133.57" cy="218.9" r="1.95"/><circle cx="1125.3" cy="234.51" r="1.95"/><circle cx="1139.22" cy="227.16" r="1.95"/><circle cx="1121.82" cy="217.84" r="1.95"/><circle cx="1138.29" cy="231.92" r="1.95"/><circle cx="1133.56" cy="218.04" r="1.95"/><circle cx="1130.6" cy="233.2" r="1.95"/><circle cx="1136.84" cy="221.02" r="1.95"/><circle cx="1144.14" cy="220.64" r="1.95"/><circle cx="1136.27" cy="222.16" r="1.95"/><circle cx="1151.76" cy="248.78" r="1.95"/><circle cx="1133.12" cy="227.06" r="1.95"/><circle cx="1152.56" cy="218.46" r="1.95"/><circle cx="1123.04" cy="227.77" r="1.95"/><circle cx="1128.94" cy="208.28" r="1.95"/><circle cx="1135.74" cy="221.01" r="1.95"/><circle cx="1125.71" cy="215.3" r="1.95"/><circle cx="1124.82" cy="230.05" r="1.95"/><circle cx="1129.27" cy="230.64" r="1.95"/></g>
</g>
<clipPath id="c3"><rect x="1242.4" y="16" width="322.9" height="281.8"/></clipPath>
<g clip-path="url(#c3)">
<g stroke="#1f77b4" stroke-opacity="0.32" stroke-width="1.3" fill="none"><path d="M1256.5 149.3h24M1268.5 103.3v92"/><path d="M1335.7 188h16M1343.7 142v92"/><path d="M1429.3 276.7h12M1435.3 246.7v60"/><path d="M1354 105.4h12M1360 87.4v36"/><path d="M1345.9 137.1h12M1351.9 122.1v30"/><path d="M1347.67 126.9h12.46M1353.9 121.32v11.16"/><path d="M1349.68 132.2h10.03M1354.7 120.74v22.91"/><path d="M1369.4 68.6h10M1374.4 53.6v30"/><path d="M1407 70.6h12M1413 62.6v16"/><path d="M1431 68.4h12M1437 60.4v16"/><path d="M1452.9 86.9h10M1457.9 80.9v12"/><path d="M1391.3 86.7h10M1396.3 71.7v30"/><path d="M1389.88 88.4h11.64M1395.7 78.76v19.29"/><path d="M1423.5 87.8h12M1429.5 77.8v20"/><path d="M1354.9 105.5h12M1360.9 85.5v40"/><path d="M1383 102.4h12M1389 87.4v30"/><path d="M1392.01 105.1h7.38M1395.7 94.66v20.87"/><path d="M1402.9 99.9h12M1408.9 84.9v30"/><path d="M1402.37 104h13.07M1408.9 96.05v15.89"/><path d="M1406.77 105.5h9.25M1411.4 93.86v23.28"/><path d="M1424.69 100.3h8.81M1429.1 88.81v22.99"/><path d="M1420.93 106.7h9.34M1425.6 100.06v13.28"/><path d="M1421.49 108.2h9.82M1426.4 102.58v11.24"/><path d="M1398.68 111.7h6.64M1402 102.4v18.6"/><path d="M1432.03 110.9h8.73M1436.4 97.87v26.05"/><path d="M1392.8 119.7h10M1397.8 99.7v40"/><path d="M1408.19 122.8h6.43M1411.4 114.34v16.93"/><path d="M1425.79 120.7h10.82M1431.2 110v21.4"/><path d="M1434.02 120.1h10.96M1439.5 109.33v21.54"/><path d="M1419.14 126.4h13.72M1426 119.16v14.48"/><path d="M1423.48 125.9h10.05M1428.5 120.15v11.51"/><path d="M1428.24 128h12.11M1434.3 117.52v20.97"/><path d="M1348.14 127h13.73M1355 120.85v12.31"/><path d="M1350.35 131.8h10.3M1355.5 124.12v15.36"/><path d="M1347.22 137.4h9.36M1351.9 123.12v28.56"/><path d="M1395.9 135.3h10M1400.9 115.3v40"/><path d="M1415.78 135.3h7.84M1419.7 128.97v12.65"/><path d="M1425.09 133.2h9.23M1429.7 125.49v15.42"/><path d="M1438.22 130.1h12.16M1444.3 117.97v24.26"/><path d="M1446.95 131.2h8.11M1451 117.81v26.78"/><path d="M1440.36 133.9h7.88M1444.3 128.27v11.27"/><path d="M1445.22 137.4h7.36M1448.9 126.63v21.54"/><path d="M1446.01 135.3h12.18M1452.1 123.13v24.35"/><path d="M1436.36 141h7.28M1440 132.07v17.86"/><path d="M1438.02 140.5h12.55M1444.3 129.16v22.68"/><path d="M1415.73 142.6h12.14M1421.8 136.07v13.05"/><path d="M1422.89 146.8h12.42M1429.1 140.09v13.42"/><path d="M1425.38 148.9h6.25M1428.5 139.1v19.6"/><path d="M1391.22 144.7h11.17M1396.8 133.36v22.68"/><path d="M1388.66 147.8h9.89M1393.6 140.98v13.65"/><path d="M1374.1 152.6h12M1380.1 137.6v30"/><path d="M1386.23 153.1h10.54M1391.5 143.36v19.48"/><path d="M1390.6 154.1h6.01M1393.6 146.47v15.26"/><path d="M1386.36 157.7h9.07M1390.9 145.38v24.65"/><path d="M1456.01 139.9h13.78M1462.9 125.12v29.56"/><path d="M1458.23 146.2h10.54M1463.5 137.67v17.06"/><path d="M1460.27 145.8h12.86M1466.7 132.8v26"/><path d="M1432.66 151.4h13.68M1439.5 143.85v15.1"/><path d="M1448.21 149.3h13.98M1455.2 138.37v21.85"/><path d="M1453.82 151h11.16M1459.4 143.66v14.69"/><path d="M1443.31 153.1h13.38M1450 146.65v12.89"/><path d="M1446.34 156.6h11.52M1452.1 142.34v28.53"/><path d="M1445.39 160.4h12.42M1451.6 153.27v14.27"/><path d="M1450.78 155.8h13.84M1457.7 142.39v26.82"/><path d="M1454.92 159.3h13.96M1461.9 146.29v26.01"/><path d="M1401.4 155.1h13.59M1408.2 147.92v14.36"/><path d="M1405.05 158.7h7.7M1408.9 151.31v14.78"/><path d="M1407.5 154.7h9.8M1412.4 147.9v13.59"/><path d="M1406.89 157.9h13.23M1413.5 144.56v26.68"/><path d="M1413.23 159.3h8.73M1417.6 151.74v15.12"/><path d="M1418.26 158.3h7.09M1421.8 151.23v14.14"/><path d="M1420.21 157.6h8.18M1424.3 149.46v16.28"/><path d="M1423.29 158.3h11.63M1429.1 152.7v11.2"/><path d="M1422.87 161.4h10.47M1428.1 148.31v26.19"/><path d="M1406.33 165.2h7.93M1410.3 153.88v22.65"/><path d="M1413.55 167.7h8.11M1417.6 153.75v27.89"/><path d="M1416.4 169.3h10M1421.4 160.63v17.34"/><path d="M1418.21 170.4h13.38M1424.9 160.26v20.27"/><path d="M1417.27 163.5h9.06M1421.8 156.63v13.74"/><path d="M1431.26 167.7h6.87M1434.7 159.57v16.26"/><path d="M1437.5 165.6h6.19M1440.6 151.93v27.34"/><path d="M1438.21 158.3h13.18M1444.8 144.89v26.82"/><path d="M1441.07 163.5h9.86M1446 154.97v17.07"/><path d="M1389 170.8h10M1394 152.8v36"/><path d="M1389.45 175.6h8.3M1393.6 169.23v12.74"/><path d="M1407.65 174.3h8.3M1411.8 166.2v16.19"/><path d="M1423.09 175.6h10.03M1428.1 168.7v13.8"/><path d="M1429.8 178.1h10.2M1434.9 168.12v19.96"/><path d="M1433.84 175.6h7.12M1437.4 164.82v21.57"/><path d="M1432.88 173.9h13.25M1439.5 161.35v25.1"/><path d="M1411.43 181.2h10.33M1416.6 173.73v14.94"/><path d="M1411.73 184.4h11.73M1417.6 177.01v14.78"/><path d="M1416.41 179.8h12.79M1422.8 172.03v15.55"/><path d="M1426.33 181.9h7.55M1430.1 169.12v25.57"/><path d="M1436.76 183.9h7.69M1440.6 176.11v15.59"/><path d="M1370.3 182.9h12M1376.3 172.9v20"/><path d="M1338.41 187.9h11.57M1344.2 179.07v17.66"/><path d="M1393.22 183.9h9.15M1397.8 169.75v28.3"/><path d="M1391.33 187.5h12.94M1397.8 172.58v29.84"/><path d="M1414.87 188.5h10.47M1420.1 179.72v17.56"/><path d="M1417.44 192.7h10.72M1422.8 183.61v18.18"/><path d="M1453.54 164.5h13.73M1460.4 156.86v15.27"/><path d="M1455.09 169.8h12.61M1461.4 156.93v25.74"/><path d="M1457.28 175h8.23M1461.4 162.2v25.6"/><path d="M1459.83 169.8h11.54M1465.6 156.83v25.94"/><path d="M1461.63 173.9h10.13M1466.7 167.47v12.85"/><path d="M1452.77 194.4h9.86M1457.7 179.85v29.1"/><path d="M1460.07 191h13.26M1466.7 182.81v16.39"/><path d="M1469.91 122.4h11.19M1475.5 117.11v10.58"/><path d="M1472.02 129.3h11.76M1477.9 118.47v21.65"/><path d="M1475.05 127.8h9.11M1479.6 120.09v15.43"/><path d="M1459.87 139.6h6.66M1463.2 132.21v14.77"/><path d="M1462.19 145.7h9.43M1466.9 136.45v18.49"/><path d="M1459.58 145.7h7.23M1463.2 133.75v23.9"/><path d="M1483.96 146.9h6.08M1487 140.11v13.57"/><path d="M1488.46 163.6h8.27M1492.6 156.83v13.53"/><path d="M1490.55 168.4h12.5M1496.8 153.88v29.03"/><path d="M1501.72 178.7h9.76M1506.6 170.35v16.7"/><path d="M1497.73 185.6h12.75M1504.1 173.03v25.15"/><path d="M1523.7 186.1h11.2M1529.3 171.87v28.47"/><path d="M1522.8 189h6.59M1526.1 178.08v21.84"/><path d="M1533.83 189.7h8.14M1537.9 175.03v29.34"/><path d="M1515.04 189.7h6.52M1518.3 175.85v27.69"/><path d="M1530.74 210h13.33M1537.4 204.43v11.15"/><path d="M1524.46 213h13.08M1531 202.94v20.12"/><path d="M1523.9 222.8h13.2M1530.5 213.12v19.37"/><path d="M1519.98 220.3h13.83M1526.9 212.14v16.31"/><path d="M1526.23 216.6h7.54M1530 205.27v22.65"/><path d="M1510.9 219.8h13.8M1517.8 212.25v15.11"/><path d="M1510.15 232.6h11.49M1515.9 224.95v15.3"/><path d="M1515.01 232.6h8.98M1519.5 221.46v22.29"/><path d="M1504.92 237.4h12.16M1511 227.45v19.9"/><path d="M1501.78 233.8h13.44M1508.5 222.26v23.09"/><path d="M1498.56 239.4h6.28M1501.7 228.25v22.3"/><path d="M1531.06 238.7h6.28M1534.2 231.29v14.83"/><path d="M1527.86 241.1h10.28M1533 232.01v18.18"/><path d="M1526.06 245.3h11.49M1531.8 236.22v18.16"/><path d="M1531.16 248.5h12.48M1537.4 237.97v21.06"/><path d="M1533.03 260.2h10.74M1538.4 249.05v22.29"/><path d="M1503.5 255.3h10M1508.5 240.3v30"/><path d="M1506 259h10M1511 244v30"/><path d="M1503.5 261.9h10M1508.5 246.9v30"/><path d="M1481.99 235.7h10.02M1487 225.37v20.65"/><path d="M1457.28 233h6.05M1460.3 226.51v12.98"/><path d="M1439.45 211.8h8.5M1443.7 204.52v14.57"/><path d="M1436.23 184.1h7.54M1440 172.18v23.85"/><path d="M1453.63 193.4h9.54M1458.4 186.78v13.23"/><path d="M1450.98 200.3h11.24M1456.6 193.54v13.53"/><path d="M1450.5 206.9h8.4M1454.7 199.89v14.01"/><path d="M1447.79 211.8h11.42M1453.5 201.76v20.08"/><path d="M1454.05 211.8h6.11M1457.1 199.74v24.12"/><path d="M1455.88 216.6h7.44M1459.6 208.99v15.23"/><path d="M1455.39 222.8h6.82M1458.8 211.84v21.92"/><path d="M1456.77 224h10.45M1462 216.49v15.03"/><path d="M1469.72 227.7h13.96M1476.7 218.71v17.98"/><path d="M1471.97 231.3h7.07M1475.5 218.29v26.02"/><path d="M1487.55 227.7h10.1M1492.6 218.05v19.31"/><path d="M1488.38 228.1h10.85M1493.8 218.36v19.47"/><path d="M1480.57 224h9.46M1485.3 218.56v10.87"/><path d="M1482.71 225.2h12.38M1488.9 214.7v21.01"/><path d="M1475.75 225.2h11.71M1481.6 219.61v11.17"/><path d="M1440.01 129.8h9.78M1444.9 121.38v16.85"/><path d="M1445.9 131h10.21M1451 119.05v23.9"/><path d="M1439.67 134.7h8.05M1443.7 122.35v24.69"/><path d="M1442.82 137.1h11.57M1448.6 131.39v11.42"/><path d="M1446.27 136.6h12.87M1452.7 125.35v22.51"/><path d="M1440.82 140.8h8.15M1444.9 126.87v27.86"/><path d="M1447.12 140.8h6.35M1450.3 130.06v21.49"/><path d="M1448.29 148.9h12.82M1454.7 136.65v24.5"/><path d="M1452.45 150.6h13.3M1459.1 140.74v19.71"/><path d="M1443.14 153h13.31M1449.8 147.54v10.92"/><path d="M1445.9 156.7h12.61M1452.2 149.78v13.84"/><path d="M1451.51 155.5h11.18M1457.1 140.58v29.83"/><path d="M1455.81 159.1h9.99M1460.8 145.64v26.92"/><path d="M1466.07 151.8h11.45M1471.8 138.35v26.91"/><path d="M1472.48 151.8h6.03M1475.5 141.94v19.73"/><path d="M1473.5 153h11.2M1479.1 140.75v24.51"/><path d="M1469.95 156.7h13.51M1476.7 149.89v13.62"/><path d="M1475.3 156.7h10.19M1480.4 145.48v22.44"/><path d="M1466 162.8h9.19M1470.6 148.62v28.36"/><path d="M1471.68 162.8h10.03M1476.7 157.06v11.48"/><path d="M1473.53 166.5h11.13M1479.1 154.05v24.9"/><path d="M1466 166.5h11.59M1471.8 156.61v19.78"/><path d="M1478.73 157.2h9.74M1483.6 143.66v27.08"/><path d="M1453.79 164h11.62M1459.6 151.95v24.1"/><path d="M1458.23 167.7h12.55M1464.5 161.67v12.07"/><path d="M1455 170.2h11.6M1460.8 156.65v27.11"/><path d="M1457.27 171.4h11.87M1463.2 156.96v28.88"/><path d="M1462.32 172.6h9.16M1466.9 160.04v25.12"/><path d="M1441.24 167.7h12.12M1447.3 155.23v24.94"/><path d="M1478.94 175.1h10.11M1484 165.28v19.64"/><path d="M1462.71 177.5h13.37M1469.4 170.31v14.38"/><path d="M1462.63 180h8.54M1466.9 173.31v13.38"/><path d="M1460.02 189.7h12.76M1466.4 176.34v26.71"/><path d="M1462.97 191h8.85M1467.4 182v18"/><path d="M1499.08 194.51h9.45M1503.81 180v29.02"/><path d="M1483.81 206.24h8.94M1488.28 197.71v17.06"/><path d="M1508.11 217.27h10.42M1513.32 205.23v24.07"/><path d="M1504.43 203.59h8.22M1508.54 192.21v22.76"/><path d="M1491.46 193.27h6.43M1494.68 180.38v25.77"/><path d="M1490.49 210.5h13.74M1497.36 204.35v12.29"/><path d="M1506.25 204.96h7.65M1510.07 190.82v28.28"/><path d="M1487.19 184.5h6.32M1490.35 172.68v23.65"/><path d="M1477.55 209.91h9.41M1482.25 196.89v26.04"/><path d="M1445 211.36h13.5M1451.75 200.31v22.1"/><path d="M1499.56 210.29h10.31M1504.72 197.01v26.56"/><path d="M1525.81 206.99h6.01M1528.81 192.92v28.13"/><path d="M1482.44 204.43h11.61M1488.24 190.05v28.76"/><path d="M1487.6 218.63h11.03M1493.12 207.58v22.1"/><path d="M1477.17 216.7h13.37M1483.85 206.19v21.03"/><path d="M1503.77 217.21h11.96M1509.75 211.44v11.55"/><path d="M1507.88 199.22h7.72M1511.74 191.99v14.46"/><path d="M1524.82 215.47h12.55M1531.09 206.33v18.29"/><path d="M1508.13 206.45h6.03M1511.15 193.15v26.59"/><path d="M1493.56 201.31h8.55M1497.84 195.51v11.6"/><path d="M1468.38 203.13h11.06M1473.9 189.71v26.85"/><path d="M1502.83 200.23h9.36M1507.51 193.71v13.04"/><path d="M1474.1 202.51h11.57M1479.88 194.48v16.08"/><path d="M1474.86 217.03h7.2M1478.46 209.67v14.73"/><path d="M1465.87 202.27h6.97M1469.36 193.17v18.21"/><path d="M1474.19 209.67h6.55M1477.47 197.81v23.72"/><path d="M1487.04 200.58h10.29M1492.19 187.31v26.55"/><path d="M1492.58 205.75h8.54M1496.85 198.54v14.43"/><path d="M1512.03 196.75h12M1518.03 191.62v10.27"/><path d="M1492.93 202.02h7.48M1496.67 192.38v19.29"/><path d="M1478.62 202.68h12.9M1485.07 190.38v24.61"/><path d="M1503.02 205.92h9.77M1507.9 197.26v17.33"/><path d="M1483.08 209.5h13.24M1489.7 203.25v12.49"/><path d="M1494.35 207.53h12.33M1500.52 193.84v27.38"/><path d="M1487.09 212.24h8.24M1491.21 202.92v18.63"/><path d="M1479.14 202.37h11.92M1485.1 190.02v24.7"/><path d="M1489.39 185.57h12.24M1495.51 176.71v17.73"/><path d="M1504 207.96h13.56M1510.78 196.35v23.23"/><path d="M1493.7 204.2h12.29M1499.84 196.39v15.61"/><path d="M1484.7 216.25h12.67M1491.04 204.17v24.16"/><path d="M1494.43 206.93h9.49M1499.18 195.74v22.38"/><path d="M1471.61 209.88h13.18M1478.2 199.79v20.18"/><path d="M1503.84 214.28h9.17M1508.43 206.42v15.72"/><path d="M1522.08 217.06h11.59M1527.88 202.34v29.45"/><path d="M1481.58 197.18h13.37M1488.27 186.04v22.29"/><path d="M1523.54 194.56h9.87M1528.48 187.44v14.24"/><path d="M1469.23 222.48h9.35M1473.91 213.53v17.89"/><path d="M1500.2 222.21h6.01M1503.21 208.54v27.34"/><path d="M1500.23 212.3h8.2M1504.33 203.03v18.53"/><path d="M1463.16 199.6h9.86M1468.08 187.85v23.49"/><path d="M1518.46 210.09h10.67M1523.8 204.34v11.5"/><path d="M1518.54 204.64h9.84M1523.46 197.54v14.2"/><path d="M1452.62 204.78h11.58M1458.41 198.92v11.72"/><path d="M1475.99 225.66h6.86M1479.42 214.39v22.54"/><path d="M1511.96 196.99h11.07M1517.5 191.61v10.75"/><path d="M1489.82 213.47h8.08M1493.86 201.84v23.25"/><path d="M1492.17 208.5h6.42M1495.38 199.38v18.24"/><path d="M1469.53 211.78h8.53M1473.79 198.78v26"/><path d="M1528.83 198.76h13.53M1535.6 189.98v17.56"/><path d="M1454.7 212.92h7.34M1458.37 198.93v27.98"/><path d="M1500.89 199.95h6.03M1503.91 189.66v20.57"/><path d="M1496.7 212.48h9.07M1501.24 203.41v18.12"/><path d="M1489.7 193.13h12.44M1495.92 180.35v25.56"/><path d="M1477.47 211.89h9.04M1481.99 201.65v20.49"/><path d="M1464.56 208.25h13.33M1471.22 199.67v17.15"/><path d="M1479.63 204.8h10.56M1484.91 193.98v21.64"/><path d="M1483.65 198.2h7.1M1487.2 189.69v17.01"/><path d="M1488.29 212.72h13.41M1494.99 200.7v24.04"/><path d="M1489.61 214.58h9.97M1494.59 205.51v18.15"/><path d="M1482.96 208.83h13.39M1489.66 195.23v27.19"/><path d="M1474.71 202.62h10.78M1480.1 192.22v20.79"/><path d="M1469.61 217.03h8.05M1473.64 208.38v17.29"/><path d="M1508.26 194.41h7.6M1512.06 186.07v16.68"/><path d="M1479.35 206.35h11.92M1485.31 195.14v22.41"/><path d="M1481.46 213.07h7.5M1485.2 206.13v13.88"/><path d="M1468.11 202.07h12.73M1474.47 189.07v26.01"/><path d="M1489.76 195.25h7.89M1493.7 185.84v18.82"/><path d="M1518.64 197.37h11.96M1524.62 183.52v27.69"/><path d="M1498.33 201.11h13.26M1504.96 186.38v29.45"/><path d="M1468.56 200.6h12.66M1474.9 187.55v26.11"/><path d="M1472.49 195.57h12.96M1478.97 186.16v18.81"/><path d="M1455.83 191.8h10.78M1461.22 186.52v10.56"/><path d="M1458.54 208.09h6.27M1461.67 194.21v27.76"/><path d="M1472.17 197.1h13.1M1478.72 183.07v28.07"/><path d="M1452.35 195.44h7.66M1456.18 186.48v17.91"/><path d="M1461.62 201.7h13.81M1468.53 190.32v22.75"/><path d="M1460.27 196.39h12.84M1466.69 182.06v28.65"/><path d="M1465.9 196.49h12.34M1472.07 188.44v16.1"/><path d="M1462.52 203.72h8.45M1466.74 189.42v28.6"/><path d="M1465.73 202.6h7.33M1469.39 190.42v24.35"/><path d="M1456.07 189.38h13.2M1462.66 178.48v21.8"/><path d="M1453.24 183.91h10.7M1458.6 169.91v28"/><path d="M1465.35 182.16h10.23M1470.47 176.02v12.27"/><path d="M1458.46 179.57h12.03M1464.48 165v29.15"/><path d="M1455.7 206.79h7.33M1459.36 201.66v10.26"/><path d="M1469.32 199.39h7.8M1473.22 186.56v25.68"/><path d="M1453.71 183.82h8.9M1458.16 177.32v13"/><path d="M1459.72 198.1h12.15M1465.79 183.71v28.77"/><path d="M1459.14 186.54h10.51M1464.39 174.57v23.95"/><path d="M1479.2 189.75h9.57M1483.99 179.73v20.04"/></g>
<path d="M1268.8 4.1 L1275.54 10.17 L1282.27 16.23 L1289.01 22.3 L1295.75 28.36 L1302.49 34.43 L1309.22 40.49 L1315.96 46.55 L1322.7 52.6 L1329.44 58.66 L1336.17 64.71 L1342.91 70.75 L1349.65 76.8 L1356.39 82.83 L1363.12 88.87 L1369.86 94.89 L1376.6 100.91 L1383.34 106.92 L1390.08 112.92 L1396.81 118.91 L1403.55 124.88 L1410.29 130.84 L1417.02 136.77 L1423.76 142.67 L1430.5 148.55 L1437.24 154.39 L1443.97 160.18 L1450.71 165.93 L1457.45 171.63 L1464.19 177.27 L1470.92 182.86 L1477.66 188.4 L1484.4 193.89 L1491.14 199.34 L1497.88 204.76 L1504.61 210.15 L1511.35 215.52 L1518.09 220.86 L1524.82 226.19 L1531.56 231.5 L1538.3 236.8 L1538.3 249 L1531.56 243.01 L1524.82 237.02 L1518.09 231.06 L1511.35 225.1 L1504.61 219.17 L1497.88 213.27 L1491.14 207.39 L1484.4 201.55 L1477.66 195.75 L1470.92 189.99 L1464.19 184.29 L1457.45 178.63 L1450.71 173.03 L1443.97 167.49 L1437.24 161.99 L1430.5 156.53 L1423.76 151.11 L1417.02 145.72 L1410.29 140.36 L1403.55 135.02 L1396.81 129.7 L1390.08 124.39 L1383.34 119.09 L1376.6 113.81 L1369.86 108.53 L1363.12 103.26 L1356.39 98 L1349.65 92.74 L1342.91 87.49 L1336.17 82.24 L1329.44 77 L1322.7 71.76 L1315.96 66.52 L1309.22 61.28 L1302.49 56.05 L1295.75 50.82 L1289.01 45.58 L1282.27 40.36 L1275.54 35.13 L1268.8 29.9 Z" fill="#2ca02c" fill-opacity="0.4" stroke="none"/>
<path d="M1268.8 17L1538.3 242.9" stroke="#2ca02c" stroke-width="3.2" stroke-dasharray="10 4.4" fill="none"/>
<g fill="#2ca02c" stroke="#000" stroke-width="0.6"><circle cx="1268.5" cy="149.3" r="1.95"/><circle cx="1343.7" cy="188" r="1.95"/><circle cx="1435.3" cy="276.7" r="1.95"/><circle cx="1360" cy="105.4" r="1.95"/><circle cx="1351.9" cy="137.1" r="1.95"/><circle cx="1353.9" cy="126.9" r="1.95"/><circle cx="1354.7" cy="132.2" r="1.95"/><circle cx="1374.4" cy="68.6" r="1.95"/><circle cx="1413" cy="70.6" r="1.95"/><circle cx="1437" cy="68.4" r="1.95"/><circle cx="1457.9" cy="86.9" r="1.95"/><circle cx="1396.3" cy="86.7" r="1.95"/><circle cx="1395.7" cy="88.4" r="1.95"/><circle cx="1429.5" cy="87.8" r="1.95"/><circle cx="1360.9" cy="105.5" r="1.95"/><circle cx="1389" cy="102.4" r="1.95"/><circle cx="1395.7" cy="105.1" r="1.95"/><circle cx="1408.9" cy="99.9" r="1.95"/><circle cx="1408.9" cy="104" r="1.95"/><circle cx="1411.4" cy="105.5" r="1.95"/><circle cx="1429.1" cy="100.3" r="1.95"/><circle cx="1425.6" cy="106.7" r="1.95"/><circle cx="1426.4" cy="108.2" r="1.95"/><circle cx="1402" cy="111.7" r="1.95"/><circle cx="1436.4" cy="110.9" r="1.95"/><circle cx="1397.8" cy="119.7" r="1.95"/><circle cx="1411.4" cy="122.8" r="1.95"/><circle cx="1431.2" cy="120.7" r="1.95"/><circle cx="1439.5" cy="120.1" r="1.95"/><circle cx="1426" cy="126.4" r="1.95"/><circle cx="1428.5" cy="125.9" r="1.95"/><circle cx="1434.3" cy="128" r="1.95"/><circle cx="1355" cy="127" r="1.95"/><circle cx="1355.5" cy="131.8" r="1.95"/><circle cx="1351.9" cy="137.4" r="1.95"/><circle cx="1400.9" cy="135.3" r="1.95"/><circle cx="1419.7" cy="135.3" r="1.95"/><circle cx="1429.7" cy="133.2" r="1.95"/><circle cx="1444.3" cy="130.1" r="1.95"/><circle cx="1451" cy="131.2" r="1.95"/><circle cx="1444.3" cy="133.9" r="1.95"/><circle cx="1448.9" cy="137.4" r="1.95"/><circle cx="1452.1" cy="135.3" r="1.95"/><circle cx="1440" cy="141" r="1.95"/><circle cx="1444.3" cy="140.5" r="1.95"/><circle cx="1421.8" cy="142.6" r="1.95"/><circle cx="1429.1" cy="146.8" r="1.95"/><circle cx="1428.5" cy="148.9" r="1.95"/><circle cx="1396.8" cy="144.7" r="1.95"/><circle cx="1393.6" cy="147.8" r="1.95"/><circle cx="1380.1" cy="152.6" r="1.95"/><circle cx="1391.5" cy="153.1" r="1.95"/><circle cx="1393.6" cy="154.1" r="1.95"/><circle cx="1390.9" cy="157.7" r="1.95"/><circle cx="1462.9" cy="139.9" r="1.95"/><circle cx="1463.5" cy="146.2" r="1.95"/><circle cx="1466.7" cy="145.8" r="1.95"/><circle cx="1439.5" cy="151.4" r="1.95"/><circle cx="1455.2" cy="149.3" r="1.95"/><circle cx="1459.4" cy="151" r="1.95"/><circle cx="1450" cy="153.1" r="1.95"/><circle cx="1452.1" cy="156.6" r="1.95"/><circle cx="1451.6" cy="160.4" r="1.95"/><circle cx="1457.7" cy="155.8" r="1.95"/><circle cx="1461.9" cy="159.3" r="1.95"/><circle cx="1408.2" cy="155.1" r="1.95"/><circle cx="1408.9" cy="158.7" r="1.95"/><circle cx="1412.4" cy="154.7" r="1.95"/><circle cx="1413.5" cy="157.9" r="1.95"/><circle cx="1417.6" cy="159.3" r="1.95"/><circle cx="1421.8" cy="158.3" r="1.95"/><circle cx="1424.3" cy="157.6" r="1.95"/><circle cx="1429.1" cy="158.3" r="1.95"/><circle cx="1428.1" cy="161.4" r="1.95"/><circle cx="1410.3" cy="165.2" r="1.95"/><circle cx="1417.6" cy="167.7" r="1.95"/><circle cx="1421.4" cy="169.3" r="1.95"/><circle cx="1424.9" cy="170.4" r="1.95"/><circle cx="1421.8" cy="163.5" r="1.95"/><circle cx="1434.7" cy="167.7" r="1.95"/><circle cx="1440.6" cy="165.6" r="1.95"/><circle cx="1444.8" cy="158.3" r="1.95"/><circle cx="1446" cy="163.5" r="1.95"/><circle cx="1394" cy="170.8" r="1.95"/><circle cx="1393.6" cy="175.6" r="1.95"/><circle cx="1411.8" cy="174.3" r="1.95"/><circle cx="1428.1" cy="175.6" r="1.95"/><circle cx="1434.9" cy="178.1" r="1.95"/><circle cx="1437.4" cy="175.6" r="1.95"/><circle cx="1439.5" cy="173.9" r="1.95"/><circle cx="1416.6" cy="181.2" r="1.95"/><circle cx="1417.6" cy="184.4" r="1.95"/><circle cx="1422.8" cy="179.8" r="1.95"/><circle cx="1430.1" cy="181.9" r="1.95"/><circle cx="1440.6" cy="183.9" r="1.95"/><circle cx="1376.3" cy="182.9" r="1.95"/><circle cx="1344.2" cy="187.9" r="1.95"/><circle cx="1397.8" cy="183.9" r="1.95"/><circle cx="1397.8" cy="187.5" r="1.95"/><circle cx="1420.1" cy="188.5" r="1.95"/><circle cx="1422.8" cy="192.7" r="1.95"/><circle cx="1460.4" cy="164.5" r="1.95"/><circle cx="1461.4" cy="169.8" r="1.95"/><circle cx="1461.4" cy="175" r="1.95"/><circle cx="1465.6" cy="169.8" r="1.95"/><circle cx="1466.7" cy="173.9" r="1.95"/><circle cx="1457.7" cy="194.4" r="1.95"/><circle cx="1466.7" cy="191" r="1.95"/><circle cx="1475.5" cy="122.4" r="1.95"/><circle cx="1477.9" cy="129.3" r="1.95"/><circle cx="1479.6" cy="127.8" r="1.95"/><circle cx="1463.2" cy="139.6" r="1.95"/><circle cx="1466.9" cy="145.7" r="1.95"/><circle cx="1463.2" cy="145.7" r="1.95"/><circle cx="1487" cy="146.9" r="1.95"/><circle cx="1492.6" cy="163.6" r="1.95"/><circle cx="1496.8" cy="168.4" r="1.95"/><circle cx="1506.6" cy="178.7" r="1.95"/><circle cx="1504.1" cy="185.6" r="1.95"/><circle cx="1529.3" cy="186.1" r="1.95"/><circle cx="1526.1" cy="189" r="1.95"/><circle cx="1537.9" cy="189.7" r="1.95"/><circle cx="1518.3" cy="189.7" r="1.95"/><circle cx="1537.4" cy="210" r="1.95"/><circle cx="1531" cy="213" r="1.95"/><circle cx="1530.5" cy="222.8" r="1.95"/><circle cx="1526.9" cy="220.3" r="1.95"/><circle cx="1530" cy="216.6" r="1.95"/><circle cx="1517.8" cy="219.8" r="1.95"/><circle cx="1515.9" cy="232.6" r="1.95"/><circle cx="1519.5" cy="232.6" r="1.95"/><circle cx="1511" cy="237.4" r="1.95"/><circle cx="1508.5" cy="233.8" r="1.95"/><circle cx="1501.7" cy="239.4" r="1.95"/><circle cx="1534.2" cy="238.7" r="1.95"/><circle cx="1533" cy="241.1" r="1.95"/><circle cx="1531.8" cy="245.3" r="1.95"/><circle cx="1537.4" cy="248.5" r="1.95"/><circle cx="1538.4" cy="260.2" r="1.95"/><circle cx="1508.5" cy="255.3" r="1.95"/><circle cx="1511" cy="259" r="1.95"/><circle cx="1508.5" cy="261.9" r="1.95"/><circle cx="1487" cy="235.7" r="1.95"/><circle cx="1460.3" cy="233" r="1.95"/><circle cx="1443.7" cy="211.8" r="1.95"/><circle cx="1440" cy="184.1" r="1.95"/><circle cx="1458.4" cy="193.4" r="1.95"/><circle cx="1456.6" cy="200.3" r="1.95"/><circle cx="1454.7" cy="206.9" r="1.95"/><circle cx="1453.5" cy="211.8" r="1.95"/><circle cx="1457.1" cy="211.8" r="1.95"/><circle cx="1459.6" cy="216.6" r="1.95"/><circle cx="1458.8" cy="222.8" r="1.95"/><circle cx="1462" cy="224" r="1.95"/><circle cx="1476.7" cy="227.7" r="1.95"/><circle cx="1475.5" cy="231.3" r="1.95"/><circle cx="1492.6" cy="227.7" r="1.95"/><circle cx="1493.8" cy="228.1" r="1.95"/><circle cx="1485.3" cy="224" r="1.95"/><circle cx="1488.9" cy="225.2" r="1.95"/><circle cx="1481.6" cy="225.2" r="1.95"/><circle cx="1444.9" cy="129.8" r="1.95"/><circle cx="1451" cy="131" r="1.95"/><circle cx="1443.7" cy="134.7" r="1.95"/><circle cx="1448.6" cy="137.1" r="1.95"/><circle cx="1452.7" cy="136.6" r="1.95"/><circle cx="1444.9" cy="140.8" r="1.95"/><circle cx="1450.3" cy="140.8" r="1.95"/><circle cx="1454.7" cy="148.9" r="1.95"/><circle cx="1459.1" cy="150.6" r="1.95"/><circle cx="1449.8" cy="153" r="1.95"/><circle cx="1452.2" cy="156.7" r="1.95"/><circle cx="1457.1" cy="155.5" r="1.95"/><circle cx="1460.8" cy="159.1" r="1.95"/><circle cx="1471.8" cy="151.8" r="1.95"/><circle cx="1475.5" cy="151.8" r="1.95"/><circle cx="1479.1" cy="153" r="1.95"/><circle cx="1476.7" cy="156.7" r="1.95"/><circle cx="1480.4" cy="156.7" r="1.95"/><circle cx="1470.6" cy="162.8" r="1.95"/><circle cx="1476.7" cy="162.8" r="1.95"/><circle cx="1479.1" cy="166.5" r="1.95"/><circle cx="1471.8" cy="166.5" r="1.95"/><circle cx="1483.6" cy="157.2" r="1.95"/><circle cx="1459.6" cy="164" r="1.95"/><circle cx="1464.5" cy="167.7" r="1.95"/><circle cx="1460.8" cy="170.2" r="1.95"/><circle cx="1463.2" cy="171.4" r="1.95"/><circle cx="1466.9" cy="172.6" r="1.95"/><circle cx="1447.3" cy="167.7" r="1.95"/><circle cx="1484" cy="175.1" r="1.95"/><circle cx="1469.4" cy="177.5" r="1.95"/><circle cx="1466.9" cy="180" r="1.95"/><circle cx="1466.4" cy="189.7" r="1.95"/><circle cx="1467.4" cy="191" r="1.95"/><circle cx="1503.81" cy="194.51" r="1.95"/><circle cx="1488.28" cy="206.24" r="1.95"/><circle cx="1513.32" cy="217.27" r="1.95"/><circle cx="1508.54" cy="203.59" r="1.95"/><circle cx="1494.68" cy="193.27" r="1.95"/><circle cx="1497.36" cy="210.5" r="1.95"/><circle cx="1510.07" cy="204.96" r="1.95"/><circle cx="1490.35" cy="184.5" r="1.95"/><circle cx="1482.25" cy="209.91" r="1.95"/><circle cx="1451.75" cy="211.36" r="1.95"/><circle cx="1504.72" cy="210.29" r="1.95"/><circle cx="1528.81" cy="206.99" r="1.95"/><circle cx="1488.24" cy="204.43" r="1.95"/><circle cx="1493.12" cy="218.63" r="1.95"/><circle cx="1483.85" cy="216.7" r="1.95"/><circle cx="1509.75" cy="217.21" r="1.95"/><circle cx="1511.74" cy="199.22" r="1.95"/><circle cx="1531.09" cy="215.47" r="1.95"/><circle cx="1511.15" cy="206.45" r="1.95"/><circle cx="1497.84" cy="201.31" r="1.95"/><circle cx="1473.9" cy="203.13" r="1.95"/><circle cx="1507.51" cy="200.23" r="1.95"/><circle cx="1479.88" cy="202.51" r="1.95"/><circle cx="1478.46" cy="217.03" r="1.95"/><circle cx="1469.36" cy="202.27" r="1.95"/><circle cx="1477.47" cy="209.67" r="1.95"/><circle cx="1492.19" cy="200.58" r="1.95"/><circle cx="1496.85" cy="205.75" r="1.95"/><circle cx="1518.03" cy="196.75" r="1.95"/><circle cx="1496.67" cy="202.02" r="1.95"/><circle cx="1485.07" cy="202.68" r="1.95"/><circle cx="1507.9" cy="205.92" r="1.95"/><circle cx="1489.7" cy="209.5" r="1.95"/><circle cx="1500.52" cy="207.53" r="1.95"/><circle cx="1491.21" cy="212.24" r="1.95"/><circle cx="1485.1" cy="202.37" r="1.95"/><circle cx="1495.51" cy="185.57" r="1.95"/><circle cx="1510.78" cy="207.96" r="1.95"/><circle cx="1499.84" cy="204.2" r="1.95"/><circle cx="1491.04" cy="216.25" r="1.95"/><circle cx="1499.18" cy="206.93" r="1.95"/><circle cx="1478.2" cy="209.88" r="1.95"/><circle cx="1508.43" cy="214.28" r="1.95"/><circle cx="1527.88" cy="217.06" r="1.95"/><circle cx="1488.27" cy="197.18" r="1.95"/><circle cx="1528.48" cy="194.56" r="1.95"/><circle cx="1473.91" cy="222.48" r="1.95"/><circle cx="1503.21" cy="222.21" r="1.95"/><circle cx="1504.33" cy="212.3" r="1.95"/><circle cx="1468.08" cy="199.6" r="1.95"/><circle cx="1523.8" cy="210.09" r="1.95"/><circle cx="1523.46" cy="204.64" r="1.95"/><circle cx="1458.41" cy="204.78" r="1.95"/><circle cx="1479.42" cy="225.66" r="1.95"/><circle cx="1517.5" cy="196.99" r="1.95"/><circle cx="1493.86" cy="213.47" r="1.95"/><circle cx="1495.38" cy="208.5" r="1.95"/><circle cx="1473.79" cy="211.78" r="1.95"/><circle cx="1535.6" cy="198.76" r="1.95"/><circle cx="1458.37" cy="212.92" r="1.95"/><circle cx="1503.91" cy="199.95" r="1.95"/><circle cx="1501.24" cy="212.48" r="1.95"/><circle cx="1495.92" cy="193.13" r="1.95"/><circle cx="1481.99" cy="211.89" r="1.95"/><circle cx="1471.22" cy="208.25" r="1.95"/><circle cx="1484.91" cy="204.8" r="1.95"/><circle cx="1487.2" cy="198.2" r="1.95"/><circle cx="1494.99" cy="212.72" r="1.95"/><circle cx="1494.59" cy="214.58" r="1.95"/><circle cx="1489.66" cy="208.83" r="1.95"/><circle cx="1480.1" cy="202.62" r="1.95"/><circle cx="1473.64" cy="217.03" r="1.95"/><circle cx="1512.06" cy="194.41" r="1.95"/><circle cx="1485.31" cy="206.35" r="1.95"/><circle cx="1485.2" cy="213.07" r="1.95"/><circle cx="1474.47" cy="202.07" r="1.95"/><circle cx="1493.7" cy="195.25" r="1.95"/><circle cx="1524.62" cy="197.37" r="1.95"/><circle cx="1504.96" cy="201.11" r="1.95"/><circle cx="1474.9" cy="200.6" r="1.95"/><circle cx="1478.97" cy="195.57" r="1.95"/><circle cx="1461.22" cy="191.8" r="1.95"/><circle cx="1461.67" cy="208.09" r="1.95"/><circle cx="1478.72" cy="197.1" r="1.95"/><circle cx="1456.18" cy="195.44" r="1.95"/><circle cx="1468.53" cy="201.7" r="1.95"/><circle cx="1466.69" cy="196.39" r="1.95"/><circle cx="1472.07" cy="196.49" r="1.95"/><circle cx="1466.74" cy="203.72" r="1.95"/><circle cx="1469.39" cy="202.6" r="1.95"/><circle cx="1462.66" cy="189.38" r="1.95"/><circle cx="1458.6" cy="183.91" r="1.95"/><circle cx="1470.47" cy="182.16" r="1.95"/><circle cx="1464.48" cy="179.57" r="1.95"/><circle cx="1459.36" cy="206.79" r="1.95"/><circle cx="1473.22" cy="199.39" r="1.95"/><circle cx="1458.16" cy="183.82" r="1.95"/><circle cx="1465.79" cy="198.1" r="1.95"/><circle cx="1464.39" cy="186.54" r="1.95"/><circle cx="1483.99" cy="189.75" r="1.95"/></g>
</g>
<clipPath id="c4"><rect x="89" y="340" width="322.9" height="282"/></clipPath>
<g clip-path="url(#c4)">
<g stroke="#1f77b4" stroke-opacity="0.32" stroke-width="1.3" fill="none"><path d="M95.7 487.1h40M115.7 475.1v24"/><path d="M124.82 403.4h35.16M142.4 388.46v29.88"/><path d="M139.11 407.4h25.78M152 380.6v53.6"/><path d="M129.4 412.4h34.59M146.7 397.29v30.22"/><path d="M146.01 414.6h24.97M158.5 402.17v24.86"/><path d="M141.34 418.2h34.32M158.5 395.91v44.57"/><path d="M138.8 406.4h46.01M161.8 380.74v51.31"/><path d="M148.86 400.6h33.68M165.7 378.05v45.09"/><path d="M155.66 401.4h24.49M167.9 386.5v29.81"/><path d="M152.03 416h34.54M169.3 393.37v45.25"/><path d="M153.86 420.4h40.28M174 391.84v57.12"/><path d="M153.28 429h32.64M169.6 409.91v38.19"/><path d="M134.01 427.3h27.38M147.7 410.25v34.09"/><path d="M133.82 436.9h28.56M148.1 410.07v53.66"/><path d="M123.53 451.3h38.95M143 425.11v52.37"/><path d="M131.72 457h25.56M144.5 436.42v41.17"/><path d="M146.96 460.6h39.68M166.8 444.62v31.96"/><path d="M158.79 437.6h36.82M177.2 424.87v25.46"/><path d="M161.04 442.4h39.53M180.8 419.57v45.67"/><path d="M168.56 444.5h39.47M188.3 431.76v25.47"/><path d="M174.05 448.4h37.1M192.6 429.87v37.07"/><path d="M173.93 392.3h29.54M188.7 362.52v59.56"/><path d="M177.32 401.9h36.56M195.6 377.17v49.45"/><path d="M179.47 414.6h35.85M197.4 386.56v56.08"/><path d="M192.02 398.8h27.95M206 378.06v41.47"/><path d="M185.58 414.3h40.83M206 399.19v30.21"/><path d="M179.27 435.5h27.46M193 414.7v41.6"/><path d="M177.16 437.3h36.88M195.6 409.59v55.42"/><path d="M184.79 454.9h39.43M204.5 438.67v32.47"/><path d="M162.46 466.1h31.89M178.4 439.1v54"/><path d="M166.84 465.3h27.91M180.8 447.68v35.24"/><path d="M174.75 474.5h31.7M190.6 451.68v45.64"/><path d="M183.01 508.7h41.18M203.6 493.92v29.56"/><path d="M189.18 399h34.43M206.4 371.51v54.99"/><path d="M202.01 408.5h39.77M221.9 381v55"/><path d="M183.47 414h44.46M205.7 392.53v42.93"/><path d="M193.7 422.3h30.6M209 404.59v35.42"/><path d="M206.57 421.5h36.67M224.9 393.21v56.57"/><path d="M220.05 427.5h30.71M235.4 401.35v52.31"/><path d="M220.71 428.4h30.19M235.8 412.12v32.56"/><path d="M235.35 436.6h25.3M248 417.53v38.15"/><path d="M202.99 439.2h43.41M224.7 419.7v38.99"/><path d="M195.24 447.7h38.92M214.7 434.12v27.16"/><path d="M205.84 446.5h31.52M221.6 425.09v42.82"/><path d="M210.84 451.3h24.33M223 434.27v34.06"/><path d="M186.01 453.9h43.57M207.8 440.08v27.65"/><path d="M207.56 456.5h42.88M229 433.05v46.9"/><path d="M227.54 452.9h29.52M242.3 437.69v30.42"/><path d="M227.47 456.5h40.06M247.5 434.3v44.4"/><path d="M201.66 466.4h32.28M217.8 439.88v53.04"/><path d="M187.86 475.9h37.09M206.4 447.17v57.45"/><path d="M198.07 474.1h32.25M214.2 454.11v39.98"/><path d="M225.51 475.9h43.98M247.5 458.35v35.1"/><path d="M231.13 489.3h42.34M252.3 463.24v52.12"/><path d="M196.52 494.9h39.76M216.4 472.06v45.68"/><path d="M255.77 395.2h44.87M278.2 380.07v30.26"/><path d="M281 396.8h47.01M304.5 369.19v55.23"/><path d="M262.02 418.3h32.35M278.2 406.25v24.09"/><path d="M271.9 422.8h48M295.9 394.71v56.18"/><path d="M273.62 426.3h39.35M293.3 396.77v59.07"/><path d="M270.42 441.3h27.75M284.3 423.8v35.01"/><path d="M256.66 444.8h33.48M273.4 429.82v29.97"/><path d="M258.38 453.9h28.25M272.5 426.41v54.99"/><path d="M253.56 458.9h36.27M271.7 439.55v38.69"/><path d="M278.59 446.5h33.82M295.5 421.89v49.23"/><path d="M270.57 452.9h40.86M291 433.7v38.39"/><path d="M290.06 450h26.48M303.3 432.17v35.66"/><path d="M282.29 460.8h31.22M297.9 445.58v30.45"/><path d="M279.76 469.5h38.07M298.8 440.3v58.41"/><path d="M267.05 487.4h37.9M286 474.46v25.88"/><path d="M295.63 497.1h27.35M309.3 468.27v57.66"/><path d="M339.07 430.4h47.46M362.8 411.6v37.61"/><path d="M367.45 429.5h34.9M384.9 412.68v33.64"/><path d="M348.94 443.6h40.32M369.1 415.26v56.67"/><path d="M353.57 446.8h38.06M372.6 422.07v49.46"/><path d="M333.97 451.7h24.27M346.1 424.2v54.99"/><path d="M333.77 477.6h37.25M352.4 464.86v25.48"/><path d="M326.58 492.6h32.04M342.6 467.32v50.56"/><path d="M299.03 502.6h28.93M313.5 476.13v52.94"/><path d="M286.44 506.4h38.72M305.8 482.82v47.17"/><path d="M288 508.4h45.4M310.7 480.02v56.76"/><path d="M306.41 501.5h31.58M322.2 487.02v28.95"/><path d="M327.15 501.8h40.69M347.5 476.34v50.93"/><path d="M325.61 508.7h30.58M340.9 489.36v38.68"/><path d="M331.88 512.1h44.43M354.1 497.1v30.01"/><path d="M347.32 520.8h26.36M360.5 491.88v57.83"/><path d="M354.97 514.2h24.26M367.1 498.4v31.6"/><path d="M313.65 526.5h24.5M325.9 506.36v40.28"/><path d="M337.86 533.7h40.69M358.2 517.72v31.96"/><path d="M318.67 542.9h27.06M332.2 521.85v42.09"/><path d="M318.54 553h29.13M333.1 530.74v44.52"/><path d="M328.06 548.1h34.28M345.2 531.34v33.53"/><path d="M326.6 560.5h43.6M348.4 543.73v33.53"/><path d="M327.39 563.4h37.42M346.1 550.69v25.42"/><path d="M351.85 557.6h44.91M374.3 542.29v30.63"/><path d="M319.27 578.4h39.85M339.2 548.53v59.74"/><path d="M344.95 583.3h29.31M359.6 558.8v49"/><path d="M318.85 591h25.7M331.7 562.41v57.18"/><path d="M323.87 601.4h39.87M343.8 576.65v49.51"/></g>
<path d="M115.8 385.6 L122.53 389.38 L129.25 393.16 L135.98 396.94 L142.71 400.71 L149.44 404.47 L156.16 408.22 L162.89 411.97 L169.62 415.7 L176.35 419.41 L183.07 423.11 L189.8 426.79 L196.53 430.43 L203.26 434.04 L209.98 437.61 L216.71 441.12 L223.44 444.56 L230.17 447.94 L236.89 451.24 L243.62 454.46 L250.35 457.6 L257.08 460.68 L263.8 463.7 L270.53 466.67 L277.26 469.6 L283.99 472.5 L290.71 475.37 L297.44 478.23 L304.17 481.06 L310.9 483.89 L317.62 486.7 L324.35 489.5 L331.08 492.3 L337.81 495.09 L344.53 497.87 L351.26 500.65 L357.99 503.43 L364.72 506.2 L371.44 508.97 L378.17 511.74 L384.9 514.5 L384.9 539.7 L378.17 535.9 L371.44 532.11 L364.72 528.32 L357.99 524.53 L351.26 520.75 L344.53 516.97 L337.81 513.19 L331.08 509.42 L324.35 505.66 L317.62 501.9 L310.9 498.15 L304.17 494.42 L297.44 490.69 L290.71 486.99 L283.99 483.3 L277.26 479.64 L270.53 476.01 L263.8 472.42 L257.08 468.88 L250.35 465.4 L243.62 461.98 L236.89 458.64 L230.17 455.38 L223.44 452.2 L216.71 449.08 L209.98 446.03 L203.26 443.04 L196.53 440.09 L189.8 437.17 L183.07 434.29 L176.35 431.43 L169.62 428.58 L162.89 425.75 L156.16 422.94 L149.44 420.13 L142.71 417.33 L135.98 414.54 L129.25 411.76 L122.53 408.98 L115.8 406.2 Z" fill="#2ca02c" fill-opacity="0.4" stroke="none"/>
<path d="M115.8 395.9L384.9 527.1" stroke="#2ca02c" stroke-width="3.2" stroke-dasharray="10 4.4" fill="none"/>
<g fill="#2ca02c" stroke="#000" stroke-width="0.6"><circle cx="115.7" cy="487.1" r="1.95"/><circle cx="142.4" cy="403.4" r="1.95"/><circle cx="152" cy="407.4" r="1.95"/><circle cx="146.7" cy="412.4" r="1.95"/><circle cx="158.5" cy="414.6" r="1.95"/><circle cx="158.5" cy="418.2" r="1.95"/><circle cx="161.8" cy="406.4" r="1.95"/><circle cx="165.7" cy="400.6" r="1.95"/><circle cx="167.9" cy="401.4" r="1.95"/><circle cx="169.3" cy="416" r="1.95"/><circle cx="174" cy="420.4" r="1.95"/><circle cx="169.6" cy="429" r="1.95"/><circle cx="147.7" cy="427.3" r="1.95"/><circle cx="148.1" cy="436.9" r="1.95"/><circle cx="143" cy="451.3" r="1.95"/><circle cx="144.5" cy="457" r="1.95"/><circle cx="166.8" cy="460.6" r="1.95"/><circle cx="177.2" cy="437.6" r="1.95"/><circle cx="180.8" cy="442.4" r="1.95"/><circle cx="188.3" cy="444.5" r="1.95"/><circle cx="192.6" cy="448.4" r="1.95"/><circle cx="188.7" cy="392.3" r="1.95"/><circle cx="195.6" cy="401.9" r="1.95"/><circle cx="197.4" cy="414.6" r="1.95"/><circle cx="206" cy="398.8" r="1.95"/><circle cx="206" cy="414.3" r="1.95"/><circle cx="193" cy="435.5" r="1.95"/><circle cx="195.6" cy="437.3" r="1.95"/><circle cx="204.5" cy="454.9" r="1.95"/><circle cx="178.4" cy="466.1" r="1.95"/><circle cx="180.8" cy="465.3" r="1.95"/><circle cx="190.6" cy="474.5" r="1.95"/><circle cx="203.6" cy="508.7" r="1.95"/><circle cx="206.4" cy="399" r="1.95"/><circle cx="221.9" cy="408.5" r="1.95"/><circle cx="205.7" cy="414" r="1.95"/><circle cx="209" cy="422.3" r="1.95"/><circle cx="224.9" cy="421.5" r="1.95"/><circle cx="235.4" cy="427.5" r="1.95"/><circle cx="235.8" cy="428.4" r="1.95"/><circle cx="248" cy="436.6" r="1.95"/><circle cx="224.7" cy="439.2" r="1.95"/><circle cx="214.7" cy="447.7" r="1.95"/><circle cx="221.6" cy="446.5" r="1.95"/><circle cx="223" cy="451.3" r="1.95"/><circle cx="207.8" cy="453.9" r="1.95"/><circle cx="229" cy="456.5" r="1.95"/><circle cx="242.3" cy="452.9" r="1.95"/><circle cx="247.5" cy="456.5" r="1.95"/><circle cx="217.8" cy="466.4" r="1.95"/><circle cx="206.4" cy="475.9" r="1.95"/><circle cx="214.2" cy="474.1" r="1.95"/><circle cx="247.5" cy="475.9" r="1.95"/><circle cx="252.3" cy="489.3" r="1.95"/><circle cx="216.4" cy="494.9" r="1.95"/><circle cx="278.2" cy="395.2" r="1.95"/><circle cx="304.5" cy="396.8" r="1.95"/><circle cx="278.2" cy="418.3" r="1.95"/><circle cx="295.9" cy="422.8" r="1.95"/><circle cx="293.3" cy="426.3" r="1.95"/><circle cx="284.3" cy="441.3" r="1.95"/><circle cx="273.4" cy="444.8" r="1.95"/><circle cx="272.5" cy="453.9" r="1.95"/><circle cx="271.7" cy="458.9" r="1.95"/><circle cx="295.5" cy="446.5" r="1.95"/><circle cx="291" cy="452.9" r="1.95"/><circle cx="303.3" cy="450" r="1.95"/><circle cx="297.9" cy="460.8" r="1.95"/><circle cx="298.8" cy="469.5" r="1.95"/><circle cx="286" cy="487.4" r="1.95"/><circle cx="309.3" cy="497.1" r="1.95"/><circle cx="362.8" cy="430.4" r="1.95"/><circle cx="384.9" cy="429.5" r="1.95"/><circle cx="369.1" cy="443.6" r="1.95"/><circle cx="372.6" cy="446.8" r="1.95"/><circle cx="346.1" cy="451.7" r="1.95"/><circle cx="352.4" cy="477.6" r="1.95"/><circle cx="342.6" cy="492.6" r="1.95"/><circle cx="313.5" cy="502.6" r="1.95"/><circle cx="305.8" cy="506.4" r="1.95"/><circle cx="310.7" cy="508.4" r="1.95"/><circle cx="322.2" cy="501.5" r="1.95"/><circle cx="347.5" cy="501.8" r="1.95"/><circle cx="340.9" cy="508.7" r="1.95"/><circle cx="354.1" cy="512.1" r="1.95"/><circle cx="360.5" cy="520.8" r="1.95"/><circle cx="367.1" cy="514.2" r="1.95"/><circle cx="325.9" cy="526.5" r="1.95"/><circle cx="358.2" cy="533.7" r="1.95"/><circle cx="332.2" cy="542.9" r="1.95"/><circle cx="333.1" cy="553" r="1.95"/><circle cx="345.2" cy="548.1" r="1.95"/><circle cx="348.4" cy="560.5" r="1.95"/><circle cx="346.1" cy="563.4" r="1.95"/><circle cx="374.3" cy="557.6" r="1.95"/><circle cx="339.2" cy="578.4" r="1.95"/><circle cx="359.6" cy="583.3" r="1.95"/><circle cx="331.7" cy="591" r="1.95"/><circle cx="343.8" cy="601.4" r="1.95"/></g>
</g>
<clipPath id="c5"><rect x="473.5" y="340" width="322.9" height="282"/></clipPath>
<g clip-path="url(#c5)">
<g stroke="#1f77b4" stroke-opacity="0.32" stroke-width="1.3" fill="none"><path d="M510.7 392.5h36M528.7 372.5v40"/><path d="M501.8 409.8h40M521.8 394.8v30"/><path d="M539.1 421.9h17M547.6 409.91v23.97"/><path d="M516.76 439.4h30.29M531.9 429.08v20.65"/><path d="M525.74 438.4h34.11M542.8 424.03v28.74"/><path d="M552.56 436h21.08M563.1 417.74v36.52"/><path d="M551.85 441.4h31.49M567.6 431.16v20.47"/><path d="M599.51 434.8h24.38M611.7 419.11v31.37"/><path d="M593.82 439.4h31.36M609.5 426.78v25.24"/><path d="M592.91 444.9h31.98M608.9 437.11v15.59"/><path d="M532.05 449.5h21.5M542.8 441.25v16.5"/><path d="M529.76 455.1h32.49M546 438.73v32.75"/><path d="M532.93 454.1h32.95M549.4 438.92v30.36"/><path d="M538.77 456.1h24.07M550.8 442.52v27.17"/><path d="M546.58 454.5h26.23M559.7 445.63v17.74"/><path d="M553.27 453.5h35.46M571 444.76v17.48"/><path d="M567.62 450.1h22.75M579 433.43v33.33"/><path d="M559.64 457.6h36.73M578 449.34v16.52"/><path d="M569.48 456.1h34.43M586.7 445.97v20.26"/><path d="M570.13 454.1h37.93M589.1 445.81v16.57"/><path d="M573.21 455.1h39.78M593.1 444.48v21.24"/><path d="M583.04 456.6h22.13M594.1 438.81v35.58"/><path d="M583.78 457.6h24.05M595.8 448.49v18.22"/><path d="M581.06 459.6h23.28M592.7 440.45v38.29"/><path d="M602.67 456.1h29.26M617.3 442.77v26.66"/><path d="M606.56 458.6h29.49M621.3 450.18v16.85"/><path d="M611.81 460.6h29.58M626.6 444.34v32.51"/><path d="M499.47 464h16.06M507.5 454.58v18.84"/><path d="M503.46 464h38.27M522.6 450.59v26.82"/><path d="M514.13 468.2h22.34M525.3 453.25v29.9"/><path d="M516.97 469h25.46M529.7 461.33v15.33"/><path d="M507.25 473.7h38.9M526.7 462.19v23.01"/><path d="M516.12 473.1h27.16M529.7 461.41v23.38"/><path d="M516.99 463h35.42M534.7 451.3v23.39"/><path d="M536.78 465h24.05M548.8 452.13v25.74"/><path d="M539.81 467.2h39.37M559.5 448.49v37.42"/><path d="M552.25 470.7h17.29M560.9 451.6v38.19"/><path d="M553.03 465.6h30.35M568.2 456.72v17.75"/><path d="M531.86 472.3h23.87M543.8 456.54v31.52"/><path d="M528.18 480.7h38.44M547.4 463.54v34.31"/><path d="M529.29 483.7h24.23M541.4 470.39v26.61"/><path d="M524.75 486.8h34.5M542 472.12v29.36"/><path d="M526.58 493.4h28.85M541 485.63v15.54"/><path d="M520.67 489.4h20.06M530.7 480.67v17.46"/><path d="M523.21 499.5h21.38M533.9 483.46v32.09"/><path d="M548.32 493.4h29.16M562.9 480.18v26.45"/><path d="M550.23 495.4h29.34M564.9 486.27v18.26"/><path d="M556.99 494.2h20.01M567 479.18v30.03"/><path d="M569.03 466.6h39.34M588.7 457.16v18.89"/><path d="M571.31 473.7h28.78M585.7 464.06v19.28"/><path d="M580.37 473.3h17.45M589.1 453.56v39.47"/><path d="M580.85 466.2h34.7M598.2 448.7v35.01"/><path d="M586.96 466.2h31.69M602.8 458.29v15.82"/><path d="M592.52 468.6h24.56M604.8 448.79v39.62"/><path d="M591.66 474.3h27.47M605.4 458.06v32.48"/><path d="M588.99 473.1h39.02M608.5 456.83v32.54"/><path d="M597.62 478.7h20.35M607.8 459.84v37.71"/><path d="M597.43 477.3h33.74M614.3 467.19v20.23"/><path d="M616.9 473.7h17M625.4 462.5v22.4"/><path d="M611.49 477.3h26.22M624.6 467.06v20.48"/><path d="M612.04 481.3h25.13M624.6 468.34v25.91"/><path d="M572.13 484.8h21.14M582.7 466.23v37.14"/><path d="M568.6 491.8h31.39M584.3 472.41v38.78"/><path d="M562.17 496.4h30.86M577.6 486.95v18.91"/><path d="M565.39 500.5h17.62M574.2 489.71v21.59"/><path d="M560.99 503.3h29.21M575.6 485v36.6"/><path d="M564.9 501.9h35.61M582.7 482.92v37.97"/><path d="M577.66 493.2h34.29M594.8 479.52v27.37"/><path d="M604.99 484.8h24.61M617.3 475.81v17.98"/><path d="M610.39 488.8h16.22M618.5 471.67v34.25"/><path d="M589.85 498.9h30.71M605.2 488.44v20.93"/><path d="M593.96 502.5h18.89M603.4 495.21v14.57"/><path d="M596.38 501.9h27.03M609.9 491.74v20.33"/><path d="M576.53 507.9h36.54M594.8 500.01v15.78"/><path d="M585.95 506.5h27.7M599.8 493.48v26.04"/><path d="M580.4 511.9h31.99M596.4 502.3v19.2"/><path d="M601.83 504.9h30.14M616.9 494.68v20.43"/><path d="M610.2 508.9h25.59M623 498.98v19.84"/><path d="M607.52 509.9h35.76M625.4 496.21v27.38"/><path d="M607.31 513h16.39M615.5 499.74v26.51"/><path d="M598.72 516h36.37M616.9 507.62v16.75"/><path d="M586.3 516h36.21M604.4 500.3v31.41"/><path d="M525.43 501.9h33.94M542.4 485.3v33.19"/><path d="M532.02 507.9h16.75M540.4 495.55v24.69"/><path d="M524.78 511.3h36.03M542.8 495.21v32.18"/><path d="M529.93 506.5h34.15M547 491.47v30.06"/><path d="M536.43 503.3h25.13M549 485.46v35.69"/><path d="M504.58 508.5h19.25M514.2 490.41v36.18"/><path d="M488.14 515h35.92M506.1 501.72v26.56"/><path d="M538.39 515h30.22M553.5 498.69v32.62"/><path d="M573.46 512h16.48M581.7 502.93v18.14"/><path d="M505.56 519h35.29M523.2 508.26v21.47"/><path d="M631.91 445.5h25.79M644.8 428.49v34.02"/><path d="M700.08 452.5h32.44M716.3 444.77v15.47"/><path d="M608.83 458.6h25.53M621.6 448.65v19.9"/><path d="M613.24 460.6h26.73M626.6 448.51v24.18"/><path d="M626.12 456.2h24.75M638.5 439.06v34.28"/><path d="M625.39 458.6h27.42M639.1 443.4v30.41"/><path d="M633.12 459h20.96M643.6 448v22"/><path d="M624.9 463h27.21M638.5 448.17v29.67"/><path d="M630.48 465h26.23M643.6 447.87v34.26"/><path d="M612.62 473.7h24.75M625 463.62v20.16"/><path d="M617.46 472.7h23.27M629.1 459.52v26.35"/><path d="M606.8 477.1h36.39M625 460.45v33.29"/><path d="M619.88 479.1h21.23M630.5 459.58v39.04"/><path d="M604.93 481.8h37.33M623.6 466.48v30.65"/><path d="M622.91 479.1h28.38M637.1 460.79v36.63"/><path d="M623.41 477.1h32.18M639.5 462.17v29.85"/><path d="M641.68 484.8h17.05M650.2 470.99v27.62"/><path d="M647.77 481.8h36.27M665.9 469.33v24.94"/><path d="M652.1 486.8h38.6M671.4 474.94v23.71"/><path d="M682.51 476.3h26.17M695.6 458.89v34.82"/><path d="M718.59 484.4h26.43M731.8 474.84v19.12"/><path d="M613.65 488.8h30.9M629.1 480.61v16.38"/><path d="M623.82 487.2h18.57M633.1 472.11v30.18"/><path d="M622.68 486.8h28.83M637.1 478.26v17.09"/><path d="M626.75 490.4h25.9M639.7 483.19v14.42"/><path d="M628.34 488.8h36.52M646.6 470.75v36.1"/><path d="M651.31 489.2h17.97M660.3 477.58v23.24"/><path d="M653.74 489.8h21.92M664.7 474.34v30.93"/><path d="M650.55 491.8h28.3M664.7 477.55v28.5"/><path d="M640.56 494.8h36.68M658.9 480.34v28.92"/><path d="M648.43 496.5h29.74M663.3 480.02v32.96"/><path d="M678.7 489.4h21.6M689.5 472.75v33.3"/><path d="M671.76 496.3h38.28M690.9 481.31v29.98"/><path d="M681.65 494.4h37.89M700.6 483.28v22.24"/><path d="M701.51 492.2h23.59M713.3 477.81v28.79"/><path d="M709.4 492.8h17.39M718.1 479v27.59"/><path d="M717.17 495.9h18.47M726.4 481.22v29.37"/><path d="M612.13 496.5h38.74M631.5 489.26v14.49"/><path d="M621.65 500.5h24.09M633.7 493.28v14.44"/><path d="M627.97 496.5h24.27M640.1 485.07v22.85"/><path d="M636.14 493.8h16.12M644.2 484.92v17.75"/><path d="M633.74 500.3h30.91M649.2 487v26.61"/><path d="M641.65 496.9h32.49M657.9 485.26v23.27"/><path d="M647.35 503.3h33.11M663.9 487.97v30.65"/><path d="M653.13 500.9h34.54M670.4 490.01v21.79"/><path d="M664.91 501.9h27.77M678.8 493.95v15.9"/><path d="M671.68 501.9h23.65M683.5 488.37v27.07"/><path d="M619.77 505.3h35.85M637.7 486.24v38.11"/><path d="M629.34 504.9h33.72M646.2 494.24v21.33"/><path d="M631.77 506.9h25.66M644.6 490.13v33.55"/><path d="M637.57 504.9h37.47M656.3 485.75v38.31"/><path d="M644.84 509h24.92M657.3 497.68v22.65"/><path d="M644.36 509h33.88M661.3 495.48v27.03"/><path d="M604.92 509.4h36.16M623 496.72v25.37"/><path d="M616.2 509.4h19.6M626 497.34v24.13"/><path d="M616.52 508.5h29.17M631.1 492.21v32.58"/><path d="M654.88 510h25.04M667.4 490.37v39.26"/><path d="M661.66 511h19.48M671.4 498.87v24.26"/><path d="M695.18 506.3h20.85M705.6 497.17v18.26"/><path d="M688.88 512.6h36.64M707.2 493.71v37.78"/><path d="M698.26 510h38.89M717.7 495.75v28.5"/><path d="M709.19 513h17.03M717.7 505.5v15"/><path d="M715.32 509h21.76M726.2 489.61v38.78"/><path d="M615.12 516h23.96M627.1 496.69v38.61"/><path d="M628.64 514.6h25.11M641.2 507.05v15.1"/><path d="M628.79 515.4h34.82M646.2 498.93v32.93"/><path d="M641.31 512.6h29.99M656.3 498.44v28.31"/><path d="M654 516h32.81M670.4 506.74v18.51"/><path d="M663.28 516.6h24.24M675.4 504.48v24.24"/><path d="M561.41 526h18.97M570.9 510.87v30.26"/><path d="M553.28 530.2h29.24M567.9 521.22v17.96"/><path d="M557.8 536.9h36.81M576.2 528.82v16.17"/><path d="M552.38 543h25.04M564.9 533.42v19.16"/><path d="M554.64 544.4h34.32M571.8 535v18.8"/><path d="M574 545.3h17.59M582.8 527.68v35.23"/><path d="M575.71 522.8h24.78M588.1 506.08v33.43"/><path d="M582.44 537.8h33.13M599 519.49v36.62"/><path d="M600.53 536.5h24.33M612.7 519.07v34.86"/><path d="M605.15 523.7h28.49M619.4 506.02v35.35"/><path d="M611.87 531.6h22.65M623.2 523.16v16.89"/><path d="M611.94 531.6h31.33M627.6 512.68v37.84"/><path d="M613.6 535.5h23.39M625.3 521.25v28.5"/><path d="M616.14 536h29.91M631.1 527.94v16.12"/><path d="M613.08 527.2h30.83M628.5 509.99v34.42"/><path d="M622.9 528.1h23.41M634.6 520.95v14.3"/><path d="M618.12 522.8h24.15M630.2 510.4v24.79"/><path d="M618.17 522.8h30.45M633.4 513.48v18.64"/><path d="M631.31 524.6h17.17M639.9 506.03v37.14"/><path d="M631.36 525.5h29.29M646 512.92v25.16"/><path d="M639.74 526h34.72M657.1 517.85v16.3"/><path d="M640.89 536.5h32.41M657.1 518.62v35.76"/><path d="M650.85 526.3h25.49M663.6 514.07v24.46"/><path d="M645.43 533h38.14M664.5 523.96v18.07"/><path d="M654.07 531.3h31.27M669.7 517.85v26.9"/><path d="M625.49 547.1h28.01M639.5 531.79v30.62"/><path d="M620.25 554.4h29.9M635.2 538.68v31.43"/><path d="M631.5 560.9h22M642.5 544.04v33.72"/><path d="M628.85 569h26.69M642.2 558.71v20.59"/><path d="M641.77 563.7h19.85M651.7 546.91v33.57"/><path d="M641.8 581.3h20M651.8 566.3v30"/><path d="M646.6 580.4h20M656.6 565.4v30"/><path d="M637.6 601.3h24M649.6 576.3v50"/><path d="M593.1 585.5h24M605.1 555.5v60"/><path d="M644.54 556.2h38.11M663.6 537.84v36.73"/><path d="M647.53 557.9h34.94M665 538.38v39.04"/><path d="M654.13 550.4h39.34M673.8 536.41v27.97"/><path d="M661.27 539.5h33.46M678 531.44v16.11"/><path d="M674.93 540.7h16.74M683.3 532.27v16.86"/><path d="M667.89 558.3h31.01M683.4 538.96v38.68"/><path d="M674.51 550.9h27.38M688.2 532.01v37.79"/><path d="M682.24 540.4h20.71M692.6 524.36v32.09"/><path d="M679.54 559.4h31.33M695.2 550.63v17.53"/><path d="M679.98 566.4h23.43M691.7 550.08v32.64"/><path d="M676.46 576.4h28.68M690.8 560.26v32.28"/><path d="M690.46 566.4h28.07M704.5 548.66v35.48"/><path d="M665.22 523.2h30.16M680.3 508.73v28.94"/><path d="M683.4 522.3h36M701.4 504.17v36.26"/><path d="M689.43 506.3h31.54M705.2 486.39v39.81"/><path d="M691.84 512.6h31.31M707.5 494.27v36.66"/><path d="M702.84 510.2h28.73M717.2 492.59v35.23"/><path d="M705.2 512.6h24.6M717.5 500.12v24.96"/><path d="M709.73 508.8h32.34M725.9 489.96v37.69"/><path d="M693.19 527.7h36.42M711.4 509.3v36.81"/><path d="M695.64 532.8h31.53M711.4 513.91v37.78"/><path d="M682.69 531.3h39.82M702.6 522.28v18.05"/><path d="M692.6 533.9h22.81M704 522.69v22.43"/><path d="M686.82 537.8h27.37M700.5 520.04v35.53"/><path d="M696.79 536.9h37.23M715.4 521.69v30.41"/><path d="M708.04 535.1h17.51M716.8 523.04v24.13"/><path d="M696.51 538.3h32.57M712.8 520.03v36.54"/><path d="M689.87 547.8h19.47M699.6 529.54v36.52"/><path d="M688.06 546.5h35.27M705.7 529.14v34.71"/><path d="M700.5 542.7h31.6M716.3 522.76v39.87"/><path d="M706.47 540h33.65M723.3 527.29v25.42"/><path d="M707.9 544.8h39.6M727.7 531.04v27.51"/><path d="M710.64 541.3h39.33M730.3 526.93v28.75"/><path d="M715.69 543h34.62M733 526.87v32.25"/><path d="M726.41 544.2h16.57M734.7 535.63v17.15"/><path d="M713.46 547.1h37.27M732.1 539.41v15.37"/><path d="M710.07 547.4h26.47M723.3 533.3v28.2"/><path d="M717.28 533h36.64M735.6 523.15v19.7"/><path d="M724.48 527.2h24.03M736.5 509.18v36.03"/><path d="M725.01 526.3h26.38M738.2 509.64v33.32"/><path d="M729.4 553.6h19.39M739.1 537.36v32.47"/><path d="M714.73 557.6h27.74M728.6 538.16v38.88"/><path d="M714.6 561.1h26.2M727.7 549.15v23.91"/><path d="M726.4 577.3h30M741.4 562.3v30"/><path d="M743.2 531.6h23.4M754.9 521.97v19.27"/><path d="M753.73 530.7h31.14M769.3 521.65v18.1"/><path d="M485.3 556.4h30M500.3 518.4v76"/><path d="M494.2 515h23.6M506 501.47v27.05"/><path d="M515.85 499.1h36.5M534.1 489.31v19.58"/><path d="M520.43 490.4h19.75M530.3 471.41v37.99"/><path d="M524.54 493.4h33.13M541.1 481.48v23.83"/><path d="M533.14 502.3h17.93M542.1 491.18v22.25"/><path d="M539.03 503.3h20.54M549.3 495.35v15.91"/><path d="M534.87 506.7h23.86M546.8 494.67v24.06"/><path d="M536.84 515h33.52M553.6 495.4v39.19"/><path d="M537.14 520.4h22.32M548.3 510.32v20.15"/><path d="M542.83 520.4h21.14M553.4 511.07v18.65"/><path d="M528.87 528.5h33.26M545.5 514.16v28.68"/><path d="M553.46 493.8h20.07M563.5 481.28v25.04"/><path d="M553.6 494.7h25.41M566.3 481.39v26.61"/><path d="M550.26 493.4h34.08M567.3 475.47v35.86"/><path d="M556.07 499.9h35.66M573.9 486.41v26.99"/><path d="M558.42 503.7h33.95M575.4 483.88v39.63"/><path d="M558.33 496.6h38.74M577.7 482.84v27.51"/><path d="M552.93 525.7h36.35M571.1 516.8v17.8"/><path d="M554 529.8h27.81M567.9 516.6v26.4"/><path d="M562.68 536.5h27.03M576.2 522.02v28.97"/><path d="M545.57 543.1h38.46M564.8 531.73v22.73"/><path d="M558.83 544.5h25.73M571.7 526.71v35.57"/><path d="M557.72 462.96h37.71M576.58 455.95v14.01"/><path d="M546.8 466.02h28.48M561.04 454.56v22.91"/><path d="M622.48 505.12h30.66M637.81 496.42v17.4"/><path d="M628.61 495.42h29.34M643.28 478.43v33.99"/><path d="M588.67 475.7h32.83M605.08 464.45v22.5"/><path d="M588.86 459.6h35.31M606.51 448.99v21.23"/><path d="M568.21 472.42h27.08M581.75 460.97v22.89"/><path d="M612.81 491h26.06M625.84 480.98v20.03"/><path d="M572.99 465.17h31.42M588.7 455.44v19.45"/><path d="M562.09 458.74h38.58M581.38 441.9v33.68"/><path d="M623.72 481.8h29.23M638.33 474.36v14.88"/><path d="M571.35 466.67h17.63M580.17 454.14v25.06"/><path d="M558.72 466.82h39.95M578.69 458.76v16.11"/><path d="M575.68 467.59h24.07M587.72 454.92v25.35"/><path d="M650.58 487.42h20.01M660.59 476.58v21.69"/><path d="M565.64 454.57h30.48M580.88 444.14v20.86"/><path d="M588.1 462.55h27.12M601.66 443.62v37.86"/><path d="M577.2 498.12h32.52M593.46 482.2v31.84"/><path d="M576.19 481.08h32.58M592.48 466.73v28.71"/><path d="M605.74 488.65h32.74M622.11 481.36v14.59"/><path d="M580.37 474.39h32.49M596.62 463.52v21.74"/><path d="M576.5 464.22h35.75M594.38 456.74v14.95"/><path d="M645.22 496.61h16.13M653.28 488.6v16.03"/><path d="M539.08 456.82h24.38M551.28 449.81v14.03"/><path d="M607.2 476.22h21.65M618.02 459.18v34.07"/></g>
<path d="M500.1 437.5 L506.84 440.94 L513.57 444.37 L520.31 447.8 L527.04 451.23 L533.77 454.65 L540.51 458.07 L547.25 461.48 L553.98 464.88 L560.72 468.27 L567.45 471.64 L574.19 475 L580.92 478.35 L587.65 481.66 L594.39 484.95 L601.12 488.21 L607.86 491.42 L614.6 494.58 L621.33 497.7 L628.07 500.77 L634.8 503.81 L641.54 506.81 L648.27 509.78 L655 512.72 L661.74 515.64 L668.48 518.54 L675.21 521.42 L681.94 524.29 L688.68 527.15 L695.41 530 L702.15 532.84 L708.88 535.68 L715.62 538.5 L722.36 541.33 L729.09 544.15 L735.83 546.96 L742.56 549.77 L749.3 552.58 L756.03 555.39 L762.76 558.2 L769.5 561 L769.5 576 L762.76 572.6 L756.03 569.21 L749.3 565.82 L742.56 562.43 L735.83 559.04 L729.09 555.65 L722.36 552.27 L715.62 548.9 L708.88 545.52 L702.15 542.16 L695.41 538.8 L688.68 535.45 L681.94 532.11 L675.21 528.78 L668.48 525.46 L661.74 522.16 L655 518.88 L648.27 515.62 L641.54 512.39 L634.8 509.19 L628.07 506.03 L621.33 502.9 L614.6 499.82 L607.86 496.78 L601.12 493.79 L594.39 490.85 L587.65 487.94 L580.92 485.05 L574.19 482.2 L567.45 479.36 L560.72 476.53 L553.98 473.72 L547.25 470.92 L540.51 468.13 L533.77 465.35 L527.04 462.57 L520.31 459.8 L513.57 457.03 L506.84 454.26 L500.1 451.5 Z" fill="#2ca02c" fill-opacity="0.4" stroke="none"/>
<path d="M500.1 444.5L769.5 568.5" stroke="#2ca02c" stroke-width="3.2" stroke-dasharray="10 4.4" fill="none"/>
<g fill="#2ca02c" stroke="#000" stroke-width="0.6"><circle cx="528.7" cy="392.5" r="1.95"/><circle cx="521.8" cy="409.8" r="1.95"/><circle cx="547.6" cy="421.9" r="1.95"/><circle cx="531.9" cy="439.4" r="1.95"/><circle cx="542.8" cy="438.4" r="1.95"/><circle cx="563.1" cy="436" r="1.95"/><circle cx="567.6" cy="441.4" r="1.95"/><circle cx="611.7" cy="434.8" r="1.95"/><circle cx="609.5" cy="439.4" r="1.95"/><circle cx="608.9" cy="444.9" r="1.95"/><circle cx="542.8" cy="449.5" r="1.95"/><circle cx="546" cy="455.1" r="1.95"/><circle cx="549.4" cy="454.1" r="1.95"/><circle cx="550.8" cy="456.1" r="1.95"/><circle cx="559.7" cy="454.5" r="1.95"/><circle cx="571" cy="453.5" r="1.95"/><circle cx="579" cy="450.1" r="1.95"/><circle cx="578" cy="457.6" r="1.95"/><circle cx="586.7" cy="456.1" r="1.95"/><circle cx="589.1" cy="454.1" r="1.95"/><circle cx="593.1" cy="455.1" r="1.95"/><circle cx="594.1" cy="456.6" r="1.95"/><circle cx="595.8" cy="457.6" r="1.95"/><circle cx="592.7" cy="459.6" r="1.95"/><circle cx="617.3" cy="456.1" r="1.95"/><circle cx="621.3" cy="458.6" r="1.95"/><circle cx="626.6" cy="460.6" r="1.95"/><circle cx="507.5" cy="464" r="1.95"/><circle cx="522.6" cy="464" r="1.95"/><circle cx="525.3" cy="468.2" r="1.95"/><circle cx="529.7" cy="469" r="1.95"/><circle cx="526.7" cy="473.7" r="1.95"/><circle cx="529.7" cy="473.1" r="1.95"/><circle cx="534.7" cy="463" r="1.95"/><circle cx="548.8" cy="465" r="1.95"/><circle cx="559.5" cy="467.2" r="1.95"/><circle cx="560.9" cy="470.7" r="1.95"/><circle cx="568.2" cy="465.6" r="1.95"/><circle cx="543.8" cy="472.3" r="1.95"/><circle cx="547.4" cy="480.7" r="1.95"/><circle cx="541.4" cy="483.7" r="1.95"/><circle cx="542" cy="486.8" r="1.95"/><circle cx="541" cy="493.4" r="1.95"/><circle cx="530.7" cy="489.4" r="1.95"/><circle cx="533.9" cy="499.5" r="1.95"/><circle cx="562.9" cy="493.4" r="1.95"/><circle cx="564.9" cy="495.4" r="1.95"/><circle cx="567" cy="494.2" r="1.95"/><circle cx="588.7" cy="466.6" r="1.95"/><circle cx="585.7" cy="473.7" r="1.95"/><circle cx="589.1" cy="473.3" r="1.95"/><circle cx="598.2" cy="466.2" r="1.95"/><circle cx="602.8" cy="466.2" r="1.95"/><circle cx="604.8" cy="468.6" r="1.95"/><circle cx="605.4" cy="474.3" r="1.95"/><circle cx="608.5" cy="473.1" r="1.95"/><circle cx="607.8" cy="478.7" r="1.95"/><circle cx="614.3" cy="477.3" r="1.95"/><circle cx="625.4" cy="473.7" r="1.95"/><circle cx="624.6" cy="477.3" r="1.95"/><circle cx="624.6" cy="481.3" r="1.95"/><circle cx="582.7" cy="484.8" r="1.95"/><circle cx="584.3" cy="491.8" r="1.95"/><circle cx="577.6" cy="496.4" r="1.95"/><circle cx="574.2" cy="500.5" r="1.95"/><circle cx="575.6" cy="503.3" r="1.95"/><circle cx="582.7" cy="501.9" r="1.95"/><circle cx="594.8" cy="493.2" r="1.95"/><circle cx="617.3" cy="484.8" r="1.95"/><circle cx="618.5" cy="488.8" r="1.95"/><circle cx="605.2" cy="498.9" r="1.95"/><circle cx="603.4" cy="502.5" r="1.95"/><circle cx="609.9" cy="501.9" r="1.95"/><circle cx="594.8" cy="507.9" r="1.95"/><circle cx="599.8" cy="506.5" r="1.95"/><circle cx="596.4" cy="511.9" r="1.95"/><circle cx="616.9" cy="504.9" r="1.95"/><circle cx="623" cy="508.9" r="1.95"/><circle cx="625.4" cy="509.9" r="1.95"/><circle cx="615.5" cy="513" r="1.95"/><circle cx="616.9" cy="516" r="1.95"/><circle cx="604.4" cy="516" r="1.95"/><circle cx="542.4" cy="501.9" r="1.95"/><circle cx="540.4" cy="507.9" r="1.95"/><circle cx="542.8" cy="511.3" r="1.95"/><circle cx="547" cy="506.5" r="1.95"/><circle cx="549" cy="503.3" r="1.95"/><circle cx="514.2" cy="508.5" r="1.95"/><circle cx="506.1" cy="515" r="1.95"/><circle cx="553.5" cy="515" r="1.95"/><circle cx="581.7" cy="512" r="1.95"/><circle cx="523.2" cy="519" r="1.95"/><circle cx="644.8" cy="445.5" r="1.95"/><circle cx="716.3" cy="452.5" r="1.95"/><circle cx="621.6" cy="458.6" r="1.95"/><circle cx="626.6" cy="460.6" r="1.95"/><circle cx="638.5" cy="456.2" r="1.95"/><circle cx="639.1" cy="458.6" r="1.95"/><circle cx="643.6" cy="459" r="1.95"/><circle cx="638.5" cy="463" r="1.95"/><circle cx="643.6" cy="465" r="1.95"/><circle cx="625" cy="473.7" r="1.95"/><circle cx="629.1" cy="472.7" r="1.95"/><circle cx="625" cy="477.1" r="1.95"/><circle cx="630.5" cy="479.1" r="1.95"/><circle cx="623.6" cy="481.8" r="1.95"/><circle cx="637.1" cy="479.1" r="1.95"/><circle cx="639.5" cy="477.1" r="1.95"/><circle cx="650.2" cy="484.8" r="1.95"/><circle cx="665.9" cy="481.8" r="1.95"/><circle cx="671.4" cy="486.8" r="1.95"/><circle cx="695.6" cy="476.3" r="1.95"/><circle cx="731.8" cy="484.4" r="1.95"/><circle cx="629.1" cy="488.8" r="1.95"/><circle cx="633.1" cy="487.2" r="1.95"/><circle cx="637.1" cy="486.8" r="1.95"/><circle cx="639.7" cy="490.4" r="1.95"/><circle cx="646.6" cy="488.8" r="1.95"/><circle cx="660.3" cy="489.2" r="1.95"/><circle cx="664.7" cy="489.8" r="1.95"/><circle cx="664.7" cy="491.8" r="1.95"/><circle cx="658.9" cy="494.8" r="1.95"/><circle cx="663.3" cy="496.5" r="1.95"/><circle cx="689.5" cy="489.4" r="1.95"/><circle cx="690.9" cy="496.3" r="1.95"/><circle cx="700.6" cy="494.4" r="1.95"/><circle cx="713.3" cy="492.2" r="1.95"/><circle cx="718.1" cy="492.8" r="1.95"/><circle cx="726.4" cy="495.9" r="1.95"/><circle cx="631.5" cy="496.5" r="1.95"/><circle cx="633.7" cy="500.5" r="1.95"/><circle cx="640.1" cy="496.5" r="1.95"/><circle cx="644.2" cy="493.8" r="1.95"/><circle cx="649.2" cy="500.3" r="1.95"/><circle cx="657.9" cy="496.9" r="1.95"/><circle cx="663.9" cy="503.3" r="1.95"/><circle cx="670.4" cy="500.9" r="1.95"/><circle cx="678.8" cy="501.9" r="1.95"/><circle cx="683.5" cy="501.9" r="1.95"/><circle cx="637.7" cy="505.3" r="1.95"/><circle cx="646.2" cy="504.9" r="1.95"/><circle cx="644.6" cy="506.9" r="1.95"/><circle cx="656.3" cy="504.9" r="1.95"/><circle cx="657.3" cy="509" r="1.95"/><circle cx="661.3" cy="509" r="1.95"/><circle cx="623" cy="509.4" r="1.95"/><circle cx="626" cy="509.4" r="1.95"/><circle cx="631.1" cy="508.5" r="1.95"/><circle cx="667.4" cy="510" r="1.95"/><circle cx="671.4" cy="511" r="1.95"/><circle cx="705.6" cy="506.3" r="1.95"/><circle cx="707.2" cy="512.6" r="1.95"/><circle cx="717.7" cy="510" r="1.95"/><circle cx="717.7" cy="513" r="1.95"/><circle cx="726.2" cy="509" r="1.95"/><circle cx="627.1" cy="516" r="1.95"/><circle cx="641.2" cy="514.6" r="1.95"/><circle cx="646.2" cy="515.4" r="1.95"/><circle cx="656.3" cy="512.6" r="1.95"/><circle cx="670.4" cy="516" r="1.95"/><circle cx="675.4" cy="516.6" r="1.95"/><circle cx="570.9" cy="526" r="1.95"/><circle cx="567.9" cy="530.2" r="1.95"/><circle cx="576.2" cy="536.9" r="1.95"/><circle cx="564.9" cy="543" r="1.95"/><circle cx="571.8" cy="544.4" r="1.95"/><circle cx="582.8" cy="545.3" r="1.95"/><circle cx="588.1" cy="522.8" r="1.95"/><circle cx="599" cy="537.8" r="1.95"/><circle cx="612.7" cy="536.5" r="1.95"/><circle cx="619.4" cy="523.7" r="1.95"/><circle cx="623.2" cy="531.6" r="1.95"/><circle cx="627.6" cy="531.6" r="1.95"/><circle cx="625.3" cy="535.5" r="1.95"/><circle cx="631.1" cy="536" r="1.95"/><circle cx="628.5" cy="527.2" r="1.95"/><circle cx="634.6" cy="528.1" r="1.95"/><circle cx="630.2" cy="522.8" r="1.95"/><circle cx="633.4" cy="522.8" r="1.95"/><circle cx="639.9" cy="524.6" r="1.95"/><circle cx="646" cy="525.5" r="1.95"/><circle cx="657.1" cy="526" r="1.95"/><circle cx="657.1" cy="536.5" r="1.95"/><circle cx="663.6" cy="526.3" r="1.95"/><circle cx="664.5" cy="533" r="1.95"/><circle cx="669.7" cy="531.3" r="1.95"/><circle cx="639.5" cy="547.1" r="1.95"/><circle cx="635.2" cy="554.4" r="1.95"/><circle cx="642.5" cy="560.9" r="1.95"/><circle cx="642.2" cy="569" r="1.95"/><circle cx="651.7" cy="563.7" r="1.95"/><circle cx="651.8" cy="581.3" r="1.95"/><circle cx="656.6" cy="580.4" r="1.95"/><circle cx="649.6" cy="601.3" r="1.95"/><circle cx="605.1" cy="585.5" r="1.95"/><circle cx="663.6" cy="556.2" r="1.95"/><circle cx="665" cy="557.9" r="1.95"/><circle cx="673.8" cy="550.4" r="1.95"/><circle cx="678" cy="539.5" r="1.95"/><circle cx="683.3" cy="540.7" r="1.95"/><circle cx="683.4" cy="558.3" r="1.95"/><circle cx="688.2" cy="550.9" r="1.95"/><circle cx="692.6" cy="540.4" r="1.95"/><circle cx="695.2" cy="559.4" r="1.95"/><circle cx="691.7" cy="566.4" r="1.95"/><circle cx="690.8" cy="576.4" r="1.95"/><circle cx="704.5" cy="566.4" r="1.95"/><circle cx="680.3" cy="523.2" r="1.95"/><circle cx="701.4" cy="522.3" r="1.95"/><circle cx="705.2" cy="506.3" r="1.95"/><circle cx="707.5" cy="512.6" r="1.95"/><circle cx="717.2" cy="510.2" r="1.95"/><circle cx="717.5" cy="512.6" r="1.95"/><circle cx="725.9" cy="508.8" r="1.95"/><circle cx="711.4" cy="527.7" r="1.95"/><circle cx="711.4" cy="532.8" r="1.95"/><circle cx="702.6" cy="531.3" r="1.95"/><circle cx="704" cy="533.9" r="1.95"/><circle cx="700.5" cy="537.8" r="1.95"/><circle cx="715.4" cy="536.9" r="1.95"/><circle cx="716.8" cy="535.1" r="1.95"/><circle cx="712.8" cy="538.3" r="1.95"/><circle cx="699.6" cy="547.8" r="1.95"/><circle cx="705.7" cy="546.5" r="1.95"/><circle cx="716.3" cy="542.7" r="1.95"/><circle cx="723.3" cy="540" r="1.95"/><circle cx="727.7" cy="544.8" r="1.95"/><circle cx="730.3" cy="541.3" r="1.95"/><circle cx="733" cy="543" r="1.95"/><circle cx="734.7" cy="544.2" r="1.95"/><circle cx="732.1" cy="547.1" r="1.95"/><circle cx="723.3" cy="547.4" r="1.95"/><circle cx="735.6" cy="533" r="1.95"/><circle cx="736.5" cy="527.2" r="1.95"/><circle cx="738.2" cy="526.3" r="1.95"/><circle cx="739.1" cy="553.6" r="1.95"/><circle cx="728.6" cy="557.6" r="1.95"/><circle cx="727.7" cy="561.1" r="1.95"/><circle cx="741.4" cy="577.3" r="1.95"/><circle cx="754.9" cy="531.6" r="1.95"/><circle cx="769.3" cy="530.7" r="1.95"/><circle cx="500.3" cy="556.4" r="1.95"/><circle cx="506" cy="515" r="1.95"/><circle cx="534.1" cy="499.1" r="1.95"/><circle cx="530.3" cy="490.4" r="1.95"/><circle cx="541.1" cy="493.4" r="1.95"/><circle cx="542.1" cy="502.3" r="1.95"/><circle cx="549.3" cy="503.3" r="1.95"/><circle cx="546.8" cy="506.7" r="1.95"/><circle cx="553.6" cy="515" r="1.95"/><circle cx="548.3" cy="520.4" r="1.95"/><circle cx="553.4" cy="520.4" r="1.95"/><circle cx="545.5" cy="528.5" r="1.95"/><circle cx="563.5" cy="493.8" r="1.95"/><circle cx="566.3" cy="494.7" r="1.95"/><circle cx="567.3" cy="493.4" r="1.95"/><circle cx="573.9" cy="499.9" r="1.95"/><circle cx="575.4" cy="503.7" r="1.95"/><circle cx="577.7" cy="496.6" r="1.95"/><circle cx="571.1" cy="525.7" r="1.95"/><circle cx="567.9" cy="529.8" r="1.95"/><circle cx="576.2" cy="536.5" r="1.95"/><circle cx="564.8" cy="543.1" r="1.95"/><circle cx="571.7" cy="544.5" r="1.95"/><circle cx="576.58" cy="462.96" r="1.95"/><circle cx="561.04" cy="466.02" r="1.95"/><circle cx="637.81" cy="505.12" r="1.95"/><circle cx="643.28" cy="495.42" r="1.95"/><circle cx="605.08" cy="475.7" r="1.95"/><circle cx="606.51" cy="459.6" r="1.95"/><circle cx="581.75" cy="472.42" r="1.95"/><circle cx="625.84" cy="491" r="1.95"/><circle cx="588.7" cy="465.17" r="1.95"/><circle cx="581.38" cy="458.74" r="1.95"/><circle cx="638.33" cy="481.8" r="1.95"/><circle cx="580.17" cy="466.67" r="1.95"/><circle cx="578.69" cy="466.82" r="1.95"/><circle cx="587.72" cy="467.59" r="1.95"/><circle cx="660.59" cy="487.42" r="1.95"/><circle cx="580.88" cy="454.57" r="1.95"/><circle cx="601.66" cy="462.55" r="1.95"/><circle cx="593.46" cy="498.12" r="1.95"/><circle cx="592.48" cy="481.08" r="1.95"/><circle cx="622.11" cy="488.65" r="1.95"/><circle cx="596.62" cy="474.39" r="1.95"/><circle cx="594.38" cy="464.22" r="1.95"/><circle cx="653.28" cy="496.61" r="1.95"/><circle cx="551.28" cy="456.82" r="1.95"/><circle cx="618.02" cy="476.22" r="1.95"/></g>
</g>
<clipPath id="c6"><rect x="857.9" y="340" width="322.9" height="282"/></clipPath>
<g clip-path="url(#c6)">
<g stroke="#1f77b4" stroke-opacity="0.32" stroke-width="1.3" fill="none"><path d="M953.3 418.5h18M962.3 393.5v50"/><path d="M975.3 391.9h12M981.3 151.9v480"/><path d="M1026.9 437.5h18M1035.9 425.5v24"/><path d="M1078.1 478.2h14M1085.1 458.2v40"/><path d="M1085 503.4h14M1092 488.4v30"/><path d="M919.2 556.7h16M927.2 541.7v30"/><path d="M966.8 581.2h16M974.8 566.2v30"/><path d="M994.6 590.1h24M1006.6 578.1v24"/><path d="M1040.1 601.3h20M1050.1 591.3v20"/><path d="M1111.5 528.3h18M1120.5 518.3v20"/><path d="M1145.7 575.6h16M1153.7 555.6v40"/><path d="M969.4 448.8h16M977.4 428.8v40"/><path d="M960.1 457.4h18M969.1 449.4v16"/><path d="M967.4 462.4h18M976.4 442.4v40"/><path d="M979.9 465.1h18M988.9 455.1v20"/><path d="M874.8 476.6h19.4M884.5 460.06v33.07"/><path d="M874.17 491.7h23.06M885.7 485.44v12.53"/><path d="M884.79 497.7h20.03M894.8 482.29v30.82"/><path d="M900.75 477.6h19.11M910.3 462.23v30.73"/><path d="M897.71 487.2h21.19M908.3 474.88v24.64"/><path d="M899.97 491.1h23.85M911.9 476.85v28.51"/><path d="M913.37 479.2h14.05M920.4 466.37v25.66"/><path d="M915.27 475.5h24.26M927.4 461.75v27.51"/><path d="M922.84 474.1h24.12M934.9 466.95v14.31"/><path d="M928.66 477.6h13.67M935.5 467.39v20.41"/><path d="M929.74 476.1h19.52M939.5 467.66v16.88"/><path d="M934.78 474.5h11.43M940.5 459.88v29.24"/><path d="M935.76 477.6h17.49M944.5 469.36v16.48"/><path d="M934.23 480.2h25.54M947 473.96v12.49"/><path d="M940.11 480.6h20.98M950.6 463.79v33.62"/><path d="M940.66 484.2h21.88M951.6 472.6v23.21"/><path d="M942.68 484.2h13.83M949.6 470.33v27.73"/><path d="M939.21 484.2h12.58M945.5 466.79v34.82"/><path d="M922.13 481h18.55M931.4 470.32v21.36"/><path d="M929.85 482.6h17.31M938.5 465.01v35.19"/><path d="M926.5 480.2h11.81M932.4 465.53v29.34"/><path d="M950.46 480.2h12.29M956.6 471.1v18.19"/><path d="M961.13 483h13.94M968.1 468.92v28.16"/><path d="M964.75 482.6h20.1M974.8 473.23v18.74"/><path d="M950.42 486.6h18.37M959.6 470.78v31.63"/><path d="M956.87 485.6h10.86M962.3 474.5v22.2"/><path d="M919.56 484.6h15.67M927.4 469.43v30.34"/><path d="M912.94 488.6h23.71M924.8 472.76v31.67"/><path d="M919.9 489.6h16.21M928 472.88v33.43"/><path d="M930.45 488.6h22.11M941.5 476.16v24.88"/><path d="M970.93 487h24.54M983.2 480.13v13.74"/><path d="M980.8 491.7h15.4M988.5 476.77v29.86"/><path d="M920.11 494.7h20.57M930.4 477.22v34.96"/><path d="M923.51 495.1h23.97M935.5 481.33v27.54"/><path d="M929.67 498.7h16.85M938.1 487.63v22.15"/><path d="M921.55 500.7h25.11M934.1 491.57v18.26"/><path d="M929.49 501.3h14.01M936.5 495.13v12.34"/><path d="M933.8 496.7h11.4M939.5 480.67v32.07"/><path d="M935.02 495.1h14.95M942.5 484.61v20.98"/><path d="M939.01 496.3h25.18M951.6 487.4v17.81"/><path d="M937.57 498.7h24.07M949.6 488.51v20.38"/><path d="M951.91 493.7h23.58M963.7 476.32v34.77"/><path d="M962.04 495.1h18.51M971.3 478.31v33.58"/><path d="M973.24 494.7h15.11M980.8 485.44v18.53"/><path d="M974.07 498.7h22.26M985.2 483.8v29.8"/><path d="M979.42 500.7h24.95M991.9 489.1v23.19"/><path d="M931.76 501.7h24.67M944.1 495.13v13.14"/><path d="M932.84 503.3h25.31M945.5 494.74v17.11"/><path d="M948.53 503.1h20.94M959 486.02v34.15"/><path d="M950.34 499.7h23.92M962.3 486.79v25.82"/><path d="M952.6 502.3h22.21M963.7 491.14v22.31"/><path d="M955.46 504.4h20.47M965.7 496.28v16.24"/><path d="M962.56 501.7h12.28M968.7 486.16v31.08"/><path d="M963.37 500.7h18.66M972.7 484.78v31.85"/><path d="M964.76 502.3h11.07M970.3 494.24v16.13"/><path d="M905.07 503.1h21.66M915.9 490.89v24.42"/><path d="M925.26 504.4h12.28M931.4 490v28.81"/><path d="M925.54 508.8h18.72M934.9 499.8v18"/><path d="M933.11 510.4h13.98M940.1 496.79v27.21"/><path d="M926.18 514.4h25.85M939.1 504.18v20.44"/><path d="M905.92 511.8h13.57M912.7 498.06v27.47"/><path d="M913.5 512.4h21.01M924 498.34v28.13"/><path d="M920.61 515.4h16.78M929 499.61v31.59"/><path d="M973.92 505.2h14.55M981.2 489.14v32.11"/><path d="M978.53 504.8h24.73M990.9 487.21v35.18"/><path d="M963.85 507.8h18.5M973.1 499.11v17.39"/><path d="M940.22 517.2h20.75M950.6 510.82v12.77"/><path d="M950.73 517.2h21.94M961.7 507.72v18.96"/><path d="M934.6 520.5h24M946.6 514.01v12.98"/><path d="M922.41 522.3h24.97M934.9 511.13v22.34"/><path d="M974.28 521.9h15.04M981.8 508.9v26.01"/><path d="M975.96 510.8h25.88M988.9 494.44v32.71"/><path d="M982.4 514.8h16.99M990.9 502.82v23.96"/><path d="M986.94 512.8h11.92M992.9 499.78v26.05"/><path d="M952.07 524.9h13.07M958.6 517.89v14.03"/><path d="M952.35 524.9h17.49M961.1 518.18v13.44"/><path d="M968.91 526.9h15.78M976.8 514.44v24.93"/><path d="M965.22 529.9h23.16M976.8 520.11v19.59"/><path d="M949.88 532h20.83M960.3 522.38v19.25"/><path d="M954.07 533h15.27M961.7 523.2v19.59"/><path d="M982.07 534.6h16.87M990.5 527.68v13.84"/><path d="M931.22 536h18.56M940.5 519.31v33.39"/><path d="M972.07 536.6h16.66M980.4 523.32v26.57"/><path d="M995.19 500.3h18.81M1004.6 487.7v25.2"/><path d="M1003.19 501.1h10.81M1008.6 494.85v12.51"/><path d="M998.07 485.6h14.66M1005.4 469.11v32.97"/><path d="M1002.74 487.6h10.51M1008 474.64v25.93"/><path d="M998.46 509.8h12.28M1004.6 503.76v12.08"/><path d="M1000.82 511.8h12.36M1007 497.64v28.33"/><path d="M996.77 522.5h10.47M1002 510.97v23.07"/><path d="M984.95 525.9h21.9M995.9 512.08v27.63"/><path d="M996.39 529.9h16.42M1004.6 513.09v33.62"/><path d="M1081.7 504.5h18.81M1091.1 495.88v17.24"/><path d="M1086.54 503.5h13.12M1093.1 487.5v32"/><path d="M1115.51 544.4h13.58M1122.3 534.24v20.31"/><path d="M1109.92 554.8h21.95M1120.9 541.92v25.75"/><path d="M1110.81 559.5h16.18M1118.9 551.17v16.65"/><path d="M1104.5 549.8h10.6M1109.8 538.71v22.19"/><path d="M1086.63 548.2h20.13M1096.7 532.89v30.63"/><path d="M1108.02 565.9h11.56M1113.8 555.15v21.5"/><path d="M1108.6 568.5h12.39M1114.8 552.08v32.85"/><path d="M997.77 485.9h16.46M1006 473.78v24.23"/><path d="M999.12 486.7h21.96M1010.1 473.4v26.6"/><path d="M1004.66 491.4h10.08M1009.7 476.11v30.57"/><path d="M1019.79 488.3h10.83M1025.2 475.3v26"/><path d="M1020.34 486.7h18.52M1029.6 470.38v32.64"/><path d="M1002.87 494.8h23.66M1014.7 480.97v27.65"/><path d="M995.38 500.8h17.25M1004 493.41v14.78"/><path d="M1001.77 501.4h14.65M1009.1 485.33v32.13"/><path d="M1007.52 502.5h15.95M1015.5 487.13v30.75"/><path d="M1004.88 506.9h16.45M1013.1 498.52v16.76"/><path d="M1026.39 506.1h17.81M1035.3 489.13v33.93"/><path d="M992.87 510.1h24.26M1005 497.14v25.92"/><path d="M1000.49 512.5h13.22M1007.1 494.52v35.95"/><path d="M1002.35 516.1h16.29M1010.5 505.97v20.27"/><path d="M1006.3 520.2h14.41M1013.5 511.25v17.9"/><path d="M997.11 522.6h10.58M1002.4 511.94v21.32"/><path d="M995.82 529.6h16.35M1004 512.97v33.26"/><path d="M994.29 531.7h21.43M1005 519.22v24.95"/><path d="M1001.84 529.2h25.31M1014.5 520.7v17"/><path d="M1002.92 533.7h18.37M1012.1 516.03v35.33"/><path d="M1046.84 510.5h10.33M1052 502.43v16.15"/><path d="M1055.81 512.9h12.38M1062 504.84v16.11"/><path d="M1062.6 512.9h17.8M1071.5 499.47v26.86"/><path d="M1041.12 517.6h25.77M1054 507.2v20.81"/><path d="M1034.11 521.2h25.17M1046.7 512.84v16.72"/><path d="M1051.29 524.2h11.42M1057 510.39v27.62"/><path d="M1047.12 526.6h23.36M1058.8 513.1v27"/><path d="M1058.87 524.6h15.25M1066.5 512.44v24.33"/><path d="M1059.83 523h24.54M1072.1 513.16v19.69"/><path d="M1024.57 525h24.67M1036.9 511.59v26.83"/><path d="M1029.39 527.6h13.82M1036.3 519.57v16.07"/><path d="M1030.47 528.6h19.65M1040.3 514.98v27.23"/><path d="M1073.01 528.2h19.18M1082.6 519.17v18.06"/><path d="M1051.05 533.1h16.69M1059.4 518.71v28.78"/><path d="M1054.89 533.3h17.22M1063.5 526.43v13.75"/><path d="M1068.91 532.7h20.57M1079.2 524.38v16.64"/><path d="M1060.32 534.7h24.37M1072.5 524.38v20.64"/><path d="M1064.87 536.7h18.46M1074.1 521.61v30.18"/><path d="M1072.03 538.3h19.14M1081.6 530.64v15.32"/><path d="M1021.05 536.7h18.29M1030.2 518.99v35.41"/><path d="M1024.43 536.7h17.54M1033.2 529.68v14.05"/><path d="M1029.16 538.1h24.27M1041.3 524.4v27.39"/><path d="M1042.81 538.7h15.17M1050.4 521.43v34.53"/><path d="M1048.69 539.7h13.41M1055.4 525.26v28.88"/><path d="M1050.99 539.1h14.81M1058.4 530.54v17.12"/><path d="M1053.68 541.7h13.44M1060.4 528.77v25.86"/><path d="M1038.39 542.7h22.01M1049.4 532.69v20.02"/><path d="M1040.41 544.8h24.78M1052.8 532.21v25.19"/><path d="M1047.18 546.8h17.64M1056 533.33v26.95"/><path d="M1042.04 546.8h18.72M1051.4 531.7v30.2"/><path d="M1057.16 539.7h24.68M1069.5 523.38v32.63"/><path d="M1068.23 543.7h10.54M1073.5 528.19v31.03"/><path d="M1058.01 544.8h12.97M1064.5 530.03v29.54"/><path d="M1032.9 540.7h10.79M1038.3 532.48v16.44"/><path d="M1031.37 545.2h15.85M1039.3 536.93v16.55"/><path d="M1034.48 545.8h20.43M1044.7 532.6v26.41"/><path d="M1069.67 546.4h19.86M1079.6 529v34.79"/><path d="M1084.09 549.4h11.02M1089.6 536.85v25.1"/><path d="M1084.29 552.2h12.01M1090.3 542.68v19.04"/><path d="M1022.93 548.8h16.53M1031.2 533.64v30.32"/><path d="M1019.37 551.2h21.66M1030.2 538.9v24.59"/><path d="M1009.5 551.8h22.39M1020.7 540.98v21.64"/><path d="M1032.67 551.4h15.26M1040.3 539.99v22.82"/><path d="M1032.62 551.8h24.16M1044.7 536.76v30.07"/><path d="M1035.06 556.8h17.69M1043.9 546.21v21.18"/><path d="M1050.01 549.8h16.77M1058.4 540.21v19.17"/><path d="M1054.94 551.2h18.31M1064.1 545.05v12.31"/><path d="M1054 554.4h25.01M1066.5 545.73v17.33"/><path d="M1054.39 556.4h14.02M1061.4 539.91v32.98"/><path d="M1051.13 557.2h11.34M1056.8 545.35v23.7"/><path d="M1061.69 556.4h13.62M1068.5 548.27v16.25"/><path d="M1067.52 551.8h13.17M1074.1 543.53v16.54"/><path d="M1068.5 550.8h16.2M1076.6 534.47v32.66"/><path d="M1061.99 553.8h25.03M1074.5 539.91v27.77"/><path d="M1014.37 561.5h14.85M1021.8 551.43v20.13"/><path d="M1022.17 561.9h14.06M1029.2 551.7v20.4"/><path d="M1019.72 558.9h22.97M1031.2 548.9v20"/><path d="M1026.73 560.3h22.35M1037.9 548.34v23.92"/><path d="M1035.2 561.5h10.2M1040.3 550.33v22.33"/><path d="M1054.54 562.3h17.12M1063.1 548.01v28.58"/><path d="M1059.13 566.5h13.94M1066.1 556.85v19.3"/><path d="M1064.58 563.7h13.04M1071.1 548.4v30.59"/><path d="M1067.17 567.3h10.67M1072.5 551.51v31.58"/><path d="M1073.2 567.9h18.79M1082.6 553.84v28.13"/><path d="M1076.86 566.3h16.29M1085 551.82v28.97"/><path d="M1080.88 560.1h20.83M1091.3 546.11v27.99"/><path d="M1082.75 562.3h22.71M1094.1 544.61v35.38"/><path d="M1044.17 569.5h18.46M1053.4 563.33v12.33"/><path d="M1047.59 574.6h13.62M1054.4 566.72v15.76"/><path d="M1036.84 578h18.13M1045.9 569.63v16.75"/><path d="M1067.02 579h20.35M1077.2 563.55v30.9"/><path d="M918.5 558h20M928.5 548v20"/><path d="M930.15 536.3h21.1M940.7 527.35v17.9"/><path d="M961.17 548.9h18.47M970.4 531.43v34.93"/><path d="M968.52 553.1h20.56M978.8 542.15v21.9"/><path d="M975.1 551.4h12M981.1 521.4v60"/><path d="M969.79 581.6h10.42M975 565.66v31.88"/><path d="M996.93 590.6h20.34M1007.1 578.89v23.41"/><path d="M1038.79 601.3h23.01M1050.3 584.1v34.41"/><path d="M1038.89 578.3h12.82M1045.3 567.21v22.17"/><path d="M1043.21 569.9h19.98M1053.2 563.67v12.47"/><path d="M1045.53 575.8h17.74M1054.4 559.49v32.62"/><path d="M1046.04 579.8h14.32M1053.2 566.78v26.05"/><path d="M1010.34 551.9h20.93M1020.8 536.36v31.07"/><path d="M1010.25 561.3h23.29M1021.9 547.34v27.92"/><path d="M1029.41 561.3h21.98M1040.4 554.22v14.16"/><path d="M1080.07 586.5h13.86M1087 569.88v33.24"/><path d="M1090.51 581.9h19.39M1100.2 572.83v18.13"/><path d="M1095.79 582.4h16.02M1103.8 571.07v22.66"/><path d="M1093.8 587.3h16M1101.8 580.37v13.85"/><path d="M1100.49 549.8h18.21M1109.6 539.21v21.18"/><path d="M1108.44 565.4h10.92M1113.9 549.45v31.9"/><path d="M1108.59 568.7h12.81M1115 561.79v13.82"/><path d="M1105.96 559.3h25.68M1118.8 543.36v31.88"/><path d="M1114.78 555h13.63M1121.6 538.46v33.09"/><path d="M1110.18 544.5h23.83M1122.1 536.14v16.73"/><path d="M1085.73 548.1h22.33M1096.9 540.94v14.31"/><path d="M1078.51 549.3h22.98M1090 538.85v20.91"/><path d="M1072.63 546.1h13.93M1079.6 528.95v34.3"/><path d="M1072.9 538.2h16.61M1081.2 524.77v26.86"/><path d="M1071.17 533h16.26M1079.3 516.53v32.94"/><path d="M1067.38 536.05h19.04M1076.9 520.03v32.03"/><path d="M1000.22 533.47h19.5M1009.97 525.76v15.42"/><path d="M1032.06 533.83h14.19M1039.15 518.53v30.6"/><path d="M1045.27 530.65h19.32M1054.93 518.97v23.36"/><path d="M1037.44 535.95h18.81M1046.84 524.52v22.85"/><path d="M1046.79 552.13h18.71M1056.14 543.54v17.17"/><path d="M1048.33 542.73h13.31M1054.98 533.65v18.17"/><path d="M1052 546.66h17.72M1060.86 533.4v26.52"/><path d="M1037.35 524.73h16.34M1045.52 511.65v26.16"/><path d="M1058.05 551.95h10.92M1063.52 535.29v33.33"/><path d="M1051.69 533.86h24.56M1063.96 518.91v29.9"/><path d="M1075.87 550.45h12.35M1082.05 539.91v21.09"/><path d="M1031.77 545.66h22.32M1042.93 531.71v27.9"/><path d="M1025.71 543.03h25.12M1038.27 536.11v13.83"/><path d="M1057.37 552.77h12.8M1063.77 537.08v31.36"/><path d="M947.36 488.07h11.02M952.87 476.73v22.69"/><path d="M938.11 503.16h25.17M950.7 491.56v23.18"/><path d="M917.03 476.08h11.78M922.92 458.37v35.42"/><path d="M944.35 499.27h19.46M954.08 487.21v24.11"/><path d="M949.85 496.74h20.69M960.2 486.75v19.98"/><path d="M966.4 505.3h11.45M972.13 496.84v16.93"/><path d="M955.56 523.3h19.24M965.18 511.72v23.14"/><path d="M933.21 478.75h24.77M945.59 470.23v17.04"/><path d="M929.62 496.85h14.12M936.68 482.91v27.88"/><path d="M931.68 490.14h17.87M940.62 482.66v14.95"/><path d="M937.54 477.59h21.65M948.36 469.26v16.66"/><path d="M922.4 486.28h21.28M933.04 480.28v12"/></g>
<path d="M884.5 465.5 L891.23 468.42 L897.96 471.33 L904.69 474.24 L911.42 477.15 L918.15 480.05 L924.88 482.95 L931.61 485.84 L938.34 488.72 L945.07 491.6 L951.8 494.46 L958.53 497.32 L965.26 500.15 L971.99 502.97 L978.72 505.78 L985.45 508.56 L992.18 511.31 L998.91 514.03 L1005.64 516.73 L1012.37 519.39 L1019.1 522.02 L1025.83 524.62 L1032.56 527.2 L1039.29 529.74 L1046.02 532.27 L1052.75 534.77 L1059.48 537.26 L1066.21 539.73 L1072.94 542.19 L1079.67 544.64 L1086.4 547.08 L1093.13 549.51 L1099.86 551.94 L1106.59 554.36 L1113.32 556.78 L1120.05 559.19 L1126.78 561.6 L1133.51 564 L1140.24 566.4 L1146.97 568.8 L1153.7 571.2 L1153.7 584.4 L1146.97 581.48 L1140.24 578.57 L1133.51 575.65 L1126.78 572.74 L1120.05 569.84 L1113.32 566.93 L1106.59 564.03 L1099.86 561.14 L1093.13 558.25 L1086.4 555.37 L1079.67 552.49 L1072.94 549.63 L1066.21 546.77 L1059.48 543.93 L1052.75 541.1 L1046.02 538.29 L1039.29 535.5 L1032.56 532.73 L1025.83 529.99 L1019.1 527.28 L1012.37 524.59 L1005.64 521.94 L998.91 519.32 L992.18 516.73 L985.45 514.17 L978.72 511.63 L971.99 509.12 L965.26 506.63 L958.53 504.15 L951.8 501.69 L945.07 499.24 L938.34 496.8 L931.61 494.36 L924.88 491.94 L918.15 489.52 L911.42 487.11 L904.69 484.7 L897.96 482.3 L891.23 479.9 L884.5 477.5 Z" fill="#2ca02c" fill-opacity="0.4" stroke="none"/>
<path d="M884.5 471.5L1153.7 577.8" stroke="#2ca02c" stroke-width="3.2" stroke-dasharray="10 4.4" fill="none"/>
<g fill="#2ca02c" stroke="#000" stroke-width="0.6"><circle cx="962.3" cy="418.5" r="1.95"/><circle cx="981.3" cy="391.9" r="1.95"/><circle cx="1035.9" cy="437.5" r="1.95"/><circle cx="1085.1" cy="478.2" r="1.95"/><circle cx="1092" cy="503.4" r="1.95"/><circle cx="927.2" cy="556.7" r="1.95"/><circle cx="974.8" cy="581.2" r="1.95"/><circle cx="1006.6" cy="590.1" r="1.95"/><circle cx="1050.1" cy="601.3" r="1.95"/><circle cx="1120.5" cy="528.3" r="1.95"/><circle cx="1153.7" cy="575.6" r="1.95"/><circle cx="977.4" cy="448.8" r="1.95"/><circle cx="969.1" cy="457.4" r="1.95"/><circle cx="976.4" cy="462.4" r="1.95"/><circle cx="988.9" cy="465.1" r="1.95"/><circle cx="884.5" cy="476.6" r="1.95"/><circle cx="885.7" cy="491.7" r="1.95"/><circle cx="894.8" cy="497.7" r="1.95"/><circle cx="910.3" cy="477.6" r="1.95"/><circle cx="908.3" cy="487.2" r="1.95"/><circle cx="911.9" cy="491.1" r="1.95"/><circle cx="920.4" cy="479.2" r="1.95"/><circle cx="927.4" cy="475.5" r="1.95"/><circle cx="934.9" cy="474.1" r="1.95"/><circle cx="935.5" cy="477.6" r="1.95"/><circle cx="939.5" cy="476.1" r="1.95"/><circle cx="940.5" cy="474.5" r="1.95"/><circle cx="944.5" cy="477.6" r="1.95"/><circle cx="947" cy="480.2" r="1.95"/><circle cx="950.6" cy="480.6" r="1.95"/><circle cx="951.6" cy="484.2" r="1.95"/><circle cx="949.6" cy="484.2" r="1.95"/><circle cx="945.5" cy="484.2" r="1.95"/><circle cx="931.4" cy="481" r="1.95"/><circle cx="938.5" cy="482.6" r="1.95"/><circle cx="932.4" cy="480.2" r="1.95"/><circle cx="956.6" cy="480.2" r="1.95"/><circle cx="968.1" cy="483" r="1.95"/><circle cx="974.8" cy="482.6" r="1.95"/><circle cx="959.6" cy="486.6" r="1.95"/><circle cx="962.3" cy="485.6" r="1.95"/><circle cx="927.4" cy="484.6" r="1.95"/><circle cx="924.8" cy="488.6" r="1.95"/><circle cx="928" cy="489.6" r="1.95"/><circle cx="941.5" cy="488.6" r="1.95"/><circle cx="983.2" cy="487" r="1.95"/><circle cx="988.5" cy="491.7" r="1.95"/><circle cx="930.4" cy="494.7" r="1.95"/><circle cx="935.5" cy="495.1" r="1.95"/><circle cx="938.1" cy="498.7" r="1.95"/><circle cx="934.1" cy="500.7" r="1.95"/><circle cx="936.5" cy="501.3" r="1.95"/><circle cx="939.5" cy="496.7" r="1.95"/><circle cx="942.5" cy="495.1" r="1.95"/><circle cx="951.6" cy="496.3" r="1.95"/><circle cx="949.6" cy="498.7" r="1.95"/><circle cx="963.7" cy="493.7" r="1.95"/><circle cx="971.3" cy="495.1" r="1.95"/><circle cx="980.8" cy="494.7" r="1.95"/><circle cx="985.2" cy="498.7" r="1.95"/><circle cx="991.9" cy="500.7" r="1.95"/><circle cx="944.1" cy="501.7" r="1.95"/><circle cx="945.5" cy="503.3" r="1.95"/><circle cx="959" cy="503.1" r="1.95"/><circle cx="962.3" cy="499.7" r="1.95"/><circle cx="963.7" cy="502.3" r="1.95"/><circle cx="965.7" cy="504.4" r="1.95"/><circle cx="968.7" cy="501.7" r="1.95"/><circle cx="972.7" cy="500.7" r="1.95"/><circle cx="970.3" cy="502.3" r="1.95"/><circle cx="915.9" cy="503.1" r="1.95"/><circle cx="931.4" cy="504.4" r="1.95"/><circle cx="934.9" cy="508.8" r="1.95"/><circle cx="940.1" cy="510.4" r="1.95"/><circle cx="939.1" cy="514.4" r="1.95"/><circle cx="912.7" cy="511.8" r="1.95"/><circle cx="924" cy="512.4" r="1.95"/><circle cx="929" cy="515.4" r="1.95"/><circle cx="981.2" cy="505.2" r="1.95"/><circle cx="990.9" cy="504.8" r="1.95"/><circle cx="973.1" cy="507.8" r="1.95"/><circle cx="950.6" cy="517.2" r="1.95"/><circle cx="961.7" cy="517.2" r="1.95"/><circle cx="946.6" cy="520.5" r="1.95"/><circle cx="934.9" cy="522.3" r="1.95"/><circle cx="981.8" cy="521.9" r="1.95"/><circle cx="988.9" cy="510.8" r="1.95"/><circle cx="990.9" cy="514.8" r="1.95"/><circle cx="992.9" cy="512.8" r="1.95"/><circle cx="958.6" cy="524.9" r="1.95"/><circle cx="961.1" cy="524.9" r="1.95"/><circle cx="976.8" cy="526.9" r="1.95"/><circle cx="976.8" cy="529.9" r="1.95"/><circle cx="960.3" cy="532" r="1.95"/><circle cx="961.7" cy="533" r="1.95"/><circle cx="990.5" cy="534.6" r="1.95"/><circle cx="940.5" cy="536" r="1.95"/><circle cx="980.4" cy="536.6" r="1.95"/><circle cx="1004.6" cy="500.3" r="1.95"/><circle cx="1008.6" cy="501.1" r="1.95"/><circle cx="1005.4" cy="485.6" r="1.95"/><circle cx="1008" cy="487.6" r="1.95"/><circle cx="1004.6" cy="509.8" r="1.95"/><circle cx="1007" cy="511.8" r="1.95"/><circle cx="1002" cy="522.5" r="1.95"/><circle cx="995.9" cy="525.9" r="1.95"/><circle cx="1004.6" cy="529.9" r="1.95"/><circle cx="1091.1" cy="504.5" r="1.95"/><circle cx="1093.1" cy="503.5" r="1.95"/><circle cx="1122.3" cy="544.4" r="1.95"/><circle cx="1120.9" cy="554.8" r="1.95"/><circle cx="1118.9" cy="559.5" r="1.95"/><circle cx="1109.8" cy="549.8" r="1.95"/><circle cx="1096.7" cy="548.2" r="1.95"/><circle cx="1113.8" cy="565.9" r="1.95"/><circle cx="1114.8" cy="568.5" r="1.95"/><circle cx="1006" cy="485.9" r="1.95"/><circle cx="1010.1" cy="486.7" r="1.95"/><circle cx="1009.7" cy="491.4" r="1.95"/><circle cx="1025.2" cy="488.3" r="1.95"/><circle cx="1029.6" cy="486.7" r="1.95"/><circle cx="1014.7" cy="494.8" r="1.95"/><circle cx="1004" cy="500.8" r="1.95"/><circle cx="1009.1" cy="501.4" r="1.95"/><circle cx="1015.5" cy="502.5" r="1.95"/><circle cx="1013.1" cy="506.9" r="1.95"/><circle cx="1035.3" cy="506.1" r="1.95"/><circle cx="1005" cy="510.1" r="1.95"/><circle cx="1007.1" cy="512.5" r="1.95"/><circle cx="1010.5" cy="516.1" r="1.95"/><circle cx="1013.5" cy="520.2" r="1.95"/><circle cx="1002.4" cy="522.6" r="1.95"/><circle cx="1004" cy="529.6" r="1.95"/><circle cx="1005" cy="531.7" r="1.95"/><circle cx="1014.5" cy="529.2" r="1.95"/><circle cx="1012.1" cy="533.7" r="1.95"/><circle cx="1052" cy="510.5" r="1.95"/><circle cx="1062" cy="512.9" r="1.95"/><circle cx="1071.5" cy="512.9" r="1.95"/><circle cx="1054" cy="517.6" r="1.95"/><circle cx="1046.7" cy="521.2" r="1.95"/><circle cx="1057" cy="524.2" r="1.95"/><circle cx="1058.8" cy="526.6" r="1.95"/><circle cx="1066.5" cy="524.6" r="1.95"/><circle cx="1072.1" cy="523" r="1.95"/><circle cx="1036.9" cy="525" r="1.95"/><circle cx="1036.3" cy="527.6" r="1.95"/><circle cx="1040.3" cy="528.6" r="1.95"/><circle cx="1082.6" cy="528.2" r="1.95"/><circle cx="1059.4" cy="533.1" r="1.95"/><circle cx="1063.5" cy="533.3" r="1.95"/><circle cx="1079.2" cy="532.7" r="1.95"/><circle cx="1072.5" cy="534.7" r="1.95"/><circle cx="1074.1" cy="536.7" r="1.95"/><circle cx="1081.6" cy="538.3" r="1.95"/><circle cx="1030.2" cy="536.7" r="1.95"/><circle cx="1033.2" cy="536.7" r="1.95"/><circle cx="1041.3" cy="538.1" r="1.95"/><circle cx="1050.4" cy="538.7" r="1.95"/><circle cx="1055.4" cy="539.7" r="1.95"/><circle cx="1058.4" cy="539.1" r="1.95"/><circle cx="1060.4" cy="541.7" r="1.95"/><circle cx="1049.4" cy="542.7" r="1.95"/><circle cx="1052.8" cy="544.8" r="1.95"/><circle cx="1056" cy="546.8" r="1.95"/><circle cx="1051.4" cy="546.8" r="1.95"/><circle cx="1069.5" cy="539.7" r="1.95"/><circle cx="1073.5" cy="543.7" r="1.95"/><circle cx="1064.5" cy="544.8" r="1.95"/><circle cx="1038.3" cy="540.7" r="1.95"/><circle cx="1039.3" cy="545.2" r="1.95"/><circle cx="1044.7" cy="545.8" r="1.95"/><circle cx="1079.6" cy="546.4" r="1.95"/><circle cx="1089.6" cy="549.4" r="1.95"/><circle cx="1090.3" cy="552.2" r="1.95"/><circle cx="1031.2" cy="548.8" r="1.95"/><circle cx="1030.2" cy="551.2" r="1.95"/><circle cx="1020.7" cy="551.8" r="1.95"/><circle cx="1040.3" cy="551.4" r="1.95"/><circle cx="1044.7" cy="551.8" r="1.95"/><circle cx="1043.9" cy="556.8" r="1.95"/><circle cx="1058.4" cy="549.8" r="1.95"/><circle cx="1064.1" cy="551.2" r="1.95"/><circle cx="1066.5" cy="554.4" r="1.95"/><circle cx="1061.4" cy="556.4" r="1.95"/><circle cx="1056.8" cy="557.2" r="1.95"/><circle cx="1068.5" cy="556.4" r="1.95"/><circle cx="1074.1" cy="551.8" r="1.95"/><circle cx="1076.6" cy="550.8" r="1.95"/><circle cx="1074.5" cy="553.8" r="1.95"/><circle cx="1021.8" cy="561.5" r="1.95"/><circle cx="1029.2" cy="561.9" r="1.95"/><circle cx="1031.2" cy="558.9" r="1.95"/><circle cx="1037.9" cy="560.3" r="1.95"/><circle cx="1040.3" cy="561.5" r="1.95"/><circle cx="1063.1" cy="562.3" r="1.95"/><circle cx="1066.1" cy="566.5" r="1.95"/><circle cx="1071.1" cy="563.7" r="1.95"/><circle cx="1072.5" cy="567.3" r="1.95"/><circle cx="1082.6" cy="567.9" r="1.95"/><circle cx="1085" cy="566.3" r="1.95"/><circle cx="1091.3" cy="560.1" r="1.95"/><circle cx="1094.1" cy="562.3" r="1.95"/><circle cx="1053.4" cy="569.5" r="1.95"/><circle cx="1054.4" cy="574.6" r="1.95"/><circle cx="1045.9" cy="578" r="1.95"/><circle cx="1077.2" cy="579" r="1.95"/><circle cx="928.5" cy="558" r="1.95"/><circle cx="940.7" cy="536.3" r="1.95"/><circle cx="970.4" cy="548.9" r="1.95"/><circle cx="978.8" cy="553.1" r="1.95"/><circle cx="981.1" cy="551.4" r="1.95"/><circle cx="975" cy="581.6" r="1.95"/><circle cx="1007.1" cy="590.6" r="1.95"/><circle cx="1050.3" cy="601.3" r="1.95"/><circle cx="1045.3" cy="578.3" r="1.95"/><circle cx="1053.2" cy="569.9" r="1.95"/><circle cx="1054.4" cy="575.8" r="1.95"/><circle cx="1053.2" cy="579.8" r="1.95"/><circle cx="1020.8" cy="551.9" r="1.95"/><circle cx="1021.9" cy="561.3" r="1.95"/><circle cx="1040.4" cy="561.3" r="1.95"/><circle cx="1087" cy="586.5" r="1.95"/><circle cx="1100.2" cy="581.9" r="1.95"/><circle cx="1103.8" cy="582.4" r="1.95"/><circle cx="1101.8" cy="587.3" r="1.95"/><circle cx="1109.6" cy="549.8" r="1.95"/><circle cx="1113.9" cy="565.4" r="1.95"/><circle cx="1115" cy="568.7" r="1.95"/><circle cx="1118.8" cy="559.3" r="1.95"/><circle cx="1121.6" cy="555" r="1.95"/><circle cx="1122.1" cy="544.5" r="1.95"/><circle cx="1096.9" cy="548.1" r="1.95"/><circle cx="1090" cy="549.3" r="1.95"/><circle cx="1079.6" cy="546.1" r="1.95"/><circle cx="1081.2" cy="538.2" r="1.95"/><circle cx="1079.3" cy="533" r="1.95"/><circle cx="1076.9" cy="536.05" r="1.95"/><circle cx="1009.97" cy="533.47" r="1.95"/><circle cx="1039.15" cy="533.83" r="1.95"/><circle cx="1054.93" cy="530.65" r="1.95"/><circle cx="1046.84" cy="535.95" r="1.95"/><circle cx="1056.14" cy="552.13" r="1.95"/><circle cx="1054.98" cy="542.73" r="1.95"/><circle cx="1060.86" cy="546.66" r="1.95"/><circle cx="1045.52" cy="524.73" r="1.95"/><circle cx="1063.52" cy="551.95" r="1.95"/><circle cx="1063.96" cy="533.86" r="1.95"/><circle cx="1082.05" cy="550.45" r="1.95"/><circle cx="1042.93" cy="545.66" r="1.95"/><circle cx="1038.27" cy="543.03" r="1.95"/><circle cx="1063.77" cy="552.77" r="1.95"/><circle cx="952.87" cy="488.07" r="1.95"/><circle cx="950.7" cy="503.16" r="1.95"/><circle cx="922.92" cy="476.08" r="1.95"/><circle cx="954.08" cy="499.27" r="1.95"/><circle cx="960.2" cy="496.74" r="1.95"/><circle cx="972.13" cy="505.3" r="1.95"/><circle cx="965.18" cy="523.3" r="1.95"/><circle cx="945.59" cy="478.75" r="1.95"/><circle cx="936.68" cy="496.85" r="1.95"/><circle cx="940.62" cy="490.14" r="1.95"/><circle cx="948.36" cy="477.59" r="1.95"/><circle cx="933.04" cy="486.28" r="1.95"/></g>
</g>
<clipPath id="c7"><rect x="1242.4" y="340" width="322.9" height="282"/></clipPath>
<g clip-path="url(#c7)">
<g stroke="#1f77b4" stroke-opacity="0.32" stroke-width="1.3" fill="none"><path d="M1312.6 584.4h24M1324.6 562.4v44"/><path d="M1250.5 436.7h36M1268.5 428.7v16"/><path d="M1315.11 392.4h35.38M1332.8 372.67v39.45"/><path d="M1309.35 397.1h35.7M1327.2 381.06v32.08"/><path d="M1314.3 402.7h30.61M1329.6 389.79v25.82"/><path d="M1284.42 404.2h29.56M1299.2 390.62v27.17"/><path d="M1290.81 408.5h24.77M1303.2 394.44v28.12"/><path d="M1301.35 408.2h19.09M1310.9 400.25v15.9"/><path d="M1302.23 410.3h23.13M1313.8 390.79v39.02"/><path d="M1306.01 405h30.79M1321.4 386.03v37.94"/><path d="M1367.6 403h30M1382.6 383v40"/><path d="M1373.88 408.7h33.23M1390.5 391.68v34.04"/><path d="M1361.95 411.4h28.1M1376 396.44v29.91"/><path d="M1350.54 419h16.72M1358.9 410.74v16.53"/><path d="M1290.62 424.5h16.36M1298.8 411.82v25.36"/><path d="M1312.94 422.1h16.92M1321.4 412.98v18.25"/><path d="M1311.67 426.4h18.45M1320.9 407.19v38.42"/><path d="M1314.42 426.1h23.15M1326 416.11v19.98"/><path d="M1293.36 427.2h35.48M1311.1 412.34v29.72"/><path d="M1275.3 429.2h23.79M1287.2 418.78v20.84"/><path d="M1272.55 430.3h37.51M1291.3 421.08v18.44"/><path d="M1292.88 432.2h17.05M1301.4 419.83v24.74"/><path d="M1290.34 430h32.72M1306.7 414.06v31.89"/><path d="M1319.19 433h18.21M1328.3 420.36v25.28"/><path d="M1321.98 432.4h29.44M1336.7 416v32.81"/><path d="M1326.22 424.8h32.76M1342.6 412.03v25.53"/><path d="M1326.07 430.8h34.06M1343.1 417.35v26.9"/><path d="M1341.59 426.7h18.82M1351 417.83v17.75"/><path d="M1345.4 430.3h18.99M1354.9 414.39v31.82"/><path d="M1351.51 426.1h16.39M1359.7 416.18v19.84"/><path d="M1350.42 432.4h39.75M1370.3 414.41v35.98"/><path d="M1297.06 437.9h28.07M1311.1 429.76v16.28"/><path d="M1301.3 441.7h24.99M1313.8 431.94v19.51"/><path d="M1334.33 442.2h22.14M1345.4 428.58v27.23"/><path d="M1330.85 444.1h37.1M1349.4 435.48v17.23"/><path d="M1334.28 445.7h31.25M1349.9 436.97v17.46"/><path d="M1320.4 446.6h20M1330.4 406.6v80"/><path d="M1324.23 445.1h19.55M1334 431.39v27.43"/><path d="M1358.64 446.2h35.32M1376.3 435.62v21.15"/><path d="M1336.7 456.4h20M1346.7 416.4v80"/><path d="M1340.9 483.3h28M1354.9 465.3v36"/><path d="M1413.71 400.9h30.97M1429.2 382.04v37.71"/><path d="M1362.56 503.8h29.88M1377.5 492.01v23.58"/><path d="M1370.77 509.9h23.26M1382.4 493.17v33.46"/><path d="M1367.12 513.2h32.16M1383.2 497.64v31.13"/><path d="M1484.3 416.3h24M1496.3 404.3v24"/><path d="M1450.38 423.8h31.84M1466.3 408.55v30.51"/><path d="M1467.09 426.9h27.83M1481 407.29v39.21"/><path d="M1485.3 454.8h24M1497.3 448.8v12"/><path d="M1394.12 429.3h18.56M1403.4 421.61v15.37"/><path d="M1423.98 427.9h27.84M1437.9 408.98v37.83"/><path d="M1439.79 429.6h26.42M1453 410.8v37.6"/><path d="M1432.3 435.8h26.19M1445.4 422.01v27.58"/><path d="M1435.34 439h33.72M1452.2 419.91v38.18"/><path d="M1445.28 437.8h28.05M1459.3 425.26v25.07"/><path d="M1444.25 443.2h38.71M1463.6 430.94v24.51"/><path d="M1449.29 442.7h30.82M1464.7 428.48v28.45"/><path d="M1447.38 446.7h30.25M1462.5 438.95v15.49"/><path d="M1395.13 438.8h31.54M1410.9 423.69v30.22"/><path d="M1397.06 439h37.48M1415.8 420.78v36.44"/><path d="M1402.62 442.4h31.75M1418.5 427.99v28.82"/><path d="M1404.37 441.3h33.86M1421.3 431.61v19.38"/><path d="M1392.58 445.1h16.44M1400.8 429.18v31.84"/><path d="M1385.99 449.2h25.42M1398.7 436.92v24.55"/><path d="M1390.46 452.4h19.68M1400.3 442.85v19.1"/><path d="M1387.18 451.4h29.44M1401.9 439.06v24.67"/><path d="M1392.25 445.6h38.9M1411.7 431.39v28.43"/><path d="M1406.12 448.3h23.37M1417.8 436.91v22.77"/><path d="M1401.56 451.9h16.48M1409.8 434.51v34.78"/><path d="M1405.67 453h16.06M1413.7 436.28v33.44"/><path d="M1420.02 451.9h17.56M1428.8 443.07v17.66"/><path d="M1420.06 448h22.07M1431.1 437.27v21.45"/><path d="M1423.99 448.8h19.01M1433.5 436.53v24.53"/><path d="M1427.45 444h17.5M1436.2 436.19v15.63"/><path d="M1426.31 447.7h18.19M1435.4 436.83v21.73"/><path d="M1410.44 455.6h17.73M1419.3 440.3v30.59"/><path d="M1405.17 460.6h29.06M1419.7 442.65v35.89"/><path d="M1395.76 459.4h16.88M1404.2 444.17v30.47"/><path d="M1396.69 460.6h19.23M1406.3 440.89v39.42"/><path d="M1424.85 455.9h19.9M1434.8 445.81v20.18"/><path d="M1416.58 458.3h38.63M1435.9 439.8v36.99"/><path d="M1428.25 456.4h35.9M1446.2 449.23v14.33"/><path d="M1441.92 456.2h16.95M1450.4 448.92v14.56"/><path d="M1433.83 462.2h28.55M1448.1 443.05v38.29"/><path d="M1453.83 458.3h19.54M1463.6 447.17v22.25"/><path d="M1450.06 459.4h27.68M1463.9 445.14v28.52"/><path d="M1409.15 464.3h38.51M1428.4 453.61v21.39"/><path d="M1418.08 468.1h24.44M1430.3 452.12v31.96"/><path d="M1394.1 469.3h25.01M1406.6 458.18v22.25"/><path d="M1384.09 476.1h29.21M1398.7 466.51v19.18"/><path d="M1405.55 474.1h24.29M1417.7 454.32v39.56"/><path d="M1411.36 473h18.28M1420.5 463.33v19.33"/><path d="M1412.5 474.9h31.01M1428 464.16v21.48"/><path d="M1426.23 473.3h28.13M1440.3 457.27v32.05"/><path d="M1439.94 472.5h19.71M1449.8 463.29v18.41"/><path d="M1425.72 477.2h21.36M1436.4 460.87v32.65"/><path d="M1422.16 481.2h30.68M1437.5 461.28v39.84"/><path d="M1431.68 480.4h24.24M1443.8 466.92v26.96"/><path d="M1396.12 480.7h20.35M1406.3 461.13v39.13"/><path d="M1397.02 485.9h32.77M1413.4 470.48v30.85"/><path d="M1410.15 486.3h20.51M1420.4 468.78v35.05"/><path d="M1411.05 482.8h36.1M1429.1 474.07v17.46"/><path d="M1390.69 487h19.22M1400.3 468.72v36.55"/><path d="M1470.96 488.3h28.88M1485.4 471.46v33.68"/><path d="M1412.66 488h38.48M1431.9 470.91v34.18"/><path d="M1426.29 490.7h19.82M1436.2 481.44v18.52"/><path d="M1425.71 491.5h32.99M1442.2 476.31v30.38"/><path d="M1429.27 489.1h36.87M1447.7 472.67v32.87"/><path d="M1442.36 491.5h23.48M1454.1 476.55v29.9"/><path d="M1441.05 493.1h30.69M1456.4 473.64v38.93"/><path d="M1440.65 491.9h39.5M1460.4 478.22v27.35"/><path d="M1451.67 489.1h26.87M1465.1 473.55v31.1"/><path d="M1453.38 492.6h28.25M1467.5 479.81v25.58"/><path d="M1460.14 492h20.52M1470.4 482.79v18.42"/><path d="M1434.01 495.4h28.99M1448.5 483.06v24.68"/><path d="M1437.21 498h28.37M1451.4 481.43v33.14"/><path d="M1444.9 495.4h19.99M1454.9 484.94v20.92"/><path d="M1440.86 497.3h34.87M1458.3 486.31v21.98"/><path d="M1449.76 496.2h24.49M1462 477.48v37.45"/><path d="M1466.42 496.5h16.36M1474.6 484.72v23.56"/><path d="M1470.1 493.8h20.21M1480.2 474.04v39.51"/><path d="M1469.68 497h38.45M1488.9 478.24v37.52"/><path d="M1477.89 497h28.22M1492 482.59v28.82"/><path d="M1483.14 496.2h30.53M1498.4 479.73v32.94"/><path d="M1481.32 499.4h34.95M1498.8 481.14v36.52"/><path d="M1483.54 501.8h30.51M1498.8 493.92v15.76"/><path d="M1495.23 498.3h33.14M1511.8 485.87v24.87"/><path d="M1497.63 501.8h28.34M1511.8 484.99v33.62"/><path d="M1509.9 495.4h38M1528.9 479.71v31.39"/><path d="M1407.71 497h30.97M1423.2 477.03v39.94"/><path d="M1423.7 497.8h16.39M1431.9 481.47v32.65"/><path d="M1403.31 500.5h18.38M1412.5 486.28v28.44"/><path d="M1408.63 502.6h22.15M1419.7 490.86v23.47"/><path d="M1420.69 496.7h36.01M1438.7 485.48v22.45"/><path d="M1429.68 502.1h37.64M1448.5 486.93v30.34"/><path d="M1425.76 503.3h37.67M1444.6 488.09v30.42"/><path d="M1446.68 500.2h30.64M1462 486.01v28.37"/><path d="M1445.4 501.4h37.99M1464.4 494.28v14.25"/><path d="M1458.17 502.1h18.66M1467.5 492.27v19.67"/><path d="M1451.19 503.3h37.41M1469.9 483.77v39.06"/><path d="M1456.63 504.9h20.14M1466.7 494.18v21.44"/><path d="M1454.66 506.5h27.28M1468.3 496.54v19.93"/><path d="M1467.76 503.7h21.09M1478.3 494.32v18.77"/><path d="M1467.22 503.8h35.37M1484.9 494.99v17.62"/><path d="M1477.31 503.7h30.39M1492.5 485.55v36.3"/><path d="M1475.07 506.5h21.27M1485.7 493.94v25.13"/><path d="M1479.9 507.3h16.4M1488.1 498.78v17.04"/><path d="M1466.2 508.9h26.39M1479.4 493.87v30.06"/><path d="M1402.45 507.3h20.91M1412.9 488.36v37.89"/><path d="M1387.82 509.7h29.75M1402.7 489.72v39.96"/><path d="M1406.2 510h27.79M1420.1 495.35v29.31"/><path d="M1406.81 511.3h32.18M1422.9 495.97v30.66"/><path d="M1420.64 505.7h29.92M1435.6 490.7v29.99"/><path d="M1428.3 505.7h22.19M1439.4 489.24v32.91"/><path d="M1439.91 506.8h33.98M1456.9 491.94v29.72"/><path d="M1445.53 508.9h24.34M1457.7 497.24v23.33"/><path d="M1434.09 509.7h22.63M1445.4 502.17v15.06"/><path d="M1433.13 512h29.14M1447.7 493.68v36.65"/><path d="M1426.05 514.4h29.1M1440.6 494.65v39.49"/><path d="M1430.46 514.4h29.89M1445.4 506.96v14.89"/><path d="M1437.22 516.8h30.56M1452.5 509.48v14.64"/><path d="M1456.08 509.7h24.44M1468.3 489.82v39.76"/><path d="M1451.6 513.6h36.6M1469.9 501.53v24.13"/><path d="M1467.51 512h20.59M1477.8 504.08v15.83"/><path d="M1472.14 510h19.32M1481.8 500.11v19.78"/><path d="M1468.02 510h36.37M1486.2 498.54v22.93"/><path d="M1472.89 510.5h36.82M1491.3 491.37v38.25"/><path d="M1474.5 514.4h39.81M1494.4 503.27v22.26"/><path d="M1481.24 512.8h34.33M1498.4 497v31.59"/><path d="M1499.17 508.4h19.66M1509 491.25v34.3"/><path d="M1494.71 515.7h30.98M1510.2 507.31v16.78"/><path d="M1507.46 517.3h26.07M1520.5 506.45v21.69"/><path d="M1413.91 517.3h27.57M1427.7 507.32v19.96"/><path d="M1422.45 517.3h20.51M1432.7 510.17v14.25"/><path d="M1446.13 514.4h31.73M1462 503.56v21.68"/><path d="M1455.81 515.2h23.38M1467.5 499.93v30.55"/><path d="M1396.13 526.3h33.33M1412.8 513.94v24.73"/><path d="M1397.06 529.5h39.29M1416.7 520.52v17.97"/><path d="M1396.4 532.5h21.6M1407.2 515.25v34.49"/><path d="M1410.06 534.8h25.89M1423 525.85v17.89"/><path d="M1410.34 522h34.93M1427.8 513.98v16.04"/><path d="M1411.91 522.8h36.98M1430.4 511.55v22.51"/><path d="M1411.49 525.5h34.23M1428.6 513.49v24.02"/><path d="M1410.34 529h28.93M1424.8 518.21v21.58"/><path d="M1410.47 529.9h36.27M1428.6 518.15v23.49"/><path d="M1425.45 527.2h18.69M1434.8 508.06v38.29"/><path d="M1425.22 525.5h34.96M1442.7 514.38v22.25"/><path d="M1431.23 527.2h26.35M1444.4 514.81v24.77"/><path d="M1432.57 529h20.27M1442.7 511.69v34.62"/><path d="M1428.74 522h34.12M1445.8 504.65v34.7"/><path d="M1421.46 536.9h20.28M1431.6 525.13v23.55"/><path d="M1434.06 531.6h32.28M1450.2 523.31v16.57"/><path d="M1439.6 522.5h34.2M1456.7 511.08v22.83"/><path d="M1453.98 523.2h16.03M1462 511.72v22.95"/><path d="M1440.96 530.7h37.89M1459.9 518.98v23.43"/><path d="M1451.97 529.9h23.65M1463.8 521.44v16.92"/><path d="M1453.82 528.1h25.17M1466.4 519.85v16.5"/><path d="M1457.36 525.5h16.28M1465.5 510.13v30.75"/><path d="M1444.45 514.9h35.11M1462 502.73v24.33"/><path d="M1448.03 516.7h38.54M1467.3 503.2v27.01"/><path d="M1457.03 516.7h27.54M1470.8 503.42v26.56"/><path d="M1453.83 535.1h37.34M1472.5 521.43v27.33"/><path d="M1457.92 540h25.76M1470.8 529.16v21.67"/><path d="M1463.47 525.5h28.06M1477.5 510.74v29.52"/><path d="M1468.61 525.5h26.58M1481.9 506.79v37.42"/><path d="M1479.64 526.3h16.72M1488 513.56v25.48"/><path d="M1481.03 522h18.14M1490.1 510.24v23.52"/><path d="M1476.8 522h36.4M1495 502.37v39.27"/><path d="M1508.48 517.6h24.04M1520.5 502.41v30.39"/><path d="M1527.67 517.6h21.45M1538.4 510.03v15.15"/><path d="M1489.2 533h16.61M1497.5 518.11v29.77"/><path d="M1487.03 529.9h29.74M1501.9 512.2v35.4"/><path d="M1492.11 527.6h33.98M1509.1 518.05v19.1"/><path d="M1468.95 537.8h17.69M1477.8 521.12v33.36"/><path d="M1471.33 532.5h21.73M1482.2 515.08v34.84"/><path d="M1423.66 540.7h29.28M1438.3 523.03v35.35"/><path d="M1434.9 542.5h20.2M1445 530.86v23.29"/><path d="M1425.72 547.1h37.36M1444.4 538.61v16.98"/><path d="M1431.23 547.4h28.13M1445.3 534.88v25.04"/><path d="M1408.15 547.4h38.5M1427.4 537.94v18.93"/><path d="M1417.78 546h31.63M1433.6 536.89v18.22"/><path d="M1419.27 549.2h26.86M1432.7 537.55v23.3"/><path d="M1424.61 550.1h20.38M1434.8 533.46v33.28"/><path d="M1439.94 546h26.52M1453.2 529.56v32.88"/><path d="M1442.58 542.5h37.04M1461.1 533.96v17.08"/><path d="M1442.87 547.8h38.26M1462 528.29v39.02"/><path d="M1427.16 553h26.88M1440.6 545.56v14.88"/><path d="M1432.99 552.3h22.21M1444.1 543.94v16.72"/><path d="M1460.35 540h20.1M1470.4 529.42v21.17"/><path d="M1458.72 548.8h29.36M1473.4 540.55v16.5"/><path d="M1451.5 552.3h38.61M1470.8 539.23v26.15"/><path d="M1462.35 555.8h22.09M1473.4 548.52v14.56"/><path d="M1456.66 559.7h30.08M1471.7 542.23v34.94"/><path d="M1463.02 543.9h36.55M1481.3 528.85v30.1"/><path d="M1468.56 545.7h29.08M1483.1 538.44v14.52"/><path d="M1475.97 546.5h25.45M1488.7 526.65v39.71"/><path d="M1453.68 554.1h20.24M1463.8 536.34v35.52"/><path d="M1447.2 558.8h31.4M1462.9 543.02v31.57"/><path d="M1442.97 558h27.45M1456.7 545.79v24.43"/><path d="M1399.57 551.8h34.66M1416.9 535.38v32.83"/><path d="M1461.9 561.8h28.41M1476.1 554.78v14.03"/><path d="M1468.05 558h26.51M1481.3 547.7v20.6"/><path d="M1471.83 567.6h17.94M1480.8 553.88v27.44"/><path d="M1476.52 564.1h25.35M1489.2 544.2v39.8"/><path d="M1437.27 563.8h23.06M1448.8 545.56v36.49"/><path d="M1442.89 565.5h19.62M1452.7 551.4v28.21"/><path d="M1446.53 570.8h24.54M1458.8 563.43v14.74"/><path d="M1449.84 574.1h18.33M1459 559.69v28.82"/><path d="M1434.79 576.9h36.83M1453.2 569.51v14.78"/><path d="M1460.08 574.1h20.65M1470.4 556.49v35.22"/><path d="M1404.48 563.6h31.45M1420.2 547.67v31.85"/><path d="M1411.25 566.4h28.91M1425.7 556.24v20.33"/><path d="M1418 580.4h24M1430 565.4v30"/><path d="M1432.7 584.7h20M1442.7 569.7v30"/><path d="M1471.4 587.3h24M1483.4 575.3v24"/><path d="M1431.6 599.8h24M1443.6 584.8v30"/><path d="M1460.5 601.3h30M1475.5 595.3v12"/><path d="M1506.2 545.3h24M1518.2 535.3v20"/><path d="M1501.8 565.9h24M1513.8 555.9v20"/><path d="M1436.58 495.74h36.57M1454.86 488.65v14.18"/><path d="M1468.15 520.57h18.01M1477.16 509.29v22.57"/><path d="M1454.25 489.68h32.24M1470.37 479.31v20.74"/><path d="M1451.91 504.45h30.85M1467.33 494.75v19.39"/><path d="M1435.97 494.67h16.09M1444.01 475.08v39.17"/><path d="M1456.86 473.18h16.01M1464.86 457.27v31.84"/><path d="M1450.28 489.25h17.81M1459.19 473.28v31.95"/><path d="M1423.11 493.63h38.05M1442.14 475.46v36.35"/><path d="M1445.73 524.09h16.5M1453.97 513.32v21.54"/><path d="M1474.16 521.86h20.59M1484.45 508.36v26.99"/><path d="M1432.79 503.73h34.09M1449.83 493.63v20.2"/><path d="M1434.36 476.49h37.94M1453.33 467.09v18.8"/><path d="M1457.99 529.19h24.67M1470.33 511.97v34.44"/><path d="M1435.06 502.53h37.89M1454 485.67v33.72"/><path d="M1505.77 540.38h20.46M1516 532.54v15.69"/><path d="M1436.45 509.2h34.83M1453.87 493.19v32.03"/><path d="M1437.97 519.42h24.96M1450.45 500.1v38.63"/><path d="M1453.6 499.57h29.25M1468.22 490.42v18.31"/><path d="M1490.1 505.24h33.63M1506.91 488.28v33.94"/><path d="M1439.2 515.17h39.86M1459.13 503.47v23.41"/><path d="M1458.76 495.02h36.66M1477.09 475.61v38.82"/><path d="M1485.43 498.74h24.7M1497.78 490v17.47"/><path d="M1468.46 481.02h26.09M1481.51 469.14v23.75"/><path d="M1444.12 456.86h18.99M1453.61 439.3v35.11"/><path d="M1463.14 490.18h35.15M1480.72 475.65v29.07"/><path d="M1462.64 496.44h36.95M1481.12 477.2v38.47"/><path d="M1458.24 523.52h39.47M1477.97 511.76v23.53"/><path d="M1460.22 515.68h30.06M1475.25 505.35v20.66"/><path d="M1450.75 500.71h23.11M1462.31 483.16v35.09"/><path d="M1442.68 506.84h23.34M1454.35 497.32v19.03"/></g>
<path d="M1268.5 343.7 L1275.25 349.8 L1281.99 355.91 L1288.74 362 L1295.49 368.1 L1302.24 374.19 L1308.99 380.28 L1315.73 386.36 L1322.48 392.44 L1329.23 398.51 L1335.97 404.57 L1342.72 410.62 L1349.47 416.66 L1356.22 422.69 L1362.97 428.7 L1369.71 434.69 L1376.46 440.67 L1383.21 446.61 L1389.95 452.54 L1396.7 458.43 L1403.45 464.28 L1410.2 470.1 L1416.95 475.89 L1423.69 481.65 L1430.44 487.38 L1437.19 493.09 L1443.93 498.77 L1450.68 504.42 L1457.43 510.06 L1464.18 515.68 L1470.93 521.29 L1477.67 526.88 L1484.42 532.47 L1491.17 538.04 L1497.91 543.61 L1504.66 549.17 L1511.41 554.73 L1518.16 560.28 L1524.91 565.82 L1531.65 571.36 L1538.4 576.9 L1538.4 589.9 L1531.65 583.83 L1524.91 577.76 L1518.16 571.69 L1511.41 565.63 L1504.66 559.58 L1497.91 553.53 L1491.17 547.49 L1484.42 541.45 L1477.67 535.43 L1470.93 529.41 L1464.18 523.41 L1457.43 517.42 L1450.68 511.45 L1443.93 505.49 L1437.19 499.56 L1430.44 493.66 L1423.69 487.78 L1416.95 481.93 L1410.2 476.11 L1403.45 470.32 L1396.7 464.56 L1389.95 458.84 L1383.21 453.16 L1376.46 447.49 L1369.71 441.86 L1362.97 436.24 L1356.22 430.64 L1349.47 425.06 L1342.72 419.49 L1335.97 413.93 L1329.23 408.38 L1322.48 402.84 L1315.73 397.31 L1308.99 391.78 L1302.24 386.26 L1295.49 380.74 L1288.74 375.23 L1281.99 369.71 L1275.25 364.21 L1268.5 358.7 Z" fill="#2ca02c" fill-opacity="0.4" stroke="none"/>
<path d="M1268.5 351.2L1538.4 583.4" stroke="#2ca02c" stroke-width="3.2" stroke-dasharray="10 4.4" fill="none"/>
<g fill="#2ca02c" stroke="#000" stroke-width="0.6"><circle cx="1324.6" cy="584.4" r="1.95"/><circle cx="1268.5" cy="436.7" r="1.95"/><circle cx="1332.8" cy="392.4" r="1.95"/><circle cx="1327.2" cy="397.1" r="1.95"/><circle cx="1329.6" cy="402.7" r="1.95"/><circle cx="1299.2" cy="404.2" r="1.95"/><circle cx="1303.2" cy="408.5" r="1.95"/><circle cx="1310.9" cy="408.2" r="1.95"/><circle cx="1313.8" cy="410.3" r="1.95"/><circle cx="1321.4" cy="405" r="1.95"/><circle cx="1382.6" cy="403" r="1.95"/><circle cx="1390.5" cy="408.7" r="1.95"/><circle cx="1376" cy="411.4" r="1.95"/><circle cx="1358.9" cy="419" r="1.95"/><circle cx="1298.8" cy="424.5" r="1.95"/><circle cx="1321.4" cy="422.1" r="1.95"/><circle cx="1320.9" cy="426.4" r="1.95"/><circle cx="1326" cy="426.1" r="1.95"/><circle cx="1311.1" cy="427.2" r="1.95"/><circle cx="1287.2" cy="429.2" r="1.95"/><circle cx="1291.3" cy="430.3" r="1.95"/><circle cx="1301.4" cy="432.2" r="1.95"/><circle cx="1306.7" cy="430" r="1.95"/><circle cx="1328.3" cy="433" r="1.95"/><circle cx="1336.7" cy="432.4" r="1.95"/><circle cx="1342.6" cy="424.8" r="1.95"/><circle cx="1343.1" cy="430.8" r="1.95"/><circle cx="1351" cy="426.7" r="1.95"/><circle cx="1354.9" cy="430.3" r="1.95"/><circle cx="1359.7" cy="426.1" r="1.95"/><circle cx="1370.3" cy="432.4" r="1.95"/><circle cx="1311.1" cy="437.9" r="1.95"/><circle cx="1313.8" cy="441.7" r="1.95"/><circle cx="1345.4" cy="442.2" r="1.95"/><circle cx="1349.4" cy="444.1" r="1.95"/><circle cx="1349.9" cy="445.7" r="1.95"/><circle cx="1330.4" cy="446.6" r="1.95"/><circle cx="1334" cy="445.1" r="1.95"/><circle cx="1376.3" cy="446.2" r="1.95"/><circle cx="1346.7" cy="456.4" r="1.95"/><circle cx="1354.9" cy="483.3" r="1.95"/><circle cx="1429.2" cy="400.9" r="1.95"/><circle cx="1377.5" cy="503.8" r="1.95"/><circle cx="1382.4" cy="509.9" r="1.95"/><circle cx="1383.2" cy="513.2" r="1.95"/><circle cx="1496.3" cy="416.3" r="1.95"/><circle cx="1466.3" cy="423.8" r="1.95"/><circle cx="1481" cy="426.9" r="1.95"/><circle cx="1497.3" cy="454.8" r="1.95"/><circle cx="1403.4" cy="429.3" r="1.95"/><circle cx="1437.9" cy="427.9" r="1.95"/><circle cx="1453" cy="429.6" r="1.95"/><circle cx="1445.4" cy="435.8" r="1.95"/><circle cx="1452.2" cy="439" r="1.95"/><circle cx="1459.3" cy="437.8" r="1.95"/><circle cx="1463.6" cy="443.2" r="1.95"/><circle cx="1464.7" cy="442.7" r="1.95"/><circle cx="1462.5" cy="446.7" r="1.95"/><circle cx="1410.9" cy="438.8" r="1.95"/><circle cx="1415.8" cy="439" r="1.95"/><circle cx="1418.5" cy="442.4" r="1.95"/><circle cx="1421.3" cy="441.3" r="1.95"/><circle cx="1400.8" cy="445.1" r="1.95"/><circle cx="1398.7" cy="449.2" r="1.95"/><circle cx="1400.3" cy="452.4" r="1.95"/><circle cx="1401.9" cy="451.4" r="1.95"/><circle cx="1411.7" cy="445.6" r="1.95"/><circle cx="1417.8" cy="448.3" r="1.95"/><circle cx="1409.8" cy="451.9" r="1.95"/><circle cx="1413.7" cy="453" r="1.95"/><circle cx="1428.8" cy="451.9" r="1.95"/><circle cx="1431.1" cy="448" r="1.95"/><circle cx="1433.5" cy="448.8" r="1.95"/><circle cx="1436.2" cy="444" r="1.95"/><circle cx="1435.4" cy="447.7" r="1.95"/><circle cx="1419.3" cy="455.6" r="1.95"/><circle cx="1419.7" cy="460.6" r="1.95"/><circle cx="1404.2" cy="459.4" r="1.95"/><circle cx="1406.3" cy="460.6" r="1.95"/><circle cx="1434.8" cy="455.9" r="1.95"/><circle cx="1435.9" cy="458.3" r="1.95"/><circle cx="1446.2" cy="456.4" r="1.95"/><circle cx="1450.4" cy="456.2" r="1.95"/><circle cx="1448.1" cy="462.2" r="1.95"/><circle cx="1463.6" cy="458.3" r="1.95"/><circle cx="1463.9" cy="459.4" r="1.95"/><circle cx="1428.4" cy="464.3" r="1.95"/><circle cx="1430.3" cy="468.1" r="1.95"/><circle cx="1406.6" cy="469.3" r="1.95"/><circle cx="1398.7" cy="476.1" r="1.95"/><circle cx="1417.7" cy="474.1" r="1.95"/><circle cx="1420.5" cy="473" r="1.95"/><circle cx="1428" cy="474.9" r="1.95"/><circle cx="1440.3" cy="473.3" r="1.95"/><circle cx="1449.8" cy="472.5" r="1.95"/><circle cx="1436.4" cy="477.2" r="1.95"/><circle cx="1437.5" cy="481.2" r="1.95"/><circle cx="1443.8" cy="480.4" r="1.95"/><circle cx="1406.3" cy="480.7" r="1.95"/><circle cx="1413.4" cy="485.9" r="1.95"/><circle cx="1420.4" cy="486.3" r="1.95"/><circle cx="1429.1" cy="482.8" r="1.95"/><circle cx="1400.3" cy="487" r="1.95"/><circle cx="1485.4" cy="488.3" r="1.95"/><circle cx="1431.9" cy="488" r="1.95"/><circle cx="1436.2" cy="490.7" r="1.95"/><circle cx="1442.2" cy="491.5" r="1.95"/><circle cx="1447.7" cy="489.1" r="1.95"/><circle cx="1454.1" cy="491.5" r="1.95"/><circle cx="1456.4" cy="493.1" r="1.95"/><circle cx="1460.4" cy="491.9" r="1.95"/><circle cx="1465.1" cy="489.1" r="1.95"/><circle cx="1467.5" cy="492.6" r="1.95"/><circle cx="1470.4" cy="492" r="1.95"/><circle cx="1448.5" cy="495.4" r="1.95"/><circle cx="1451.4" cy="498" r="1.95"/><circle cx="1454.9" cy="495.4" r="1.95"/><circle cx="1458.3" cy="497.3" r="1.95"/><circle cx="1462" cy="496.2" r="1.95"/><circle cx="1474.6" cy="496.5" r="1.95"/><circle cx="1480.2" cy="493.8" r="1.95"/><circle cx="1488.9" cy="497" r="1.95"/><circle cx="1492" cy="497" r="1.95"/><circle cx="1498.4" cy="496.2" r="1.95"/><circle cx="1498.8" cy="499.4" r="1.95"/><circle cx="1498.8" cy="501.8" r="1.95"/><circle cx="1511.8" cy="498.3" r="1.95"/><circle cx="1511.8" cy="501.8" r="1.95"/><circle cx="1528.9" cy="495.4" r="1.95"/><circle cx="1423.2" cy="497" r="1.95"/><circle cx="1431.9" cy="497.8" r="1.95"/><circle cx="1412.5" cy="500.5" r="1.95"/><circle cx="1419.7" cy="502.6" r="1.95"/><circle cx="1438.7" cy="496.7" r="1.95"/><circle cx="1448.5" cy="502.1" r="1.95"/><circle cx="1444.6" cy="503.3" r="1.95"/><circle cx="1462" cy="500.2" r="1.95"/><circle cx="1464.4" cy="501.4" r="1.95"/><circle cx="1467.5" cy="502.1" r="1.95"/><circle cx="1469.9" cy="503.3" r="1.95"/><circle cx="1466.7" cy="504.9" r="1.95"/><circle cx="1468.3" cy="506.5" r="1.95"/><circle cx="1478.3" cy="503.7" r="1.95"/><circle cx="1484.9" cy="503.8" r="1.95"/><circle cx="1492.5" cy="503.7" r="1.95"/><circle cx="1485.7" cy="506.5" r="1.95"/><circle cx="1488.1" cy="507.3" r="1.95"/><circle cx="1479.4" cy="508.9" r="1.95"/><circle cx="1412.9" cy="507.3" r="1.95"/><circle cx="1402.7" cy="509.7" r="1.95"/><circle cx="1420.1" cy="510" r="1.95"/><circle cx="1422.9" cy="511.3" r="1.95"/><circle cx="1435.6" cy="505.7" r="1.95"/><circle cx="1439.4" cy="505.7" r="1.95"/><circle cx="1456.9" cy="506.8" r="1.95"/><circle cx="1457.7" cy="508.9" r="1.95"/><circle cx="1445.4" cy="509.7" r="1.95"/><circle cx="1447.7" cy="512" r="1.95"/><circle cx="1440.6" cy="514.4" r="1.95"/><circle cx="1445.4" cy="514.4" r="1.95"/><circle cx="1452.5" cy="516.8" r="1.95"/><circle cx="1468.3" cy="509.7" r="1.95"/><circle cx="1469.9" cy="513.6" r="1.95"/><circle cx="1477.8" cy="512" r="1.95"/><circle cx="1481.8" cy="510" r="1.95"/><circle cx="1486.2" cy="510" r="1.95"/><circle cx="1491.3" cy="510.5" r="1.95"/><circle cx="1494.4" cy="514.4" r="1.95"/><circle cx="1498.4" cy="512.8" r="1.95"/><circle cx="1509" cy="508.4" r="1.95"/><circle cx="1510.2" cy="515.7" r="1.95"/><circle cx="1520.5" cy="517.3" r="1.95"/><circle cx="1427.7" cy="517.3" r="1.95"/><circle cx="1432.7" cy="517.3" r="1.95"/><circle cx="1462" cy="514.4" r="1.95"/><circle cx="1467.5" cy="515.2" r="1.95"/><circle cx="1412.8" cy="526.3" r="1.95"/><circle cx="1416.7" cy="529.5" r="1.95"/><circle cx="1407.2" cy="532.5" r="1.95"/><circle cx="1423" cy="534.8" r="1.95"/><circle cx="1427.8" cy="522" r="1.95"/><circle cx="1430.4" cy="522.8" r="1.95"/><circle cx="1428.6" cy="525.5" r="1.95"/><circle cx="1424.8" cy="529" r="1.95"/><circle cx="1428.6" cy="529.9" r="1.95"/><circle cx="1434.8" cy="527.2" r="1.95"/><circle cx="1442.7" cy="525.5" r="1.95"/><circle cx="1444.4" cy="527.2" r="1.95"/><circle cx="1442.7" cy="529" r="1.95"/><circle cx="1445.8" cy="522" r="1.95"/><circle cx="1431.6" cy="536.9" r="1.95"/><circle cx="1450.2" cy="531.6" r="1.95"/><circle cx="1456.7" cy="522.5" r="1.95"/><circle cx="1462" cy="523.2" r="1.95"/><circle cx="1459.9" cy="530.7" r="1.95"/><circle cx="1463.8" cy="529.9" r="1.95"/><circle cx="1466.4" cy="528.1" r="1.95"/><circle cx="1465.5" cy="525.5" r="1.95"/><circle cx="1462" cy="514.9" r="1.95"/><circle cx="1467.3" cy="516.7" r="1.95"/><circle cx="1470.8" cy="516.7" r="1.95"/><circle cx="1472.5" cy="535.1" r="1.95"/><circle cx="1470.8" cy="540" r="1.95"/><circle cx="1477.5" cy="525.5" r="1.95"/><circle cx="1481.9" cy="525.5" r="1.95"/><circle cx="1488" cy="526.3" r="1.95"/><circle cx="1490.1" cy="522" r="1.95"/><circle cx="1495" cy="522" r="1.95"/><circle cx="1520.5" cy="517.6" r="1.95"/><circle cx="1538.4" cy="517.6" r="1.95"/><circle cx="1497.5" cy="533" r="1.95"/><circle cx="1501.9" cy="529.9" r="1.95"/><circle cx="1509.1" cy="527.6" r="1.95"/><circle cx="1477.8" cy="537.8" r="1.95"/><circle cx="1482.2" cy="532.5" r="1.95"/><circle cx="1438.3" cy="540.7" r="1.95"/><circle cx="1445" cy="542.5" r="1.95"/><circle cx="1444.4" cy="547.1" r="1.95"/><circle cx="1445.3" cy="547.4" r="1.95"/><circle cx="1427.4" cy="547.4" r="1.95"/><circle cx="1433.6" cy="546" r="1.95"/><circle cx="1432.7" cy="549.2" r="1.95"/><circle cx="1434.8" cy="550.1" r="1.95"/><circle cx="1453.2" cy="546" r="1.95"/><circle cx="1461.1" cy="542.5" r="1.95"/><circle cx="1462" cy="547.8" r="1.95"/><circle cx="1440.6" cy="553" r="1.95"/><circle cx="1444.1" cy="552.3" r="1.95"/><circle cx="1470.4" cy="540" r="1.95"/><circle cx="1473.4" cy="548.8" r="1.95"/><circle cx="1470.8" cy="552.3" r="1.95"/><circle cx="1473.4" cy="555.8" r="1.95"/><circle cx="1471.7" cy="559.7" r="1.95"/><circle cx="1481.3" cy="543.9" r="1.95"/><circle cx="1483.1" cy="545.7" r="1.95"/><circle cx="1488.7" cy="546.5" r="1.95"/><circle cx="1463.8" cy="554.1" r="1.95"/><circle cx="1462.9" cy="558.8" r="1.95"/><circle cx="1456.7" cy="558" r="1.95"/><circle cx="1416.9" cy="551.8" r="1.95"/><circle cx="1476.1" cy="561.8" r="1.95"/><circle cx="1481.3" cy="558" r="1.95"/><circle cx="1480.8" cy="567.6" r="1.95"/><circle cx="1489.2" cy="564.1" r="1.95"/><circle cx="1448.8" cy="563.8" r="1.95"/><circle cx="1452.7" cy="565.5" r="1.95"/><circle cx="1458.8" cy="570.8" r="1.95"/><circle cx="1459" cy="574.1" r="1.95"/><circle cx="1453.2" cy="576.9" r="1.95"/><circle cx="1470.4" cy="574.1" r="1.95"/><circle cx="1420.2" cy="563.6" r="1.95"/><circle cx="1425.7" cy="566.4" r="1.95"/><circle cx="1430" cy="580.4" r="1.95"/><circle cx="1442.7" cy="584.7" r="1.95"/><circle cx="1483.4" cy="587.3" r="1.95"/><circle cx="1443.6" cy="599.8" r="1.95"/><circle cx="1475.5" cy="601.3" r="1.95"/><circle cx="1518.2" cy="545.3" r="1.95"/><circle cx="1513.8" cy="565.9" r="1.95"/><circle cx="1454.86" cy="495.74" r="1.95"/><circle cx="1477.16" cy="520.57" r="1.95"/><circle cx="1470.37" cy="489.68" r="1.95"/><circle cx="1467.33" cy="504.45" r="1.95"/><circle cx="1444.01" cy="494.67" r="1.95"/><circle cx="1464.86" cy="473.18" r="1.95"/><circle cx="1459.19" cy="489.25" r="1.95"/><circle cx="1442.14" cy="493.63" r="1.95"/><circle cx="1453.97" cy="524.09" r="1.95"/><circle cx="1484.45" cy="521.86" r="1.95"/><circle cx="1449.83" cy="503.73" r="1.95"/><circle cx="1453.33" cy="476.49" r="1.95"/><circle cx="1470.33" cy="529.19" r="1.95"/><circle cx="1454" cy="502.53" r="1.95"/><circle cx="1516" cy="540.38" r="1.95"/><circle cx="1453.87" cy="509.2" r="1.95"/><circle cx="1450.45" cy="519.42" r="1.95"/><circle cx="1468.22" cy="499.57" r="1.95"/><circle cx="1506.91" cy="505.24" r="1.95"/><circle cx="1459.13" cy="515.17" r="1.95"/><circle cx="1477.09" cy="495.02" r="1.95"/><circle cx="1497.78" cy="498.74" r="1.95"/><circle cx="1481.51" cy="481.02" r="1.95"/><circle cx="1453.61" cy="456.86" r="1.95"/><circle cx="1480.72" cy="490.18" r="1.95"/><circle cx="1481.12" cy="496.44" r="1.95"/><circle cx="1477.97" cy="523.52" r="1.95"/><circle cx="1475.25" cy="515.68" r="1.95"/><circle cx="1462.31" cy="500.71" r="1.95"/><circle cx="1454.35" cy="506.84" r="1.95"/></g>
</g>
<g><path d="M105.6 297.8v-5.5M105.6 16v5.5M133.4 297.8v-5.5M133.4 16v5.5M161.2 297.8v-5.5M161.2 16v5.5M189 297.8v-5.5M189 16v5.5M216.8 297.8v-5.5M216.8 16v5.5M244.6 297.8v-5.5M244.6 16v5.5M272.4 297.8v-5.5M272.4 16v5.5M300.2 297.8v-5.5M300.2 16v5.5M328 297.8v-5.5M328 16v5.5M355.8 297.8v-5.5M355.8 16v5.5M383.6 297.8v-5.5M383.6 16v5.5M411.4 297.8v-5.5M411.4 16v5.5M89 27.93h5.5M411.9 27.93h-5.5M89 40.96h5.5M411.9 40.96h-5.5M89 54h5.5M411.9 54h-5.5M89 67.04h5.5M411.9 67.04h-5.5M89 80.08h5.5M411.9 80.08h-5.5M89 93.11h5.5M411.9 93.11h-5.5M89 106.15h5.5M411.9 106.15h-5.5M89 119.19h5.5M411.9 119.19h-5.5M89 132.22h5.5M411.9 132.22h-5.5M89 145.26h5.5M411.9 145.26h-5.5M89 158.3h5.5M411.9 158.3h-5.5M89 171.34h5.5M411.9 171.34h-5.5M89 184.38h5.5M411.9 184.38h-5.5M89 197.41h5.5M411.9 197.41h-5.5M89 210.45h5.5M411.9 210.45h-5.5M89 223.49h5.5M411.9 223.49h-5.5M89 236.53h5.5M411.9 236.53h-5.5M89 249.56h5.5M411.9 249.56h-5.5M89 262.6h5.5M411.9 262.6h-5.5M89 275.64h5.5M411.9 275.64h-5.5M89 288.67h5.5M411.9 288.67h-5.5" stroke="#000" stroke-width="1.2" fill="none"/>
<path d="M161.2 297.8v-10M161.2 16v10M300.2 297.8v-10M300.2 16v10M89 54h10M411.9 54h-10M89 106.15h10M411.9 106.15h-10M89 158.3h10M411.9 158.3h-10M89 210.45h10M411.9 210.45h-10M89 262.6h10M411.9 262.6h-10" stroke="#000" stroke-width="1.6" fill="none"/>
<rect x="89" y="16" width="322.9" height="281.8" fill="none" stroke="#000" stroke-width="1.9"/>
<path d="M477.2 297.8v-5.5M477.2 16v5.5M502.68 297.8v-5.5M502.68 16v5.5M528.16 297.8v-5.5M528.16 16v5.5M553.64 297.8v-5.5M553.64 16v5.5M579.12 297.8v-5.5M579.12 16v5.5M604.6 297.8v-5.5M604.6 16v5.5M630.08 297.8v-5.5M630.08 16v5.5M655.56 297.8v-5.5M655.56 16v5.5M681.04 297.8v-5.5M681.04 16v5.5M706.52 297.8v-5.5M706.52 16v5.5M732 297.8v-5.5M732 16v5.5M757.48 297.8v-5.5M757.48 16v5.5M782.96 297.8v-5.5M782.96 16v5.5M473.5 20.4h5.5M796.4 20.4h-5.5M473.5 34.5h5.5M796.4 34.5h-5.5M473.5 48.6h5.5M796.4 48.6h-5.5M473.5 62.7h5.5M796.4 62.7h-5.5M473.5 76.8h5.5M796.4 76.8h-5.5M473.5 90.9h5.5M796.4 90.9h-5.5M473.5 105h5.5M796.4 105h-5.5M473.5 119.1h5.5M796.4 119.1h-5.5M473.5 133.2h5.5M796.4 133.2h-5.5M473.5 147.3h5.5M796.4 147.3h-5.5M473.5 161.4h5.5M796.4 161.4h-5.5M473.5 175.5h5.5M796.4 175.5h-5.5M473.5 189.6h5.5M796.4 189.6h-5.5M473.5 203.7h5.5M796.4 203.7h-5.5M473.5 217.8h5.5M796.4 217.8h-5.5M473.5 231.9h5.5M796.4 231.9h-5.5M473.5 246h5.5M796.4 246h-5.5M473.5 260.1h5.5M796.4 260.1h-5.5M473.5 274.2h5.5M796.4 274.2h-5.5M473.5 288.3h5.5M796.4 288.3h-5.5" stroke="#000" stroke-width="1.2" fill="none"/>
<path d="M477.2 297.8v-10M477.2 16v10M604.6 297.8v-10M604.6 16v10M732 297.8v-10M732 16v10M473.5 20.4h10M796.4 20.4h-10M473.5 76.8h10M796.4 76.8h-10M473.5 133.2h10M796.4 133.2h-10M473.5 189.6h10M796.4 189.6h-10M473.5 246h10M796.4 246h-10" stroke="#000" stroke-width="1.6" fill="none"/>
<rect x="473.5" y="16" width="322.9" height="281.8" fill="none" stroke="#000" stroke-width="1.9"/>
<path d="M876.55 297.8v-5.5M876.55 16v5.5M906.5 297.8v-5.5M906.5 16v5.5M936.45 297.8v-5.5M936.45 16v5.5M966.4 297.8v-5.5M966.4 16v5.5M996.35 297.8v-5.5M996.35 16v5.5M1026.3 297.8v-5.5M1026.3 16v5.5M1056.25 297.8v-5.5M1056.25 16v5.5M1086.2 297.8v-5.5M1086.2 16v5.5M1116.15 297.8v-5.5M1116.15 16v5.5M1146.1 297.8v-5.5M1146.1 16v5.5M1176.05 297.8v-5.5M1176.05 16v5.5M857.9 21.4h5.5M1180.8 21.4h-5.5M857.9 34.78h5.5M1180.8 34.78h-5.5M857.9 48.16h5.5M1180.8 48.16h-5.5M857.9 61.54h5.5M1180.8 61.54h-5.5M857.9 74.92h5.5M1180.8 74.92h-5.5M857.9 88.3h5.5M1180.8 88.3h-5.5M857.9 101.68h5.5M1180.8 101.68h-5.5M857.9 115.06h5.5M1180.8 115.06h-5.5M857.9 128.44h5.5M1180.8 128.44h-5.5M857.9 141.82h5.5M1180.8 141.82h-5.5M857.9 155.2h5.5M1180.8 155.2h-5.5M857.9 168.58h5.5M1180.8 168.58h-5.5M857.9 181.96h5.5M1180.8 181.96h-5.5M857.9 195.34h5.5M1180.8 195.34h-5.5M857.9 208.72h5.5M1180.8 208.72h-5.5M857.9 222.1h5.5M1180.8 222.1h-5.5M857.9 235.48h5.5M1180.8 235.48h-5.5M857.9 248.86h5.5M1180.8 248.86h-5.5M857.9 262.24h5.5M1180.8 262.24h-5.5M857.9 275.62h5.5M1180.8 275.62h-5.5M857.9 289h5.5M1180.8 289h-5.5" stroke="#000" stroke-width="1.2" fill="none"/>
<path d="M966.4 297.8v-10M966.4 16v10M1086.2 297.8v-10M1086.2 16v10M857.9 21.4h10M1180.8 21.4h-10M857.9 88.3h10M1180.8 88.3h-10M857.9 155.2h10M1180.8 155.2h-10M857.9 222.1h10M1180.8 222.1h-10M857.9 289h10M1180.8 289h-10" stroke="#000" stroke-width="1.6" fill="none"/>
<rect x="857.9" y="16" width="322.9" height="281.8" fill="none" stroke="#000" stroke-width="1.9"/>
<path d="M1266.45 297.8v-5.5M1266.45 16v5.5M1293.62 297.8v-5.5M1293.62 16v5.5M1320.8 297.8v-5.5M1320.8 16v5.5M1347.97 297.8v-5.5M1347.97 16v5.5M1375.15 297.8v-5.5M1375.15 16v5.5M1402.33 297.8v-5.5M1402.33 16v5.5M1429.5 297.8v-5.5M1429.5 16v5.5M1456.67 297.8v-5.5M1456.67 16v5.5M1483.85 297.8v-5.5M1483.85 16v5.5M1511.02 297.8v-5.5M1511.02 16v5.5M1538.2 297.8v-5.5M1538.2 16v5.5M1565.38 297.8v-5.5M1565.38 16v5.5M1242.4 29.7h5.5M1565.3 29.7h-5.5M1242.4 48.7h5.5M1565.3 48.7h-5.5M1242.4 67.7h5.5M1565.3 67.7h-5.5M1242.4 86.7h5.5M1565.3 86.7h-5.5M1242.4 105.7h5.5M1565.3 105.7h-5.5M1242.4 124.7h5.5M1565.3 124.7h-5.5M1242.4 143.7h5.5M1565.3 143.7h-5.5M1242.4 162.7h5.5M1565.3 162.7h-5.5M1242.4 181.7h5.5M1565.3 181.7h-5.5M1242.4 200.7h5.5M1565.3 200.7h-5.5M1242.4 219.7h5.5M1565.3 219.7h-5.5M1242.4 238.7h5.5M1565.3 238.7h-5.5M1242.4 257.7h5.5M1565.3 257.7h-5.5M1242.4 276.7h5.5M1565.3 276.7h-5.5M1242.4 295.7h5.5M1565.3 295.7h-5.5" stroke="#000" stroke-width="1.2" fill="none"/>
<path d="M1320.8 297.8v-10M1320.8 16v10M1429.5 297.8v-10M1429.5 16v10M1538.2 297.8v-10M1538.2 16v10M1242.4 29.7h10M1565.3 29.7h-10M1242.4 105.7h10M1565.3 105.7h-10M1242.4 181.7h10M1565.3 181.7h-10M1242.4 257.7h10M1565.3 257.7h-10" stroke="#000" stroke-width="1.6" fill="none"/>
<rect x="1242.4" y="16" width="322.9" height="281.8" fill="none" stroke="#000" stroke-width="1.9"/>
<path d="M108.38 622v-5.5M108.38 340v5.5M129.54 622v-5.5M129.54 340v5.5M150.7 622v-5.5M150.7 340v5.5M171.86 622v-5.5M171.86 340v5.5M193.02 622v-5.5M193.02 340v5.5M214.18 622v-5.5M214.18 340v5.5M235.34 622v-5.5M235.34 340v5.5M256.5 622v-5.5M256.5 340v5.5M277.66 622v-5.5M277.66 340v5.5M298.82 622v-5.5M298.82 340v5.5M319.98 622v-5.5M319.98 340v5.5M341.14 622v-5.5M341.14 340v5.5M362.3 622v-5.5M362.3 340v5.5M383.46 622v-5.5M383.46 340v5.5M404.62 622v-5.5M404.62 340v5.5M89 345.5h5.5M411.9 345.5h-5.5M89 361.2h5.5M411.9 361.2h-5.5M89 376.9h5.5M411.9 376.9h-5.5M89 392.6h5.5M411.9 392.6h-5.5M89 408.3h5.5M411.9 408.3h-5.5M89 424h5.5M411.9 424h-5.5M89 439.7h5.5M411.9 439.7h-5.5M89 455.4h5.5M411.9 455.4h-5.5M89 471.1h5.5M411.9 471.1h-5.5M89 486.8h5.5M411.9 486.8h-5.5M89 502.5h5.5M411.9 502.5h-5.5M89 518.2h5.5M411.9 518.2h-5.5M89 533.9h5.5M411.9 533.9h-5.5M89 549.6h5.5M411.9 549.6h-5.5M89 565.3h5.5M411.9 565.3h-5.5M89 581h5.5M411.9 581h-5.5M89 596.7h5.5M411.9 596.7h-5.5M89 612.4h5.5M411.9 612.4h-5.5" stroke="#000" stroke-width="1.2" fill="none"/>
<path d="M150.7 622v-10M150.7 340v10M256.5 622v-10M256.5 340v10M362.3 622v-10M362.3 340v10M89 408.3h10M411.9 408.3h-10M89 486.8h10M411.9 486.8h-10M89 565.3h10M411.9 565.3h-10" stroke="#000" stroke-width="1.6" fill="none"/>
<rect x="89" y="340" width="322.9" height="282" fill="none" stroke="#000" stroke-width="1.9"/>
<path d="M491.8 622v-5.5M491.8 340v5.5M522.7 622v-5.5M522.7 340v5.5M553.6 622v-5.5M553.6 340v5.5M584.5 622v-5.5M584.5 340v5.5M615.4 622v-5.5M615.4 340v5.5M646.3 622v-5.5M646.3 340v5.5M677.2 622v-5.5M677.2 340v5.5M708.1 622v-5.5M708.1 340v5.5M739 622v-5.5M739 340v5.5M769.9 622v-5.5M769.9 340v5.5M473.5 347.7h5.5M796.4 347.7h-5.5M473.5 369.9h5.5M796.4 369.9h-5.5M473.5 392.1h5.5M796.4 392.1h-5.5M473.5 414.3h5.5M796.4 414.3h-5.5M473.5 436.5h5.5M796.4 436.5h-5.5M473.5 458.7h5.5M796.4 458.7h-5.5M473.5 480.9h5.5M796.4 480.9h-5.5M473.5 503.1h5.5M796.4 503.1h-5.5M473.5 525.3h5.5M796.4 525.3h-5.5M473.5 547.5h5.5M796.4 547.5h-5.5M473.5 569.7h5.5M796.4 569.7h-5.5M473.5 591.9h5.5M796.4 591.9h-5.5M473.5 614.1h5.5M796.4 614.1h-5.5" stroke="#000" stroke-width="1.2" fill="none"/>
<path d="M522.7 622v-10M522.7 340v10M677.2 622v-10M677.2 340v10M473.5 414.3h10M796.4 414.3h-10M473.5 503.1h10M796.4 503.1h-10M473.5 591.9h10M796.4 591.9h-10" stroke="#000" stroke-width="1.6" fill="none"/>
<rect x="473.5" y="340" width="322.9" height="282" fill="none" stroke="#000" stroke-width="1.9"/>
<path d="M864.12 622v-5.5M864.12 340v5.5M885.09 622v-5.5M885.09 340v5.5M906.06 622v-5.5M906.06 340v5.5M927.03 622v-5.5M927.03 340v5.5M948 622v-5.5M948 340v5.5M968.97 622v-5.5M968.97 340v5.5M989.94 622v-5.5M989.94 340v5.5M1010.91 622v-5.5M1010.91 340v5.5M1031.88 622v-5.5M1031.88 340v5.5M1052.85 622v-5.5M1052.85 340v5.5M1073.82 622v-5.5M1073.82 340v5.5M1094.79 622v-5.5M1094.79 340v5.5M1115.76 622v-5.5M1115.76 340v5.5M1136.73 622v-5.5M1136.73 340v5.5M1157.7 622v-5.5M1157.7 340v5.5M1178.67 622v-5.5M1178.67 340v5.5M857.9 346.8h5.5M1180.8 346.8h-5.5M857.9 362.03h5.5M1180.8 362.03h-5.5M857.9 377.25h5.5M1180.8 377.25h-5.5M857.9 392.48h5.5M1180.8 392.48h-5.5M857.9 407.7h5.5M1180.8 407.7h-5.5M857.9 422.93h5.5M1180.8 422.93h-5.5M857.9 438.15h5.5M1180.8 438.15h-5.5M857.9 453.38h5.5M1180.8 453.38h-5.5M857.9 468.6h5.5M1180.8 468.6h-5.5M857.9 483.83h5.5M1180.8 483.83h-5.5M857.9 499.05h5.5M1180.8 499.05h-5.5M857.9 514.27h5.5M1180.8 514.27h-5.5M857.9 529.5h5.5M1180.8 529.5h-5.5M857.9 544.73h5.5M1180.8 544.73h-5.5M857.9 559.95h5.5M1180.8 559.95h-5.5M857.9 575.17h5.5M1180.8 575.17h-5.5M857.9 590.4h5.5M1180.8 590.4h-5.5M857.9 605.62h5.5M1180.8 605.62h-5.5M857.9 620.85h5.5M1180.8 620.85h-5.5" stroke="#000" stroke-width="1.2" fill="none"/>
<path d="M948 622v-10M948 340v10M1052.85 622v-10M1052.85 340v10M1157.7 622v-10M1157.7 340v10M857.9 346.8h10M1180.8 346.8h-10M857.9 407.7h10M1180.8 407.7h-10M857.9 468.6h10M1180.8 468.6h-10M857.9 529.5h10M1180.8 529.5h-10M857.9 590.4h10M1180.8 590.4h-10" stroke="#000" stroke-width="1.6" fill="none"/>
<rect x="857.9" y="340" width="322.9" height="282" fill="none" stroke="#000" stroke-width="1.9"/>
<path d="M1259.68 622v-5.5M1259.68 340v5.5M1284.06 622v-5.5M1284.06 340v5.5M1308.44 622v-5.5M1308.44 340v5.5M1332.82 622v-5.5M1332.82 340v5.5M1357.2 622v-5.5M1357.2 340v5.5M1381.58 622v-5.5M1381.58 340v5.5M1405.96 622v-5.5M1405.96 340v5.5M1430.34 622v-5.5M1430.34 340v5.5M1454.72 622v-5.5M1454.72 340v5.5M1479.1 622v-5.5M1479.1 340v5.5M1503.48 622v-5.5M1503.48 340v5.5M1527.86 622v-5.5M1527.86 340v5.5M1552.24 622v-5.5M1552.24 340v5.5M1242.4 349.8h5.5M1565.3 349.8h-5.5M1242.4 363.98h5.5M1565.3 363.98h-5.5M1242.4 378.15h5.5M1565.3 378.15h-5.5M1242.4 392.33h5.5M1565.3 392.33h-5.5M1242.4 406.5h5.5M1565.3 406.5h-5.5M1242.4 420.68h5.5M1565.3 420.68h-5.5M1242.4 434.85h5.5M1565.3 434.85h-5.5M1242.4 449.03h5.5M1565.3 449.03h-5.5M1242.4 463.2h5.5M1565.3 463.2h-5.5M1242.4 477.38h5.5M1565.3 477.38h-5.5M1242.4 491.55h5.5M1565.3 491.55h-5.5M1242.4 505.73h5.5M1565.3 505.73h-5.5M1242.4 519.9h5.5M1565.3 519.9h-5.5M1242.4 534.08h5.5M1565.3 534.08h-5.5M1242.4 548.25h5.5M1565.3 548.25h-5.5M1242.4 562.42h5.5M1565.3 562.42h-5.5M1242.4 576.6h5.5M1565.3 576.6h-5.5M1242.4 590.78h5.5M1565.3 590.78h-5.5M1242.4 604.95h5.5M1565.3 604.95h-5.5M1242.4 619.12h5.5M1565.3 619.12h-5.5" stroke="#000" stroke-width="1.2" fill="none"/>
<path d="M1357.2 622v-10M1357.2 340v10M1479.1 622v-10M1479.1 340v10M1242.4 349.8h10M1565.3 349.8h-10M1242.4 406.5h10M1565.3 406.5h-10M1242.4 463.2h10M1565.3 463.2h-10M1242.4 519.9h10M1565.3 519.9h-10M1242.4 576.6h10M1565.3 576.6h-10" stroke="#000" stroke-width="1.6" fill="none"/>
<rect x="1242.4" y="340" width="322.9" height="282" fill="none" stroke="#000" stroke-width="1.9"/></g>
</svg>
</body></html>
